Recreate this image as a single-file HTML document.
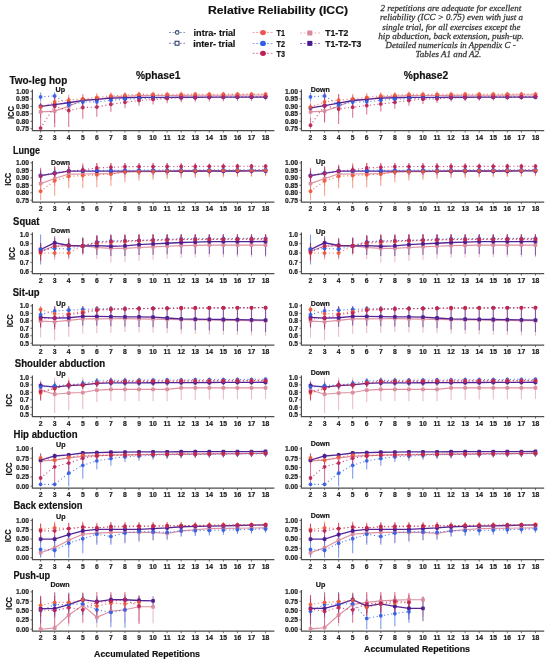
<!DOCTYPE html>
<html><head><meta charset="utf-8"><title>Relative Reliability (ICC)</title>
<style>
html,body{margin:0;padding:0;background:#fff;}
body{width:550px;height:661px;overflow:hidden;font-family:"Liberation Sans", sans-serif;}
svg{display:block;filter:blur(0.3px);}
</style></head>
<body>
<svg width="550" height="661" viewBox="0 0 550 661">
<rect width="550" height="661" fill="#fff"/>
<text x="208" y="14.1" font-size="11.5" font-weight="bold" text-anchor="start" fill="#111" font-family='"Liberation Sans", sans-serif' stroke="#111" stroke-width="0.18" textLength="140" lengthAdjust="spacingAndGlyphs">Relative Reliability (ICC)</text>
<line x1="169" y1="32.4" x2="185" y2="32.4" stroke="#2F4470" stroke-width="0.8" stroke-dasharray="2 1.6" opacity="0.75"/>
<circle cx="177.2" cy="32.4" r="1.8" fill="#fff" stroke="#2F4470" stroke-width="1.1"/>
<line x1="169" y1="43.3" x2="185" y2="43.3" stroke="#2F4470" stroke-width="0.8" stroke-dasharray="2 1.6" opacity="0.75"/>
<rect x="175.1" y="41.3" width="3.9" height="3.9" fill="#fff" stroke="#2F4470" stroke-width="1.1"/>
<text x="193.6" y="35.7" font-size="9.2" font-weight="bold" text-anchor="start" fill="#111" font-family='"Liberation Sans", sans-serif' stroke="#222" stroke-width="0.2" textLength="42" lengthAdjust="spacingAndGlyphs">intra- trial</text>
<text x="193.2" y="46.7" font-size="9.2" font-weight="bold" text-anchor="start" fill="#111" font-family='"Liberation Sans", sans-serif' stroke="#222" stroke-width="0.2" textLength="42.1" lengthAdjust="spacingAndGlyphs">inter- trial</text>
<line x1="252.6" y1="32.6" x2="273" y2="32.6" stroke="#F05838" stroke-width="0.8" stroke-dasharray="2 1.6" opacity="0.75"/>
<ellipse cx="263" cy="32.6" rx="2.9" ry="2.6" fill="#EC5656"/>
<text x="276.5" y="35.9" font-size="8.8" font-weight="bold" text-anchor="start" fill="#111" font-family='"Liberation Sans", sans-serif' stroke="#222" stroke-width="0.2" textLength="8.4" lengthAdjust="spacingAndGlyphs">T1</text>
<line x1="252.6" y1="43.4" x2="273" y2="43.4" stroke="#3260E4" stroke-width="0.8" stroke-dasharray="2 1.6" opacity="0.75"/>
<ellipse cx="263" cy="43.4" rx="2.9" ry="2.6" fill="#3260E4"/>
<text x="276.5" y="46.7" font-size="8.8" font-weight="bold" text-anchor="start" fill="#111" font-family='"Liberation Sans", sans-serif' stroke="#222" stroke-width="0.2" textLength="8.4" lengthAdjust="spacingAndGlyphs">T2</text>
<line x1="252.6" y1="53.3" x2="273" y2="53.3" stroke="#BC2256" stroke-width="0.8" stroke-dasharray="2 1.6" opacity="0.75"/>
<ellipse cx="263" cy="53.3" rx="2.9" ry="2.6" fill="#BC2256"/>
<text x="276.5" y="56.6" font-size="8.8" font-weight="bold" text-anchor="start" fill="#111" font-family='"Liberation Sans", sans-serif' stroke="#222" stroke-width="0.2" textLength="8.4" lengthAdjust="spacingAndGlyphs">T3</text>
<line x1="300" y1="33" x2="320" y2="33" stroke="#D9899B" stroke-width="0.8" stroke-dasharray="2 1.6" opacity="0.75"/>
<rect x="307.3" y="30.5" width="5" height="5" fill="#D9899B"/>
<text x="325.3" y="36.3" font-size="8.8" font-weight="bold" text-anchor="start" fill="#111" font-family='"Liberation Sans", sans-serif' stroke="#222" stroke-width="0.2" textLength="22.9" lengthAdjust="spacingAndGlyphs">T1-T2</text>
<line x1="300" y1="43.4" x2="320" y2="43.4" stroke="#4A188F" stroke-width="0.8" stroke-dasharray="2 1.6" opacity="0.75"/>
<rect x="307.3" y="40.9" width="5" height="5" fill="#4A188F"/>
<text x="325.3" y="46.7" font-size="8.8" font-weight="bold" text-anchor="start" fill="#111" font-family='"Liberation Sans", sans-serif' stroke="#222" stroke-width="0.2" textLength="36" lengthAdjust="spacingAndGlyphs">T1-T2-T3</text>
<text x="380.5" y="11.1" font-size="8.6" font-weight="normal" text-anchor="start" fill="#3c3c3c" font-family='"Liberation Serif", serif' font-style="italic" stroke="#3c3c3c" stroke-width="0.28" textLength="140.7" lengthAdjust="spacingAndGlyphs">2 repetitions are adequate for excellent</text>
<text x="380.1" y="20.4" font-size="8.6" font-weight="normal" text-anchor="start" fill="#3c3c3c" font-family='"Liberation Serif", serif' font-style="italic" stroke="#3c3c3c" stroke-width="0.28" textLength="143" lengthAdjust="spacingAndGlyphs">reliability (ICC &gt; 0.75) even with just a</text>
<text x="382.3" y="29.7" font-size="8.6" font-weight="normal" text-anchor="start" fill="#3c3c3c" font-family='"Liberation Serif", serif' font-style="italic" stroke="#3c3c3c" stroke-width="0.28" textLength="138.1" lengthAdjust="spacingAndGlyphs">single trial, for all exercises except the</text>
<text x="378.3" y="38.9" font-size="8.6" font-weight="normal" text-anchor="start" fill="#3c3c3c" font-family='"Liberation Serif", serif' font-style="italic" stroke="#3c3c3c" stroke-width="0.28" textLength="145.6" lengthAdjust="spacingAndGlyphs">hip abduction, back extension, push-up.</text>
<text x="385.6" y="47.7" font-size="8.6" font-weight="normal" text-anchor="start" fill="#3c3c3c" font-family='"Liberation Serif", serif' font-style="italic" stroke="#3c3c3c" stroke-width="0.28" textLength="130" lengthAdjust="spacingAndGlyphs">Detailed numericals in Appendix C -</text>
<text x="415.6" y="56.6" font-size="8.6" font-weight="normal" text-anchor="start" fill="#3c3c3c" font-family='"Liberation Serif", serif' font-style="italic" stroke="#3c3c3c" stroke-width="0.28" textLength="65.8" lengthAdjust="spacingAndGlyphs">Tables  A1 and A2.</text>
<text x="158.2" y="79.1" font-size="10" font-weight="bold" text-anchor="middle" fill="#111" font-family='"Liberation Sans", sans-serif' stroke="#111" stroke-width="0.18" textLength="44.4" lengthAdjust="spacingAndGlyphs">%phase1</text>
<text x="426" y="78.9" font-size="10" font-weight="bold" text-anchor="middle" fill="#111" font-family='"Liberation Sans", sans-serif' stroke="#111" stroke-width="0.18" textLength="44.4" lengthAdjust="spacingAndGlyphs">%phase2</text>
<text x="9.5" y="83.5" font-size="10.2" font-weight="bold" text-anchor="start" fill="#111" font-family='"Liberation Sans", sans-serif' stroke="#111" stroke-width="0.18" textLength="57.7" lengthAdjust="spacingAndGlyphs">Two-leg hop</text>
<text x="0" y="0" font-size="9" font-weight="bold" font-family='"Liberation Sans", sans-serif' fill="#111" text-anchor="middle" textLength="12.8" lengthAdjust="spacingAndGlyphs" stroke="#111" stroke-width="0.18" transform="translate(14.2 112.6) rotate(-90)">ICC</text>
<path d="M32.4 89.5V130.6H274.4" fill="none" stroke="#4d4d4d" stroke-width="1.2"/>
<text x="29" y="131.05" font-size="6.7" font-weight="bold" text-anchor="end" fill="#222" font-family='"Liberation Sans", sans-serif' stroke="#222" stroke-width="0.2">0.75</text>
<text x="29" y="123.59" font-size="6.7" font-weight="bold" text-anchor="end" fill="#222" font-family='"Liberation Sans", sans-serif' stroke="#222" stroke-width="0.2">0.80</text>
<text x="29" y="116.13" font-size="6.7" font-weight="bold" text-anchor="end" fill="#222" font-family='"Liberation Sans", sans-serif' stroke="#222" stroke-width="0.2">0.85</text>
<text x="29" y="108.67" font-size="6.7" font-weight="bold" text-anchor="end" fill="#222" font-family='"Liberation Sans", sans-serif' stroke="#222" stroke-width="0.2">0.90</text>
<text x="29" y="101.21" font-size="6.7" font-weight="bold" text-anchor="end" fill="#222" font-family='"Liberation Sans", sans-serif' stroke="#222" stroke-width="0.2">0.95</text>
<text x="29" y="93.75" font-size="6.7" font-weight="bold" text-anchor="end" fill="#222" font-family='"Liberation Sans", sans-serif' stroke="#222" stroke-width="0.2">1.00</text>
<text x="40.6" y="139.5" font-size="6.8" font-weight="bold" text-anchor="middle" fill="#222" font-family='"Liberation Sans", sans-serif' stroke="#222" stroke-width="0.2">2</text>
<text x="54.66" y="139.5" font-size="6.8" font-weight="bold" text-anchor="middle" fill="#222" font-family='"Liberation Sans", sans-serif' stroke="#222" stroke-width="0.2">3</text>
<text x="68.72" y="139.5" font-size="6.8" font-weight="bold" text-anchor="middle" fill="#222" font-family='"Liberation Sans", sans-serif' stroke="#222" stroke-width="0.2">4</text>
<text x="82.78" y="139.5" font-size="6.8" font-weight="bold" text-anchor="middle" fill="#222" font-family='"Liberation Sans", sans-serif' stroke="#222" stroke-width="0.2">5</text>
<text x="96.84" y="139.5" font-size="6.8" font-weight="bold" text-anchor="middle" fill="#222" font-family='"Liberation Sans", sans-serif' stroke="#222" stroke-width="0.2">6</text>
<text x="110.9" y="139.5" font-size="6.8" font-weight="bold" text-anchor="middle" fill="#222" font-family='"Liberation Sans", sans-serif' stroke="#222" stroke-width="0.2">7</text>
<text x="124.96" y="139.5" font-size="6.8" font-weight="bold" text-anchor="middle" fill="#222" font-family='"Liberation Sans", sans-serif' stroke="#222" stroke-width="0.2">8</text>
<text x="139.02" y="139.5" font-size="6.8" font-weight="bold" text-anchor="middle" fill="#222" font-family='"Liberation Sans", sans-serif' stroke="#222" stroke-width="0.2">9</text>
<text x="153.08" y="139.5" font-size="6.8" font-weight="bold" text-anchor="middle" fill="#222" font-family='"Liberation Sans", sans-serif' stroke="#222" stroke-width="0.2">10</text>
<text x="167.14" y="139.5" font-size="6.8" font-weight="bold" text-anchor="middle" fill="#222" font-family='"Liberation Sans", sans-serif' stroke="#222" stroke-width="0.2">11</text>
<text x="181.2" y="139.5" font-size="6.8" font-weight="bold" text-anchor="middle" fill="#222" font-family='"Liberation Sans", sans-serif' stroke="#222" stroke-width="0.2">12</text>
<text x="195.26" y="139.5" font-size="6.8" font-weight="bold" text-anchor="middle" fill="#222" font-family='"Liberation Sans", sans-serif' stroke="#222" stroke-width="0.2">13</text>
<text x="209.32" y="139.5" font-size="6.8" font-weight="bold" text-anchor="middle" fill="#222" font-family='"Liberation Sans", sans-serif' stroke="#222" stroke-width="0.2">14</text>
<text x="223.38" y="139.5" font-size="6.8" font-weight="bold" text-anchor="middle" fill="#222" font-family='"Liberation Sans", sans-serif' stroke="#222" stroke-width="0.2">15</text>
<text x="237.44" y="139.5" font-size="6.8" font-weight="bold" text-anchor="middle" fill="#222" font-family='"Liberation Sans", sans-serif' stroke="#222" stroke-width="0.2">16</text>
<text x="251.5" y="139.5" font-size="6.8" font-weight="bold" text-anchor="middle" fill="#222" font-family='"Liberation Sans", sans-serif' stroke="#222" stroke-width="0.2">17</text>
<text x="265.56" y="139.5" font-size="6.8" font-weight="bold" text-anchor="middle" fill="#222" font-family='"Liberation Sans", sans-serif' stroke="#222" stroke-width="0.2">18</text>
<path d="M30.4 128.7H32.4M30.4 121.24H32.4M30.4 113.78H32.4M30.4 106.32H32.4M30.4 98.86H32.4M30.4 91.4H32.4M40.6 130.6V132.6M54.66 130.6V132.6M68.72 130.6V132.6M82.78 130.6V132.6M96.84 130.6V132.6M110.9 130.6V132.6M124.96 130.6V132.6M139.02 130.6V132.6M153.08 130.6V132.6M167.14 130.6V132.6M181.2 130.6V132.6M195.26 130.6V132.6M209.32 130.6V132.6M223.38 130.6V132.6M237.44 130.6V132.6M251.5 130.6V132.6M265.56 130.6V132.6" stroke="#4a4a4a" stroke-width="0.8"/>
<path d="M40.6 105.87V117.81M54.66 99.16V123.03M68.72 98.86V113.78M82.78 94.38V106.32M96.84 94.98V103.93M110.9 93.09V101.05M124.96 92.84V99.8M139.02 92.59V98.56M153.08 92.66V98.36M167.14 92.73V98.16M181.2 92.79V97.96M195.26 92.86V97.77M209.32 92.93V97.57M223.38 92.99V97.37M237.44 93.06V97.17M251.5 93.12V96.97M265.56 93.19V96.77" stroke="#D9899B" stroke-width="1.1" opacity="0.55"/>
<path d="M40.6 102.59V110.05M54.66 101.32V108.04M68.72 99.76V105.72M82.78 97.61V103.1M96.84 96.95V101.96M110.9 95.85V100.38M124.96 95.71V99.77M139.02 95.58V99.16M153.08 95.58V99.09M167.14 95.58V99.03M181.2 95.58V98.96M195.26 95.58V98.89M209.32 95.58V98.83M223.38 95.58V98.76M237.44 95.58V98.69M251.5 95.58V98.63M265.56 95.58V98.56" stroke="#4A188F" stroke-width="1.1" opacity="0.62"/>
<path d="M40.6 92.44V101.4M54.66 92.15V99.61M68.72 99.01V110.95M82.78 96.77V107.22M96.84 97.37V106.32M110.9 96.37V104.33M124.96 95.68V102.64M139.02 95.65V101.62M153.08 95.21V101.02M167.14 95.11V100.75M181.2 95.01V100.48M195.26 94.9V100.21M209.32 94.8V99.94M223.38 94.69V99.67M237.44 94.59V99.4M251.5 94.49V99.13M265.56 94.38V98.86" stroke="#3260E4" stroke-width="1.1" opacity="0.62"/>
<path d="M40.6 102.59V111.54M54.66 96.77V107.22M68.72 94.83V105.28M82.78 94.01V103.71M96.84 92.89V101.84M110.9 92.15V99.61M124.96 92.15V98.11M139.02 91.47V97.29M153.08 91.52V97.19M167.14 91.56V97.08M181.2 91.6V96.97M195.26 91.64V96.86M209.32 91.68V96.75M223.38 91.72V96.65M237.44 91.76V96.54M251.5 91.81V96.43M265.56 91.85V96.32" stroke="#F05838" stroke-width="1.1" opacity="0.55"/>
<path d="M40.6 113.18V128.7M54.66 95.88V127.21M68.72 97.07V126.91M82.78 98.56V118.7M96.84 98.11V116.76M110.9 96.77V111.69M124.96 96.32V108.26M139.02 95.28V105.72M153.08 94.48V104.43M167.14 93.69V103.14M181.2 93.19V102.14M195.26 93.14V101.84M209.32 93.09V101.55M223.38 93.04V101.25M237.44 92.99V100.95M251.5 92.94V100.65M265.56 92.89V100.35" stroke="#BC2256" stroke-width="1.1" opacity="0.6"/>
<polyline points="40.6,111.84 54.66,111.09 68.72,106.32 82.78,100.35 96.84,99.46 110.9,97.07 124.96,96.32 139.02,95.58 153.08,95.51 167.14,95.44 181.2,95.38 195.26,95.31 209.32,95.25 223.38,95.18 237.44,95.11 251.5,95.05 265.56,94.98" fill="none" stroke="#D9899B" stroke-width="1.1" opacity="0.95"/>
<polyline points="40.6,106.32 54.66,104.68 68.72,102.74 82.78,100.35 96.84,99.46 110.9,98.11 124.96,97.74 139.02,97.37 153.08,97.33 167.14,97.3 181.2,97.27 195.26,97.24 209.32,97.2 223.38,97.17 237.44,97.14 251.5,97.1 265.56,97.07" fill="none" stroke="#4A188F" stroke-width="1.3" opacity="0.95"/>
<polyline points="40.6,96.92 54.66,95.88 68.72,104.98 82.78,101.99 96.84,101.84 110.9,100.35 124.96,99.16 139.02,98.64 153.08,98.11 167.14,97.93 181.2,97.74 195.26,97.55 209.32,97.37 223.38,97.18 237.44,97 251.5,96.81 265.56,96.62" fill="none" stroke="#3260E4" stroke-width="1.1" stroke-dasharray="1.1 2.6" opacity="0.8"/>
<polyline points="40.6,107.07 54.66,101.99 68.72,100.05 82.78,98.86 96.84,97.37 110.9,95.88 124.96,95.13 139.02,94.38 153.08,94.35 167.14,94.32 181.2,94.28 195.26,94.25 209.32,94.22 223.38,94.19 237.44,94.15 251.5,94.12 265.56,94.09" fill="none" stroke="#F05838" stroke-width="1.1" stroke-dasharray="1.1 2.6" opacity="0.8"/>
<polyline points="40.6,128.1 54.66,106.32 68.72,110.5 82.78,107.51 96.84,107.07 110.9,104.23 124.96,102.29 139.02,100.5 153.08,99.46 167.14,98.41 181.2,97.67 195.26,97.49 209.32,97.32 223.38,97.14 237.44,96.97 251.5,96.8 265.56,96.62" fill="none" stroke="#BC2256" stroke-width="1.1" stroke-dasharray="1.1 2.6" opacity="0.8"/>
<rect x="38.7" y="109.94" width="3.8" height="3.8" rx="1" fill="#D9899B" opacity="0.9"/>
<rect x="52.76" y="109.19" width="3.8" height="3.8" rx="1" fill="#D9899B" opacity="0.9"/>
<rect x="66.82" y="104.42" width="3.8" height="3.8" rx="1" fill="#D9899B" opacity="0.9"/>
<rect x="80.88" y="98.45" width="3.8" height="3.8" rx="1" fill="#D9899B" opacity="0.9"/>
<rect x="94.94" y="97.56" width="3.8" height="3.8" rx="1" fill="#D9899B" opacity="0.9"/>
<rect x="109" y="95.17" width="3.8" height="3.8" rx="1" fill="#D9899B" opacity="0.9"/>
<rect x="123.06" y="94.42" width="3.8" height="3.8" rx="1" fill="#D9899B" opacity="0.9"/>
<rect x="137.12" y="93.68" width="3.8" height="3.8" rx="1" fill="#D9899B" opacity="0.9"/>
<rect x="151.18" y="93.61" width="3.8" height="3.8" rx="1" fill="#D9899B" opacity="0.9"/>
<rect x="165.24" y="93.54" width="3.8" height="3.8" rx="1" fill="#D9899B" opacity="0.9"/>
<rect x="179.3" y="93.48" width="3.8" height="3.8" rx="1" fill="#D9899B" opacity="0.9"/>
<rect x="193.36" y="93.41" width="3.8" height="3.8" rx="1" fill="#D9899B" opacity="0.9"/>
<rect x="207.42" y="93.35" width="3.8" height="3.8" rx="1" fill="#D9899B" opacity="0.9"/>
<rect x="221.48" y="93.28" width="3.8" height="3.8" rx="1" fill="#D9899B" opacity="0.9"/>
<rect x="235.54" y="93.21" width="3.8" height="3.8" rx="1" fill="#D9899B" opacity="0.9"/>
<rect x="249.6" y="93.15" width="3.8" height="3.8" rx="1" fill="#D9899B" opacity="0.9"/>
<rect x="263.66" y="93.08" width="3.8" height="3.8" rx="1" fill="#D9899B" opacity="0.9"/>
<rect x="38.7" y="104.42" width="3.8" height="3.8" rx="1" fill="#4A188F" opacity="0.9"/>
<rect x="52.76" y="102.78" width="3.8" height="3.8" rx="1" fill="#4A188F" opacity="0.9"/>
<rect x="66.82" y="100.84" width="3.8" height="3.8" rx="1" fill="#4A188F" opacity="0.9"/>
<rect x="80.88" y="98.45" width="3.8" height="3.8" rx="1" fill="#4A188F" opacity="0.9"/>
<rect x="94.94" y="97.56" width="3.8" height="3.8" rx="1" fill="#4A188F" opacity="0.9"/>
<rect x="109" y="96.21" width="3.8" height="3.8" rx="1" fill="#4A188F" opacity="0.9"/>
<rect x="123.06" y="95.84" width="3.8" height="3.8" rx="1" fill="#4A188F" opacity="0.9"/>
<rect x="137.12" y="95.47" width="3.8" height="3.8" rx="1" fill="#4A188F" opacity="0.9"/>
<rect x="151.18" y="95.43" width="3.8" height="3.8" rx="1" fill="#4A188F" opacity="0.9"/>
<rect x="165.24" y="95.4" width="3.8" height="3.8" rx="1" fill="#4A188F" opacity="0.9"/>
<rect x="179.3" y="95.37" width="3.8" height="3.8" rx="1" fill="#4A188F" opacity="0.9"/>
<rect x="193.36" y="95.34" width="3.8" height="3.8" rx="1" fill="#4A188F" opacity="0.9"/>
<rect x="207.42" y="95.3" width="3.8" height="3.8" rx="1" fill="#4A188F" opacity="0.9"/>
<rect x="221.48" y="95.27" width="3.8" height="3.8" rx="1" fill="#4A188F" opacity="0.9"/>
<rect x="235.54" y="95.24" width="3.8" height="3.8" rx="1" fill="#4A188F" opacity="0.9"/>
<rect x="249.6" y="95.2" width="3.8" height="3.8" rx="1" fill="#4A188F" opacity="0.9"/>
<rect x="263.66" y="95.17" width="3.8" height="3.8" rx="1" fill="#4A188F" opacity="0.9"/>
<circle cx="40.6" cy="96.92" r="1.9" fill="#3260E4" opacity="0.92"/>
<circle cx="54.66" cy="95.88" r="1.9" fill="#3260E4" opacity="0.92"/>
<circle cx="68.72" cy="104.98" r="1.9" fill="#3260E4" opacity="0.92"/>
<circle cx="82.78" cy="101.99" r="1.9" fill="#3260E4" opacity="0.92"/>
<circle cx="96.84" cy="101.84" r="1.9" fill="#3260E4" opacity="0.92"/>
<circle cx="110.9" cy="100.35" r="1.9" fill="#3260E4" opacity="0.92"/>
<circle cx="124.96" cy="99.16" r="1.9" fill="#3260E4" opacity="0.92"/>
<circle cx="139.02" cy="98.64" r="1.9" fill="#3260E4" opacity="0.92"/>
<circle cx="153.08" cy="98.11" r="1.9" fill="#3260E4" opacity="0.92"/>
<circle cx="167.14" cy="97.93" r="1.9" fill="#3260E4" opacity="0.92"/>
<circle cx="181.2" cy="97.74" r="1.9" fill="#3260E4" opacity="0.92"/>
<circle cx="195.26" cy="97.55" r="1.9" fill="#3260E4" opacity="0.92"/>
<circle cx="209.32" cy="97.37" r="1.9" fill="#3260E4" opacity="0.92"/>
<circle cx="223.38" cy="97.18" r="1.9" fill="#3260E4" opacity="0.92"/>
<circle cx="237.44" cy="97" r="1.9" fill="#3260E4" opacity="0.92"/>
<circle cx="251.5" cy="96.81" r="1.9" fill="#3260E4" opacity="0.92"/>
<circle cx="265.56" cy="96.62" r="1.9" fill="#3260E4" opacity="0.92"/>
<circle cx="40.6" cy="107.07" r="1.9" fill="#F05838" opacity="0.92"/>
<circle cx="54.66" cy="101.99" r="1.9" fill="#F05838" opacity="0.92"/>
<circle cx="68.72" cy="100.05" r="1.9" fill="#F05838" opacity="0.92"/>
<circle cx="82.78" cy="98.86" r="1.9" fill="#F05838" opacity="0.92"/>
<circle cx="96.84" cy="97.37" r="1.9" fill="#F05838" opacity="0.92"/>
<circle cx="110.9" cy="95.88" r="1.9" fill="#F05838" opacity="0.92"/>
<circle cx="124.96" cy="95.13" r="1.9" fill="#F05838" opacity="0.92"/>
<circle cx="139.02" cy="94.38" r="1.9" fill="#F05838" opacity="0.92"/>
<circle cx="153.08" cy="94.35" r="1.9" fill="#F05838" opacity="0.92"/>
<circle cx="167.14" cy="94.32" r="1.9" fill="#F05838" opacity="0.92"/>
<circle cx="181.2" cy="94.28" r="1.9" fill="#F05838" opacity="0.92"/>
<circle cx="195.26" cy="94.25" r="1.9" fill="#F05838" opacity="0.92"/>
<circle cx="209.32" cy="94.22" r="1.9" fill="#F05838" opacity="0.92"/>
<circle cx="223.38" cy="94.19" r="1.9" fill="#F05838" opacity="0.92"/>
<circle cx="237.44" cy="94.15" r="1.9" fill="#F05838" opacity="0.92"/>
<circle cx="251.5" cy="94.12" r="1.9" fill="#F05838" opacity="0.92"/>
<circle cx="265.56" cy="94.09" r="1.9" fill="#F05838" opacity="0.92"/>
<circle cx="40.6" cy="128.1" r="1.9" fill="#BC2256" opacity="0.92"/>
<circle cx="54.66" cy="106.32" r="1.9" fill="#BC2256" opacity="0.92"/>
<circle cx="68.72" cy="110.5" r="1.9" fill="#BC2256" opacity="0.92"/>
<circle cx="82.78" cy="107.51" r="1.9" fill="#BC2256" opacity="0.92"/>
<circle cx="96.84" cy="107.07" r="1.9" fill="#BC2256" opacity="0.92"/>
<circle cx="110.9" cy="104.23" r="1.9" fill="#BC2256" opacity="0.92"/>
<circle cx="124.96" cy="102.29" r="1.9" fill="#BC2256" opacity="0.92"/>
<circle cx="139.02" cy="100.5" r="1.9" fill="#BC2256" opacity="0.92"/>
<circle cx="153.08" cy="99.46" r="1.9" fill="#BC2256" opacity="0.92"/>
<circle cx="167.14" cy="98.41" r="1.9" fill="#BC2256" opacity="0.92"/>
<circle cx="181.2" cy="97.67" r="1.9" fill="#BC2256" opacity="0.92"/>
<circle cx="195.26" cy="97.49" r="1.9" fill="#BC2256" opacity="0.92"/>
<circle cx="209.32" cy="97.32" r="1.9" fill="#BC2256" opacity="0.92"/>
<circle cx="223.38" cy="97.14" r="1.9" fill="#BC2256" opacity="0.92"/>
<circle cx="237.44" cy="96.97" r="1.9" fill="#BC2256" opacity="0.92"/>
<circle cx="251.5" cy="96.8" r="1.9" fill="#BC2256" opacity="0.92"/>
<circle cx="265.56" cy="96.62" r="1.9" fill="#BC2256" opacity="0.92"/>
<text x="55.5" y="92" font-size="7.2" font-weight="bold" text-anchor="start" fill="#111" font-family='"Liberation Sans", sans-serif' stroke="#222" stroke-width="0.2" textLength="9.6" lengthAdjust="spacingAndGlyphs">Up</text>
<path d="M301.4 89.5V130.6H544.2" fill="none" stroke="#4d4d4d" stroke-width="1.2"/>
<text x="298" y="131.05" font-size="6.7" font-weight="bold" text-anchor="end" fill="#222" font-family='"Liberation Sans", sans-serif' stroke="#222" stroke-width="0.2">0.75</text>
<text x="298" y="123.59" font-size="6.7" font-weight="bold" text-anchor="end" fill="#222" font-family='"Liberation Sans", sans-serif' stroke="#222" stroke-width="0.2">0.80</text>
<text x="298" y="116.13" font-size="6.7" font-weight="bold" text-anchor="end" fill="#222" font-family='"Liberation Sans", sans-serif' stroke="#222" stroke-width="0.2">0.85</text>
<text x="298" y="108.67" font-size="6.7" font-weight="bold" text-anchor="end" fill="#222" font-family='"Liberation Sans", sans-serif' stroke="#222" stroke-width="0.2">0.90</text>
<text x="298" y="101.21" font-size="6.7" font-weight="bold" text-anchor="end" fill="#222" font-family='"Liberation Sans", sans-serif' stroke="#222" stroke-width="0.2">0.95</text>
<text x="298" y="93.75" font-size="6.7" font-weight="bold" text-anchor="end" fill="#222" font-family='"Liberation Sans", sans-serif' stroke="#222" stroke-width="0.2">1.00</text>
<text x="310.5" y="139.5" font-size="6.8" font-weight="bold" text-anchor="middle" fill="#222" font-family='"Liberation Sans", sans-serif' stroke="#222" stroke-width="0.2">2</text>
<text x="324.56" y="139.5" font-size="6.8" font-weight="bold" text-anchor="middle" fill="#222" font-family='"Liberation Sans", sans-serif' stroke="#222" stroke-width="0.2">3</text>
<text x="338.62" y="139.5" font-size="6.8" font-weight="bold" text-anchor="middle" fill="#222" font-family='"Liberation Sans", sans-serif' stroke="#222" stroke-width="0.2">4</text>
<text x="352.68" y="139.5" font-size="6.8" font-weight="bold" text-anchor="middle" fill="#222" font-family='"Liberation Sans", sans-serif' stroke="#222" stroke-width="0.2">5</text>
<text x="366.74" y="139.5" font-size="6.8" font-weight="bold" text-anchor="middle" fill="#222" font-family='"Liberation Sans", sans-serif' stroke="#222" stroke-width="0.2">6</text>
<text x="380.8" y="139.5" font-size="6.8" font-weight="bold" text-anchor="middle" fill="#222" font-family='"Liberation Sans", sans-serif' stroke="#222" stroke-width="0.2">7</text>
<text x="394.86" y="139.5" font-size="6.8" font-weight="bold" text-anchor="middle" fill="#222" font-family='"Liberation Sans", sans-serif' stroke="#222" stroke-width="0.2">8</text>
<text x="408.92" y="139.5" font-size="6.8" font-weight="bold" text-anchor="middle" fill="#222" font-family='"Liberation Sans", sans-serif' stroke="#222" stroke-width="0.2">9</text>
<text x="422.98" y="139.5" font-size="6.8" font-weight="bold" text-anchor="middle" fill="#222" font-family='"Liberation Sans", sans-serif' stroke="#222" stroke-width="0.2">10</text>
<text x="437.04" y="139.5" font-size="6.8" font-weight="bold" text-anchor="middle" fill="#222" font-family='"Liberation Sans", sans-serif' stroke="#222" stroke-width="0.2">11</text>
<text x="451.1" y="139.5" font-size="6.8" font-weight="bold" text-anchor="middle" fill="#222" font-family='"Liberation Sans", sans-serif' stroke="#222" stroke-width="0.2">12</text>
<text x="465.16" y="139.5" font-size="6.8" font-weight="bold" text-anchor="middle" fill="#222" font-family='"Liberation Sans", sans-serif' stroke="#222" stroke-width="0.2">13</text>
<text x="479.22" y="139.5" font-size="6.8" font-weight="bold" text-anchor="middle" fill="#222" font-family='"Liberation Sans", sans-serif' stroke="#222" stroke-width="0.2">14</text>
<text x="493.28" y="139.5" font-size="6.8" font-weight="bold" text-anchor="middle" fill="#222" font-family='"Liberation Sans", sans-serif' stroke="#222" stroke-width="0.2">15</text>
<text x="507.34" y="139.5" font-size="6.8" font-weight="bold" text-anchor="middle" fill="#222" font-family='"Liberation Sans", sans-serif' stroke="#222" stroke-width="0.2">16</text>
<text x="521.4" y="139.5" font-size="6.8" font-weight="bold" text-anchor="middle" fill="#222" font-family='"Liberation Sans", sans-serif' stroke="#222" stroke-width="0.2">17</text>
<text x="535.46" y="139.5" font-size="6.8" font-weight="bold" text-anchor="middle" fill="#222" font-family='"Liberation Sans", sans-serif' stroke="#222" stroke-width="0.2">18</text>
<path d="M299.4 128.7H301.4M299.4 121.24H301.4M299.4 113.78H301.4M299.4 106.32H301.4M299.4 98.86H301.4M299.4 91.4H301.4M310.5 130.6V132.6M324.56 130.6V132.6M338.62 130.6V132.6M352.68 130.6V132.6M366.74 130.6V132.6M380.8 130.6V132.6M394.86 130.6V132.6M408.92 130.6V132.6M422.98 130.6V132.6M437.04 130.6V132.6M451.1 130.6V132.6M465.16 130.6V132.6M479.22 130.6V132.6M493.28 130.6V132.6M507.34 130.6V132.6M521.4 130.6V132.6M535.46 130.6V132.6" stroke="#4a4a4a" stroke-width="0.8"/>
<path d="M310.5 105.87V117.81M324.56 99.16V123.03M338.62 98.86V113.78M352.68 94.38V106.32M366.74 94.98V103.93M380.8 93.09V101.05M394.86 92.84V99.8M408.92 92.59V98.56M422.98 92.66V98.36M437.04 92.73V98.16M451.1 92.79V97.96M465.16 92.86V97.77M479.22 92.93V97.57M493.28 92.99V97.37M507.34 93.06V97.17M521.4 93.12V96.97M535.46 93.19V96.77" stroke="#D9899B" stroke-width="1.1" opacity="0.55"/>
<path d="M310.5 104.08V111.54M324.56 102.22V108.93M338.62 100.2V106.17M352.68 97.76V103.25M366.74 96.95V101.96M380.8 95.85V100.38M394.86 95.71V99.77M408.92 95.58V99.16M422.98 95.58V99.09M437.04 95.58V99.03M451.1 95.58V98.96M465.16 95.58V98.89M479.22 95.58V98.83M493.28 95.58V98.76M507.34 95.58V98.69M521.4 95.58V98.63M535.46 95.58V98.56" stroke="#4A188F" stroke-width="1.1" opacity="0.62"/>
<path d="M310.5 92.44V101.4M324.56 92.15V99.61M338.62 99.01V110.95M352.68 96.77V107.22M366.74 97.37V106.32M380.8 96.37V104.33M394.86 95.68V102.64M408.92 95.65V101.62M422.98 95.21V101.02M437.04 95.11V100.75M451.1 95.01V100.48M465.16 94.9V100.21M479.22 94.8V99.94M493.28 94.69V99.67M507.34 94.59V99.4M521.4 94.49V99.13M535.46 94.38V98.86" stroke="#3260E4" stroke-width="1.1" opacity="0.62"/>
<path d="M310.5 102.59V111.54M324.56 96.77V107.22M338.62 94.83V105.28M352.68 94.01V103.71M366.74 92.89V101.84M380.8 92.15V99.61M394.86 92.15V98.11M408.92 91.47V97.29M422.98 91.52V97.19M437.04 91.56V97.08M451.1 91.6V96.97M465.16 91.64V96.86M479.22 91.68V96.75M493.28 91.72V96.65M507.34 91.76V96.54M521.4 91.81V96.43M535.46 91.85V96.32" stroke="#F05838" stroke-width="1.1" opacity="0.55"/>
<path d="M310.5 117.81V128.7M324.56 91.4V121.99M338.62 94.09V123.93M352.68 96.77V117.66M366.74 96.62V114.53M380.8 96.47V111.39M394.86 95.95V108.63M408.92 95.28V105.72M422.98 94.43V103.88M437.04 94.63V103.09M451.1 93.94V101.4M465.16 93.89V101.1M479.22 93.84V100.8M493.28 93.79V100.5M507.34 93.74V100.2M521.4 93.69V99.9M535.46 93.64V99.61" stroke="#BC2256" stroke-width="1.1" opacity="0.6"/>
<polyline points="310.5,111.84 324.56,111.09 338.62,106.32 352.68,100.35 366.74,99.46 380.8,97.07 394.86,96.32 408.92,95.58 422.98,95.51 437.04,95.44 451.1,95.38 465.16,95.31 479.22,95.25 493.28,95.18 507.34,95.11 521.4,95.05 535.46,94.98" fill="none" stroke="#D9899B" stroke-width="1.1" opacity="0.95"/>
<polyline points="310.5,107.81 324.56,105.57 338.62,103.19 352.68,100.5 366.74,99.46 380.8,98.11 394.86,97.74 408.92,97.37 422.98,97.33 437.04,97.3 451.1,97.27 465.16,97.24 479.22,97.2 493.28,97.17 507.34,97.14 521.4,97.1 535.46,97.07" fill="none" stroke="#4A188F" stroke-width="1.3" opacity="0.95"/>
<polyline points="310.5,96.92 324.56,95.88 338.62,104.98 352.68,101.99 366.74,101.84 380.8,100.35 394.86,99.16 408.92,98.64 422.98,98.11 437.04,97.93 451.1,97.74 465.16,97.55 479.22,97.37 493.28,97.18 507.34,97 521.4,96.81 535.46,96.62" fill="none" stroke="#3260E4" stroke-width="1.1" stroke-dasharray="1.1 2.6" opacity="0.8"/>
<polyline points="310.5,107.07 324.56,101.99 338.62,100.05 352.68,98.86 366.74,97.37 380.8,95.88 394.86,95.13 408.92,94.38 422.98,94.35 437.04,94.32 451.1,94.28 465.16,94.25 479.22,94.22 493.28,94.19 507.34,94.15 521.4,94.12 535.46,94.09" fill="none" stroke="#F05838" stroke-width="1.1" stroke-dasharray="1.1 2.6" opacity="0.8"/>
<polyline points="310.5,125.27 324.56,105.57 338.62,109.01 352.68,107.22 366.74,105.57 380.8,103.93 394.86,102.29 408.92,100.5 422.98,99.16 437.04,98.86 451.1,97.67 465.16,97.49 479.22,97.32 493.28,97.14 507.34,96.97 521.4,96.8 535.46,96.62" fill="none" stroke="#BC2256" stroke-width="1.1" stroke-dasharray="1.1 2.6" opacity="0.8"/>
<rect x="308.6" y="109.94" width="3.8" height="3.8" rx="1" fill="#D9899B" opacity="0.9"/>
<rect x="322.66" y="109.19" width="3.8" height="3.8" rx="1" fill="#D9899B" opacity="0.9"/>
<rect x="336.72" y="104.42" width="3.8" height="3.8" rx="1" fill="#D9899B" opacity="0.9"/>
<rect x="350.78" y="98.45" width="3.8" height="3.8" rx="1" fill="#D9899B" opacity="0.9"/>
<rect x="364.84" y="97.56" width="3.8" height="3.8" rx="1" fill="#D9899B" opacity="0.9"/>
<rect x="378.9" y="95.17" width="3.8" height="3.8" rx="1" fill="#D9899B" opacity="0.9"/>
<rect x="392.96" y="94.42" width="3.8" height="3.8" rx="1" fill="#D9899B" opacity="0.9"/>
<rect x="407.02" y="93.68" width="3.8" height="3.8" rx="1" fill="#D9899B" opacity="0.9"/>
<rect x="421.08" y="93.61" width="3.8" height="3.8" rx="1" fill="#D9899B" opacity="0.9"/>
<rect x="435.14" y="93.54" width="3.8" height="3.8" rx="1" fill="#D9899B" opacity="0.9"/>
<rect x="449.2" y="93.48" width="3.8" height="3.8" rx="1" fill="#D9899B" opacity="0.9"/>
<rect x="463.26" y="93.41" width="3.8" height="3.8" rx="1" fill="#D9899B" opacity="0.9"/>
<rect x="477.32" y="93.35" width="3.8" height="3.8" rx="1" fill="#D9899B" opacity="0.9"/>
<rect x="491.38" y="93.28" width="3.8" height="3.8" rx="1" fill="#D9899B" opacity="0.9"/>
<rect x="505.44" y="93.21" width="3.8" height="3.8" rx="1" fill="#D9899B" opacity="0.9"/>
<rect x="519.5" y="93.15" width="3.8" height="3.8" rx="1" fill="#D9899B" opacity="0.9"/>
<rect x="533.56" y="93.08" width="3.8" height="3.8" rx="1" fill="#D9899B" opacity="0.9"/>
<rect x="308.6" y="105.91" width="3.8" height="3.8" rx="1" fill="#4A188F" opacity="0.9"/>
<rect x="322.66" y="103.67" width="3.8" height="3.8" rx="1" fill="#4A188F" opacity="0.9"/>
<rect x="336.72" y="101.29" width="3.8" height="3.8" rx="1" fill="#4A188F" opacity="0.9"/>
<rect x="350.78" y="98.6" width="3.8" height="3.8" rx="1" fill="#4A188F" opacity="0.9"/>
<rect x="364.84" y="97.56" width="3.8" height="3.8" rx="1" fill="#4A188F" opacity="0.9"/>
<rect x="378.9" y="96.21" width="3.8" height="3.8" rx="1" fill="#4A188F" opacity="0.9"/>
<rect x="392.96" y="95.84" width="3.8" height="3.8" rx="1" fill="#4A188F" opacity="0.9"/>
<rect x="407.02" y="95.47" width="3.8" height="3.8" rx="1" fill="#4A188F" opacity="0.9"/>
<rect x="421.08" y="95.43" width="3.8" height="3.8" rx="1" fill="#4A188F" opacity="0.9"/>
<rect x="435.14" y="95.4" width="3.8" height="3.8" rx="1" fill="#4A188F" opacity="0.9"/>
<rect x="449.2" y="95.37" width="3.8" height="3.8" rx="1" fill="#4A188F" opacity="0.9"/>
<rect x="463.26" y="95.34" width="3.8" height="3.8" rx="1" fill="#4A188F" opacity="0.9"/>
<rect x="477.32" y="95.3" width="3.8" height="3.8" rx="1" fill="#4A188F" opacity="0.9"/>
<rect x="491.38" y="95.27" width="3.8" height="3.8" rx="1" fill="#4A188F" opacity="0.9"/>
<rect x="505.44" y="95.24" width="3.8" height="3.8" rx="1" fill="#4A188F" opacity="0.9"/>
<rect x="519.5" y="95.2" width="3.8" height="3.8" rx="1" fill="#4A188F" opacity="0.9"/>
<rect x="533.56" y="95.17" width="3.8" height="3.8" rx="1" fill="#4A188F" opacity="0.9"/>
<circle cx="310.5" cy="96.92" r="1.9" fill="#3260E4" opacity="0.92"/>
<circle cx="324.56" cy="95.88" r="1.9" fill="#3260E4" opacity="0.92"/>
<circle cx="338.62" cy="104.98" r="1.9" fill="#3260E4" opacity="0.92"/>
<circle cx="352.68" cy="101.99" r="1.9" fill="#3260E4" opacity="0.92"/>
<circle cx="366.74" cy="101.84" r="1.9" fill="#3260E4" opacity="0.92"/>
<circle cx="380.8" cy="100.35" r="1.9" fill="#3260E4" opacity="0.92"/>
<circle cx="394.86" cy="99.16" r="1.9" fill="#3260E4" opacity="0.92"/>
<circle cx="408.92" cy="98.64" r="1.9" fill="#3260E4" opacity="0.92"/>
<circle cx="422.98" cy="98.11" r="1.9" fill="#3260E4" opacity="0.92"/>
<circle cx="437.04" cy="97.93" r="1.9" fill="#3260E4" opacity="0.92"/>
<circle cx="451.1" cy="97.74" r="1.9" fill="#3260E4" opacity="0.92"/>
<circle cx="465.16" cy="97.55" r="1.9" fill="#3260E4" opacity="0.92"/>
<circle cx="479.22" cy="97.37" r="1.9" fill="#3260E4" opacity="0.92"/>
<circle cx="493.28" cy="97.18" r="1.9" fill="#3260E4" opacity="0.92"/>
<circle cx="507.34" cy="97" r="1.9" fill="#3260E4" opacity="0.92"/>
<circle cx="521.4" cy="96.81" r="1.9" fill="#3260E4" opacity="0.92"/>
<circle cx="535.46" cy="96.62" r="1.9" fill="#3260E4" opacity="0.92"/>
<circle cx="310.5" cy="107.07" r="1.9" fill="#F05838" opacity="0.92"/>
<circle cx="324.56" cy="101.99" r="1.9" fill="#F05838" opacity="0.92"/>
<circle cx="338.62" cy="100.05" r="1.9" fill="#F05838" opacity="0.92"/>
<circle cx="352.68" cy="98.86" r="1.9" fill="#F05838" opacity="0.92"/>
<circle cx="366.74" cy="97.37" r="1.9" fill="#F05838" opacity="0.92"/>
<circle cx="380.8" cy="95.88" r="1.9" fill="#F05838" opacity="0.92"/>
<circle cx="394.86" cy="95.13" r="1.9" fill="#F05838" opacity="0.92"/>
<circle cx="408.92" cy="94.38" r="1.9" fill="#F05838" opacity="0.92"/>
<circle cx="422.98" cy="94.35" r="1.9" fill="#F05838" opacity="0.92"/>
<circle cx="437.04" cy="94.32" r="1.9" fill="#F05838" opacity="0.92"/>
<circle cx="451.1" cy="94.28" r="1.9" fill="#F05838" opacity="0.92"/>
<circle cx="465.16" cy="94.25" r="1.9" fill="#F05838" opacity="0.92"/>
<circle cx="479.22" cy="94.22" r="1.9" fill="#F05838" opacity="0.92"/>
<circle cx="493.28" cy="94.19" r="1.9" fill="#F05838" opacity="0.92"/>
<circle cx="507.34" cy="94.15" r="1.9" fill="#F05838" opacity="0.92"/>
<circle cx="521.4" cy="94.12" r="1.9" fill="#F05838" opacity="0.92"/>
<circle cx="535.46" cy="94.09" r="1.9" fill="#F05838" opacity="0.92"/>
<circle cx="310.5" cy="125.27" r="1.9" fill="#BC2256" opacity="0.92"/>
<circle cx="324.56" cy="105.57" r="1.9" fill="#BC2256" opacity="0.92"/>
<circle cx="338.62" cy="109.01" r="1.9" fill="#BC2256" opacity="0.92"/>
<circle cx="352.68" cy="107.22" r="1.9" fill="#BC2256" opacity="0.92"/>
<circle cx="366.74" cy="105.57" r="1.9" fill="#BC2256" opacity="0.92"/>
<circle cx="380.8" cy="103.93" r="1.9" fill="#BC2256" opacity="0.92"/>
<circle cx="394.86" cy="102.29" r="1.9" fill="#BC2256" opacity="0.92"/>
<circle cx="408.92" cy="100.5" r="1.9" fill="#BC2256" opacity="0.92"/>
<circle cx="422.98" cy="99.16" r="1.9" fill="#BC2256" opacity="0.92"/>
<circle cx="437.04" cy="98.86" r="1.9" fill="#BC2256" opacity="0.92"/>
<circle cx="451.1" cy="97.67" r="1.9" fill="#BC2256" opacity="0.92"/>
<circle cx="465.16" cy="97.49" r="1.9" fill="#BC2256" opacity="0.92"/>
<circle cx="479.22" cy="97.32" r="1.9" fill="#BC2256" opacity="0.92"/>
<circle cx="493.28" cy="97.14" r="1.9" fill="#BC2256" opacity="0.92"/>
<circle cx="507.34" cy="96.97" r="1.9" fill="#BC2256" opacity="0.92"/>
<circle cx="521.4" cy="96.8" r="1.9" fill="#BC2256" opacity="0.92"/>
<circle cx="535.46" cy="96.62" r="1.9" fill="#BC2256" opacity="0.92"/>
<text x="310.7" y="92" font-size="7.2" font-weight="bold" text-anchor="start" fill="#111" font-family='"Liberation Sans", sans-serif' stroke="#222" stroke-width="0.2" textLength="19.2" lengthAdjust="spacingAndGlyphs">Down</text>
<text x="13.1" y="154.1" font-size="10" font-weight="bold" text-anchor="start" fill="#111" font-family='"Liberation Sans", sans-serif' stroke="#111" stroke-width="0.18" textLength="26.9" lengthAdjust="spacingAndGlyphs">Lunge</text>
<text x="0" y="0" font-size="9" font-weight="bold" font-family='"Liberation Sans", sans-serif' fill="#111" text-anchor="middle" textLength="12.8" lengthAdjust="spacingAndGlyphs" stroke="#111" stroke-width="0.18" transform="translate(11.2 179.4) rotate(-90)">ICC</text>
<path d="M32.4 161V202.1H274.4" fill="none" stroke="#4d4d4d" stroke-width="1.2"/>
<text x="29" y="202.55" font-size="6.7" font-weight="bold" text-anchor="end" fill="#222" font-family='"Liberation Sans", sans-serif' stroke="#222" stroke-width="0.2">0.75</text>
<text x="29" y="195.09" font-size="6.7" font-weight="bold" text-anchor="end" fill="#222" font-family='"Liberation Sans", sans-serif' stroke="#222" stroke-width="0.2">0.80</text>
<text x="29" y="187.63" font-size="6.7" font-weight="bold" text-anchor="end" fill="#222" font-family='"Liberation Sans", sans-serif' stroke="#222" stroke-width="0.2">0.85</text>
<text x="29" y="180.17" font-size="6.7" font-weight="bold" text-anchor="end" fill="#222" font-family='"Liberation Sans", sans-serif' stroke="#222" stroke-width="0.2">0.90</text>
<text x="29" y="172.71" font-size="6.7" font-weight="bold" text-anchor="end" fill="#222" font-family='"Liberation Sans", sans-serif' stroke="#222" stroke-width="0.2">0.95</text>
<text x="29" y="165.25" font-size="6.7" font-weight="bold" text-anchor="end" fill="#222" font-family='"Liberation Sans", sans-serif' stroke="#222" stroke-width="0.2">1.00</text>
<text x="40.6" y="211" font-size="6.8" font-weight="bold" text-anchor="middle" fill="#222" font-family='"Liberation Sans", sans-serif' stroke="#222" stroke-width="0.2">2</text>
<text x="54.66" y="211" font-size="6.8" font-weight="bold" text-anchor="middle" fill="#222" font-family='"Liberation Sans", sans-serif' stroke="#222" stroke-width="0.2">3</text>
<text x="68.72" y="211" font-size="6.8" font-weight="bold" text-anchor="middle" fill="#222" font-family='"Liberation Sans", sans-serif' stroke="#222" stroke-width="0.2">4</text>
<text x="82.78" y="211" font-size="6.8" font-weight="bold" text-anchor="middle" fill="#222" font-family='"Liberation Sans", sans-serif' stroke="#222" stroke-width="0.2">5</text>
<text x="96.84" y="211" font-size="6.8" font-weight="bold" text-anchor="middle" fill="#222" font-family='"Liberation Sans", sans-serif' stroke="#222" stroke-width="0.2">6</text>
<text x="110.9" y="211" font-size="6.8" font-weight="bold" text-anchor="middle" fill="#222" font-family='"Liberation Sans", sans-serif' stroke="#222" stroke-width="0.2">7</text>
<text x="124.96" y="211" font-size="6.8" font-weight="bold" text-anchor="middle" fill="#222" font-family='"Liberation Sans", sans-serif' stroke="#222" stroke-width="0.2">8</text>
<text x="139.02" y="211" font-size="6.8" font-weight="bold" text-anchor="middle" fill="#222" font-family='"Liberation Sans", sans-serif' stroke="#222" stroke-width="0.2">9</text>
<text x="153.08" y="211" font-size="6.8" font-weight="bold" text-anchor="middle" fill="#222" font-family='"Liberation Sans", sans-serif' stroke="#222" stroke-width="0.2">10</text>
<text x="167.14" y="211" font-size="6.8" font-weight="bold" text-anchor="middle" fill="#222" font-family='"Liberation Sans", sans-serif' stroke="#222" stroke-width="0.2">11</text>
<text x="181.2" y="211" font-size="6.8" font-weight="bold" text-anchor="middle" fill="#222" font-family='"Liberation Sans", sans-serif' stroke="#222" stroke-width="0.2">12</text>
<text x="195.26" y="211" font-size="6.8" font-weight="bold" text-anchor="middle" fill="#222" font-family='"Liberation Sans", sans-serif' stroke="#222" stroke-width="0.2">13</text>
<text x="209.32" y="211" font-size="6.8" font-weight="bold" text-anchor="middle" fill="#222" font-family='"Liberation Sans", sans-serif' stroke="#222" stroke-width="0.2">14</text>
<text x="223.38" y="211" font-size="6.8" font-weight="bold" text-anchor="middle" fill="#222" font-family='"Liberation Sans", sans-serif' stroke="#222" stroke-width="0.2">15</text>
<text x="237.44" y="211" font-size="6.8" font-weight="bold" text-anchor="middle" fill="#222" font-family='"Liberation Sans", sans-serif' stroke="#222" stroke-width="0.2">16</text>
<text x="251.5" y="211" font-size="6.8" font-weight="bold" text-anchor="middle" fill="#222" font-family='"Liberation Sans", sans-serif' stroke="#222" stroke-width="0.2">17</text>
<text x="265.56" y="211" font-size="6.8" font-weight="bold" text-anchor="middle" fill="#222" font-family='"Liberation Sans", sans-serif' stroke="#222" stroke-width="0.2">18</text>
<path d="M30.4 200.2H32.4M30.4 192.74H32.4M30.4 185.28H32.4M30.4 177.82H32.4M30.4 170.36H32.4M30.4 162.9H32.4M40.6 202.1V204.1M54.66 202.1V204.1M68.72 202.1V204.1M82.78 202.1V204.1M96.84 202.1V204.1M110.9 202.1V204.1M124.96 202.1V204.1M139.02 202.1V204.1M153.08 202.1V204.1M167.14 202.1V204.1M181.2 202.1V204.1M195.26 202.1V204.1M209.32 202.1V204.1M223.38 202.1V204.1M237.44 202.1V204.1M251.5 202.1V204.1M265.56 202.1V204.1" stroke="#4a4a4a" stroke-width="0.8"/>
<path d="M40.6 176.18V191.1M54.66 171.11V186.03M68.72 167V181.18M82.78 167.23V180.65M96.84 167.26V180.32M110.9 167.3V179.98M124.96 165.7V178.01M139.02 165.76V177.7M153.08 165.81V177.42M167.14 165.86V177.13M181.2 165.9V176.85M195.26 165.95V176.56M209.32 166V176.27M223.38 166.04V175.99M237.44 166.09V175.7M251.5 166.14V175.42M265.56 166.18V175.13" stroke="#D9899B" stroke-width="1.1" opacity="0.55"/>
<path d="M40.6 171.11V180.06M54.66 168.96V177.73M68.72 166.82V175.4M82.78 166.9V175.29M96.84 166.98V175.19M110.9 167.06V175.08M124.96 167.15V174.98M139.02 167.23V174.88M153.08 167.31V174.77M167.14 167.39V174.67M181.2 167.48V174.56M195.26 167.56V174.46M209.32 167.64V174.36M223.38 167.73V174.25M237.44 167.81V174.15M251.5 167.89V174.04M265.56 167.97V173.94" stroke="#4A188F" stroke-width="1.1" opacity="0.62"/>
<path d="M40.6 169.61V181.55M54.66 167.38V177.82M68.72 166.63V175.58M82.78 166.36V175.1M96.84 166.1V174.62M110.9 166.14V174.45M124.96 166.19V174.29M139.02 166.23V174.12M153.08 166.27V173.95M167.14 166.32V173.78M181.2 166.36V173.61M195.26 166.41V173.44M209.32 166.45V173.27M223.38 166.5V173.1M237.44 166.54V172.94M251.5 166.59V172.77M265.56 166.63V172.6" stroke="#3260E4" stroke-width="1.1" opacity="0.62"/>
<path d="M40.6 179.31V200.2M54.66 165.88V195.72M68.72 164.39V188.26M82.78 162.9V188.26M96.84 162.9V187.14M110.9 162.9V186.03M124.96 162.9V182.3M139.02 162.9V180.54M153.08 162.9V179.78M167.14 163.11V179.03M181.2 163.35V178.27M195.26 163.52V177.94M209.32 163.7V177.62M223.38 163.87V177.3M237.44 164.04V176.97M251.5 164.22V176.65M265.56 164.39V176.33" stroke="#F05838" stroke-width="1.1" opacity="0.55"/>
<path d="M40.6 167.82V184.24M54.66 166.63V180.06M68.72 165.14V177.07M82.78 164.69V175.13M96.84 163.12V172.82M110.9 162.9V171.7M124.96 162.9V170.73M139.02 162.9V170.32M153.08 162.98V170.1M167.14 163.1V169.89M181.2 163.22V169.68M195.26 163.34V169.47M209.32 163.46V169.26M223.38 163.58V169.05M237.44 163.7V168.84M251.5 163.82V168.63M265.56 163.94V168.42" stroke="#BC2256" stroke-width="1.1" opacity="0.6"/>
<polyline points="40.6,183.64 54.66,178.57 68.72,174.09 82.78,173.94 96.84,173.79 110.9,173.64 124.96,171.85 139.02,171.73 153.08,171.61 167.14,171.49 181.2,171.37 195.26,171.26 209.32,171.14 223.38,171.02 237.44,170.9 251.5,170.78 265.56,170.66" fill="none" stroke="#D9899B" stroke-width="1.1" opacity="0.95"/>
<polyline points="40.6,175.58 54.66,173.34 68.72,171.11 82.78,171.1 96.84,171.08 110.9,171.07 124.96,171.06 139.02,171.05 153.08,171.04 167.14,171.03 181.2,171.02 195.26,171.01 209.32,171 223.38,170.99 237.44,170.98 251.5,170.97 265.56,170.96" fill="none" stroke="#4A188F" stroke-width="1.3" opacity="0.95"/>
<polyline points="40.6,175.58 54.66,172.6 68.72,171.11 82.78,170.73 96.84,170.36 110.9,170.3 124.96,170.24 139.02,170.17 153.08,170.11 167.14,170.05 181.2,169.99 195.26,169.92 209.32,169.86 223.38,169.8 237.44,169.74 251.5,169.68 265.56,169.61" fill="none" stroke="#3260E4" stroke-width="1.1" stroke-dasharray="1.1 2.6" opacity="0.8"/>
<polyline points="40.6,191.25 54.66,180.8 68.72,176.33 82.78,175.58 96.84,174.84 110.9,174.09 124.96,171.85 139.02,171.59 153.08,171.33 167.14,171.07 181.2,170.81 195.26,170.73 209.32,170.66 223.38,170.58 237.44,170.51 251.5,170.43 265.56,170.36" fill="none" stroke="#F05838" stroke-width="1.1" stroke-dasharray="1.1 2.6" opacity="0.8"/>
<polyline points="40.6,176.03 54.66,173.34 68.72,171.11 82.78,169.91 96.84,167.97 110.9,167.23 124.96,166.63 139.02,166.59 153.08,166.54 167.14,166.5 181.2,166.45 195.26,166.41 209.32,166.36 223.38,166.32 237.44,166.27 251.5,166.23 265.56,166.18" fill="none" stroke="#BC2256" stroke-width="1.1" stroke-dasharray="1.1 2.6" opacity="0.8"/>
<rect x="38.7" y="181.74" width="3.8" height="3.8" rx="1" fill="#D9899B" opacity="0.9"/>
<rect x="52.76" y="176.67" width="3.8" height="3.8" rx="1" fill="#D9899B" opacity="0.9"/>
<rect x="66.82" y="172.19" width="3.8" height="3.8" rx="1" fill="#D9899B" opacity="0.9"/>
<rect x="80.88" y="172.04" width="3.8" height="3.8" rx="1" fill="#D9899B" opacity="0.9"/>
<rect x="94.94" y="171.89" width="3.8" height="3.8" rx="1" fill="#D9899B" opacity="0.9"/>
<rect x="109" y="171.74" width="3.8" height="3.8" rx="1" fill="#D9899B" opacity="0.9"/>
<rect x="123.06" y="169.95" width="3.8" height="3.8" rx="1" fill="#D9899B" opacity="0.9"/>
<rect x="137.12" y="169.83" width="3.8" height="3.8" rx="1" fill="#D9899B" opacity="0.9"/>
<rect x="151.18" y="169.71" width="3.8" height="3.8" rx="1" fill="#D9899B" opacity="0.9"/>
<rect x="165.24" y="169.59" width="3.8" height="3.8" rx="1" fill="#D9899B" opacity="0.9"/>
<rect x="179.3" y="169.47" width="3.8" height="3.8" rx="1" fill="#D9899B" opacity="0.9"/>
<rect x="193.36" y="169.36" width="3.8" height="3.8" rx="1" fill="#D9899B" opacity="0.9"/>
<rect x="207.42" y="169.24" width="3.8" height="3.8" rx="1" fill="#D9899B" opacity="0.9"/>
<rect x="221.48" y="169.12" width="3.8" height="3.8" rx="1" fill="#D9899B" opacity="0.9"/>
<rect x="235.54" y="169" width="3.8" height="3.8" rx="1" fill="#D9899B" opacity="0.9"/>
<rect x="249.6" y="168.88" width="3.8" height="3.8" rx="1" fill="#D9899B" opacity="0.9"/>
<rect x="263.66" y="168.76" width="3.8" height="3.8" rx="1" fill="#D9899B" opacity="0.9"/>
<rect x="38.7" y="173.68" width="3.8" height="3.8" rx="1" fill="#4A188F" opacity="0.9"/>
<rect x="52.76" y="171.44" width="3.8" height="3.8" rx="1" fill="#4A188F" opacity="0.9"/>
<rect x="66.82" y="169.21" width="3.8" height="3.8" rx="1" fill="#4A188F" opacity="0.9"/>
<rect x="80.88" y="169.2" width="3.8" height="3.8" rx="1" fill="#4A188F" opacity="0.9"/>
<rect x="94.94" y="169.18" width="3.8" height="3.8" rx="1" fill="#4A188F" opacity="0.9"/>
<rect x="109" y="169.17" width="3.8" height="3.8" rx="1" fill="#4A188F" opacity="0.9"/>
<rect x="123.06" y="169.16" width="3.8" height="3.8" rx="1" fill="#4A188F" opacity="0.9"/>
<rect x="137.12" y="169.15" width="3.8" height="3.8" rx="1" fill="#4A188F" opacity="0.9"/>
<rect x="151.18" y="169.14" width="3.8" height="3.8" rx="1" fill="#4A188F" opacity="0.9"/>
<rect x="165.24" y="169.13" width="3.8" height="3.8" rx="1" fill="#4A188F" opacity="0.9"/>
<rect x="179.3" y="169.12" width="3.8" height="3.8" rx="1" fill="#4A188F" opacity="0.9"/>
<rect x="193.36" y="169.11" width="3.8" height="3.8" rx="1" fill="#4A188F" opacity="0.9"/>
<rect x="207.42" y="169.1" width="3.8" height="3.8" rx="1" fill="#4A188F" opacity="0.9"/>
<rect x="221.48" y="169.09" width="3.8" height="3.8" rx="1" fill="#4A188F" opacity="0.9"/>
<rect x="235.54" y="169.08" width="3.8" height="3.8" rx="1" fill="#4A188F" opacity="0.9"/>
<rect x="249.6" y="169.07" width="3.8" height="3.8" rx="1" fill="#4A188F" opacity="0.9"/>
<rect x="263.66" y="169.06" width="3.8" height="3.8" rx="1" fill="#4A188F" opacity="0.9"/>
<circle cx="40.6" cy="175.58" r="1.9" fill="#3260E4" opacity="0.92"/>
<circle cx="54.66" cy="172.6" r="1.9" fill="#3260E4" opacity="0.92"/>
<circle cx="68.72" cy="171.11" r="1.9" fill="#3260E4" opacity="0.92"/>
<circle cx="82.78" cy="170.73" r="1.9" fill="#3260E4" opacity="0.92"/>
<circle cx="96.84" cy="170.36" r="1.9" fill="#3260E4" opacity="0.92"/>
<circle cx="110.9" cy="170.3" r="1.9" fill="#3260E4" opacity="0.92"/>
<circle cx="124.96" cy="170.24" r="1.9" fill="#3260E4" opacity="0.92"/>
<circle cx="139.02" cy="170.17" r="1.9" fill="#3260E4" opacity="0.92"/>
<circle cx="153.08" cy="170.11" r="1.9" fill="#3260E4" opacity="0.92"/>
<circle cx="167.14" cy="170.05" r="1.9" fill="#3260E4" opacity="0.92"/>
<circle cx="181.2" cy="169.99" r="1.9" fill="#3260E4" opacity="0.92"/>
<circle cx="195.26" cy="169.92" r="1.9" fill="#3260E4" opacity="0.92"/>
<circle cx="209.32" cy="169.86" r="1.9" fill="#3260E4" opacity="0.92"/>
<circle cx="223.38" cy="169.8" r="1.9" fill="#3260E4" opacity="0.92"/>
<circle cx="237.44" cy="169.74" r="1.9" fill="#3260E4" opacity="0.92"/>
<circle cx="251.5" cy="169.68" r="1.9" fill="#3260E4" opacity="0.92"/>
<circle cx="265.56" cy="169.61" r="1.9" fill="#3260E4" opacity="0.92"/>
<circle cx="40.6" cy="191.25" r="1.9" fill="#F05838" opacity="0.92"/>
<circle cx="54.66" cy="180.8" r="1.9" fill="#F05838" opacity="0.92"/>
<circle cx="68.72" cy="176.33" r="1.9" fill="#F05838" opacity="0.92"/>
<circle cx="82.78" cy="175.58" r="1.9" fill="#F05838" opacity="0.92"/>
<circle cx="96.84" cy="174.84" r="1.9" fill="#F05838" opacity="0.92"/>
<circle cx="110.9" cy="174.09" r="1.9" fill="#F05838" opacity="0.92"/>
<circle cx="124.96" cy="171.85" r="1.9" fill="#F05838" opacity="0.92"/>
<circle cx="139.02" cy="171.59" r="1.9" fill="#F05838" opacity="0.92"/>
<circle cx="153.08" cy="171.33" r="1.9" fill="#F05838" opacity="0.92"/>
<circle cx="167.14" cy="171.07" r="1.9" fill="#F05838" opacity="0.92"/>
<circle cx="181.2" cy="170.81" r="1.9" fill="#F05838" opacity="0.92"/>
<circle cx="195.26" cy="170.73" r="1.9" fill="#F05838" opacity="0.92"/>
<circle cx="209.32" cy="170.66" r="1.9" fill="#F05838" opacity="0.92"/>
<circle cx="223.38" cy="170.58" r="1.9" fill="#F05838" opacity="0.92"/>
<circle cx="237.44" cy="170.51" r="1.9" fill="#F05838" opacity="0.92"/>
<circle cx="251.5" cy="170.43" r="1.9" fill="#F05838" opacity="0.92"/>
<circle cx="265.56" cy="170.36" r="1.9" fill="#F05838" opacity="0.92"/>
<circle cx="40.6" cy="176.03" r="1.9" fill="#BC2256" opacity="0.92"/>
<circle cx="54.66" cy="173.34" r="1.9" fill="#BC2256" opacity="0.92"/>
<circle cx="68.72" cy="171.11" r="1.9" fill="#BC2256" opacity="0.92"/>
<circle cx="82.78" cy="169.91" r="1.9" fill="#BC2256" opacity="0.92"/>
<circle cx="96.84" cy="167.97" r="1.9" fill="#BC2256" opacity="0.92"/>
<circle cx="110.9" cy="167.23" r="1.9" fill="#BC2256" opacity="0.92"/>
<circle cx="124.96" cy="166.63" r="1.9" fill="#BC2256" opacity="0.92"/>
<circle cx="139.02" cy="166.59" r="1.9" fill="#BC2256" opacity="0.92"/>
<circle cx="153.08" cy="166.54" r="1.9" fill="#BC2256" opacity="0.92"/>
<circle cx="167.14" cy="166.5" r="1.9" fill="#BC2256" opacity="0.92"/>
<circle cx="181.2" cy="166.45" r="1.9" fill="#BC2256" opacity="0.92"/>
<circle cx="195.26" cy="166.41" r="1.9" fill="#BC2256" opacity="0.92"/>
<circle cx="209.32" cy="166.36" r="1.9" fill="#BC2256" opacity="0.92"/>
<circle cx="223.38" cy="166.32" r="1.9" fill="#BC2256" opacity="0.92"/>
<circle cx="237.44" cy="166.27" r="1.9" fill="#BC2256" opacity="0.92"/>
<circle cx="251.5" cy="166.23" r="1.9" fill="#BC2256" opacity="0.92"/>
<circle cx="265.56" cy="166.18" r="1.9" fill="#BC2256" opacity="0.92"/>
<text x="50.9" y="164.5" font-size="7.2" font-weight="bold" text-anchor="start" fill="#111" font-family='"Liberation Sans", sans-serif' stroke="#222" stroke-width="0.2" textLength="19.2" lengthAdjust="spacingAndGlyphs">Down</text>
<path d="M301.4 161V202.1H544.2" fill="none" stroke="#4d4d4d" stroke-width="1.2"/>
<text x="298" y="202.55" font-size="6.7" font-weight="bold" text-anchor="end" fill="#222" font-family='"Liberation Sans", sans-serif' stroke="#222" stroke-width="0.2">0.75</text>
<text x="298" y="195.09" font-size="6.7" font-weight="bold" text-anchor="end" fill="#222" font-family='"Liberation Sans", sans-serif' stroke="#222" stroke-width="0.2">0.80</text>
<text x="298" y="187.63" font-size="6.7" font-weight="bold" text-anchor="end" fill="#222" font-family='"Liberation Sans", sans-serif' stroke="#222" stroke-width="0.2">0.85</text>
<text x="298" y="180.17" font-size="6.7" font-weight="bold" text-anchor="end" fill="#222" font-family='"Liberation Sans", sans-serif' stroke="#222" stroke-width="0.2">0.90</text>
<text x="298" y="172.71" font-size="6.7" font-weight="bold" text-anchor="end" fill="#222" font-family='"Liberation Sans", sans-serif' stroke="#222" stroke-width="0.2">0.95</text>
<text x="298" y="165.25" font-size="6.7" font-weight="bold" text-anchor="end" fill="#222" font-family='"Liberation Sans", sans-serif' stroke="#222" stroke-width="0.2">1.00</text>
<text x="310.5" y="211" font-size="6.8" font-weight="bold" text-anchor="middle" fill="#222" font-family='"Liberation Sans", sans-serif' stroke="#222" stroke-width="0.2">2</text>
<text x="324.56" y="211" font-size="6.8" font-weight="bold" text-anchor="middle" fill="#222" font-family='"Liberation Sans", sans-serif' stroke="#222" stroke-width="0.2">3</text>
<text x="338.62" y="211" font-size="6.8" font-weight="bold" text-anchor="middle" fill="#222" font-family='"Liberation Sans", sans-serif' stroke="#222" stroke-width="0.2">4</text>
<text x="352.68" y="211" font-size="6.8" font-weight="bold" text-anchor="middle" fill="#222" font-family='"Liberation Sans", sans-serif' stroke="#222" stroke-width="0.2">5</text>
<text x="366.74" y="211" font-size="6.8" font-weight="bold" text-anchor="middle" fill="#222" font-family='"Liberation Sans", sans-serif' stroke="#222" stroke-width="0.2">6</text>
<text x="380.8" y="211" font-size="6.8" font-weight="bold" text-anchor="middle" fill="#222" font-family='"Liberation Sans", sans-serif' stroke="#222" stroke-width="0.2">7</text>
<text x="394.86" y="211" font-size="6.8" font-weight="bold" text-anchor="middle" fill="#222" font-family='"Liberation Sans", sans-serif' stroke="#222" stroke-width="0.2">8</text>
<text x="408.92" y="211" font-size="6.8" font-weight="bold" text-anchor="middle" fill="#222" font-family='"Liberation Sans", sans-serif' stroke="#222" stroke-width="0.2">9</text>
<text x="422.98" y="211" font-size="6.8" font-weight="bold" text-anchor="middle" fill="#222" font-family='"Liberation Sans", sans-serif' stroke="#222" stroke-width="0.2">10</text>
<text x="437.04" y="211" font-size="6.8" font-weight="bold" text-anchor="middle" fill="#222" font-family='"Liberation Sans", sans-serif' stroke="#222" stroke-width="0.2">11</text>
<text x="451.1" y="211" font-size="6.8" font-weight="bold" text-anchor="middle" fill="#222" font-family='"Liberation Sans", sans-serif' stroke="#222" stroke-width="0.2">12</text>
<text x="465.16" y="211" font-size="6.8" font-weight="bold" text-anchor="middle" fill="#222" font-family='"Liberation Sans", sans-serif' stroke="#222" stroke-width="0.2">13</text>
<text x="479.22" y="211" font-size="6.8" font-weight="bold" text-anchor="middle" fill="#222" font-family='"Liberation Sans", sans-serif' stroke="#222" stroke-width="0.2">14</text>
<text x="493.28" y="211" font-size="6.8" font-weight="bold" text-anchor="middle" fill="#222" font-family='"Liberation Sans", sans-serif' stroke="#222" stroke-width="0.2">15</text>
<text x="507.34" y="211" font-size="6.8" font-weight="bold" text-anchor="middle" fill="#222" font-family='"Liberation Sans", sans-serif' stroke="#222" stroke-width="0.2">16</text>
<text x="521.4" y="211" font-size="6.8" font-weight="bold" text-anchor="middle" fill="#222" font-family='"Liberation Sans", sans-serif' stroke="#222" stroke-width="0.2">17</text>
<text x="535.46" y="211" font-size="6.8" font-weight="bold" text-anchor="middle" fill="#222" font-family='"Liberation Sans", sans-serif' stroke="#222" stroke-width="0.2">18</text>
<path d="M299.4 200.2H301.4M299.4 192.74H301.4M299.4 185.28H301.4M299.4 177.82H301.4M299.4 170.36H301.4M299.4 162.9H301.4M310.5 202.1V204.1M324.56 202.1V204.1M338.62 202.1V204.1M352.68 202.1V204.1M366.74 202.1V204.1M380.8 202.1V204.1M394.86 202.1V204.1M408.92 202.1V204.1M422.98 202.1V204.1M437.04 202.1V204.1M451.1 202.1V204.1M465.16 202.1V204.1M479.22 202.1V204.1M493.28 202.1V204.1M507.34 202.1V204.1M521.4 202.1V204.1M535.46 202.1V204.1" stroke="#4a4a4a" stroke-width="0.8"/>
<path d="M310.5 176.18V191.1M324.56 171.11V186.03M338.62 167V181.18M352.68 167.23V180.65M366.74 167.26V180.32M380.8 167.3V179.98M394.86 165.7V178.01M408.92 165.76V177.7M422.98 165.81V177.42M437.04 165.86V177.13M451.1 165.9V176.85M465.16 165.95V176.56M479.22 166V176.27M493.28 166.04V175.99M507.34 166.09V175.7M521.4 166.14V175.42M535.46 166.18V175.13" stroke="#D9899B" stroke-width="1.1" opacity="0.55"/>
<path d="M310.5 171.11V180.06M324.56 168.96V177.73M338.62 166.82V175.4M352.68 166.9V175.29M366.74 166.98V175.19M380.8 167.06V175.08M394.86 167.15V174.98M408.92 167.23V174.88M422.98 167.31V174.77M437.04 167.39V174.67M451.1 167.48V174.56M465.16 167.56V174.46M479.22 167.64V174.36M493.28 167.73V174.25M507.34 167.81V174.15M521.4 167.89V174.04M535.46 167.97V173.94" stroke="#4A188F" stroke-width="1.1" opacity="0.62"/>
<path d="M310.5 169.61V181.55M324.56 167.38V177.82M338.62 166.63V175.58M352.68 166.36V175.1M366.74 166.1V174.62M380.8 166.14V174.45M394.86 166.19V174.29M408.92 166.23V174.12M422.98 166.27V173.95M437.04 166.32V173.78M451.1 166.36V173.61M465.16 166.41V173.44M479.22 166.45V173.27M493.28 166.5V173.1M507.34 166.54V172.94M521.4 166.59V172.77M535.46 166.63V172.6" stroke="#3260E4" stroke-width="1.1" opacity="0.62"/>
<path d="M310.5 179.31V200.2M324.56 165.88V195.72M338.62 164.39V188.26M352.68 162.9V188.26M366.74 162.9V187.14M380.8 162.9V186.03M394.86 162.9V182.3M408.92 162.9V180.54M422.98 162.9V179.78M437.04 163.11V179.03M451.1 163.35V178.27M465.16 163.52V177.94M479.22 163.7V177.62M493.28 163.87V177.3M507.34 164.04V176.97M521.4 164.22V176.65M535.46 164.39V176.33" stroke="#F05838" stroke-width="1.1" opacity="0.55"/>
<path d="M310.5 167.82V184.24M324.56 166.63V180.06M338.62 165.14V177.07M352.68 164.69V175.13M366.74 163.12V172.82M380.8 162.9V171.7M394.86 162.9V170.73M408.92 162.9V170.32M422.98 162.98V170.1M437.04 163.1V169.89M451.1 163.22V169.68M465.16 163.34V169.47M479.22 163.46V169.26M493.28 163.58V169.05M507.34 163.7V168.84M521.4 163.82V168.63M535.46 163.94V168.42" stroke="#BC2256" stroke-width="1.1" opacity="0.6"/>
<polyline points="310.5,183.64 324.56,178.57 338.62,174.09 352.68,173.94 366.74,173.79 380.8,173.64 394.86,171.85 408.92,171.73 422.98,171.61 437.04,171.49 451.1,171.37 465.16,171.26 479.22,171.14 493.28,171.02 507.34,170.9 521.4,170.78 535.46,170.66" fill="none" stroke="#D9899B" stroke-width="1.1" opacity="0.95"/>
<polyline points="310.5,175.58 324.56,173.34 338.62,171.11 352.68,171.1 366.74,171.08 380.8,171.07 394.86,171.06 408.92,171.05 422.98,171.04 437.04,171.03 451.1,171.02 465.16,171.01 479.22,171 493.28,170.99 507.34,170.98 521.4,170.97 535.46,170.96" fill="none" stroke="#4A188F" stroke-width="1.3" opacity="0.95"/>
<polyline points="310.5,175.58 324.56,172.6 338.62,171.11 352.68,170.73 366.74,170.36 380.8,170.3 394.86,170.24 408.92,170.17 422.98,170.11 437.04,170.05 451.1,169.99 465.16,169.92 479.22,169.86 493.28,169.8 507.34,169.74 521.4,169.68 535.46,169.61" fill="none" stroke="#3260E4" stroke-width="1.1" stroke-dasharray="1.1 2.6" opacity="0.8"/>
<polyline points="310.5,191.25 324.56,180.8 338.62,176.33 352.68,175.58 366.74,174.84 380.8,174.09 394.86,171.85 408.92,171.59 422.98,171.33 437.04,171.07 451.1,170.81 465.16,170.73 479.22,170.66 493.28,170.58 507.34,170.51 521.4,170.43 535.46,170.36" fill="none" stroke="#F05838" stroke-width="1.1" stroke-dasharray="1.1 2.6" opacity="0.8"/>
<polyline points="310.5,176.03 324.56,173.34 338.62,171.11 352.68,169.91 366.74,167.97 380.8,167.23 394.86,166.63 408.92,166.59 422.98,166.54 437.04,166.5 451.1,166.45 465.16,166.41 479.22,166.36 493.28,166.32 507.34,166.27 521.4,166.23 535.46,166.18" fill="none" stroke="#BC2256" stroke-width="1.1" stroke-dasharray="1.1 2.6" opacity="0.8"/>
<rect x="308.6" y="181.74" width="3.8" height="3.8" rx="1" fill="#D9899B" opacity="0.9"/>
<rect x="322.66" y="176.67" width="3.8" height="3.8" rx="1" fill="#D9899B" opacity="0.9"/>
<rect x="336.72" y="172.19" width="3.8" height="3.8" rx="1" fill="#D9899B" opacity="0.9"/>
<rect x="350.78" y="172.04" width="3.8" height="3.8" rx="1" fill="#D9899B" opacity="0.9"/>
<rect x="364.84" y="171.89" width="3.8" height="3.8" rx="1" fill="#D9899B" opacity="0.9"/>
<rect x="378.9" y="171.74" width="3.8" height="3.8" rx="1" fill="#D9899B" opacity="0.9"/>
<rect x="392.96" y="169.95" width="3.8" height="3.8" rx="1" fill="#D9899B" opacity="0.9"/>
<rect x="407.02" y="169.83" width="3.8" height="3.8" rx="1" fill="#D9899B" opacity="0.9"/>
<rect x="421.08" y="169.71" width="3.8" height="3.8" rx="1" fill="#D9899B" opacity="0.9"/>
<rect x="435.14" y="169.59" width="3.8" height="3.8" rx="1" fill="#D9899B" opacity="0.9"/>
<rect x="449.2" y="169.47" width="3.8" height="3.8" rx="1" fill="#D9899B" opacity="0.9"/>
<rect x="463.26" y="169.36" width="3.8" height="3.8" rx="1" fill="#D9899B" opacity="0.9"/>
<rect x="477.32" y="169.24" width="3.8" height="3.8" rx="1" fill="#D9899B" opacity="0.9"/>
<rect x="491.38" y="169.12" width="3.8" height="3.8" rx="1" fill="#D9899B" opacity="0.9"/>
<rect x="505.44" y="169" width="3.8" height="3.8" rx="1" fill="#D9899B" opacity="0.9"/>
<rect x="519.5" y="168.88" width="3.8" height="3.8" rx="1" fill="#D9899B" opacity="0.9"/>
<rect x="533.56" y="168.76" width="3.8" height="3.8" rx="1" fill="#D9899B" opacity="0.9"/>
<rect x="308.6" y="173.68" width="3.8" height="3.8" rx="1" fill="#4A188F" opacity="0.9"/>
<rect x="322.66" y="171.44" width="3.8" height="3.8" rx="1" fill="#4A188F" opacity="0.9"/>
<rect x="336.72" y="169.21" width="3.8" height="3.8" rx="1" fill="#4A188F" opacity="0.9"/>
<rect x="350.78" y="169.2" width="3.8" height="3.8" rx="1" fill="#4A188F" opacity="0.9"/>
<rect x="364.84" y="169.18" width="3.8" height="3.8" rx="1" fill="#4A188F" opacity="0.9"/>
<rect x="378.9" y="169.17" width="3.8" height="3.8" rx="1" fill="#4A188F" opacity="0.9"/>
<rect x="392.96" y="169.16" width="3.8" height="3.8" rx="1" fill="#4A188F" opacity="0.9"/>
<rect x="407.02" y="169.15" width="3.8" height="3.8" rx="1" fill="#4A188F" opacity="0.9"/>
<rect x="421.08" y="169.14" width="3.8" height="3.8" rx="1" fill="#4A188F" opacity="0.9"/>
<rect x="435.14" y="169.13" width="3.8" height="3.8" rx="1" fill="#4A188F" opacity="0.9"/>
<rect x="449.2" y="169.12" width="3.8" height="3.8" rx="1" fill="#4A188F" opacity="0.9"/>
<rect x="463.26" y="169.11" width="3.8" height="3.8" rx="1" fill="#4A188F" opacity="0.9"/>
<rect x="477.32" y="169.1" width="3.8" height="3.8" rx="1" fill="#4A188F" opacity="0.9"/>
<rect x="491.38" y="169.09" width="3.8" height="3.8" rx="1" fill="#4A188F" opacity="0.9"/>
<rect x="505.44" y="169.08" width="3.8" height="3.8" rx="1" fill="#4A188F" opacity="0.9"/>
<rect x="519.5" y="169.07" width="3.8" height="3.8" rx="1" fill="#4A188F" opacity="0.9"/>
<rect x="533.56" y="169.06" width="3.8" height="3.8" rx="1" fill="#4A188F" opacity="0.9"/>
<circle cx="310.5" cy="175.58" r="1.9" fill="#3260E4" opacity="0.92"/>
<circle cx="324.56" cy="172.6" r="1.9" fill="#3260E4" opacity="0.92"/>
<circle cx="338.62" cy="171.11" r="1.9" fill="#3260E4" opacity="0.92"/>
<circle cx="352.68" cy="170.73" r="1.9" fill="#3260E4" opacity="0.92"/>
<circle cx="366.74" cy="170.36" r="1.9" fill="#3260E4" opacity="0.92"/>
<circle cx="380.8" cy="170.3" r="1.9" fill="#3260E4" opacity="0.92"/>
<circle cx="394.86" cy="170.24" r="1.9" fill="#3260E4" opacity="0.92"/>
<circle cx="408.92" cy="170.17" r="1.9" fill="#3260E4" opacity="0.92"/>
<circle cx="422.98" cy="170.11" r="1.9" fill="#3260E4" opacity="0.92"/>
<circle cx="437.04" cy="170.05" r="1.9" fill="#3260E4" opacity="0.92"/>
<circle cx="451.1" cy="169.99" r="1.9" fill="#3260E4" opacity="0.92"/>
<circle cx="465.16" cy="169.92" r="1.9" fill="#3260E4" opacity="0.92"/>
<circle cx="479.22" cy="169.86" r="1.9" fill="#3260E4" opacity="0.92"/>
<circle cx="493.28" cy="169.8" r="1.9" fill="#3260E4" opacity="0.92"/>
<circle cx="507.34" cy="169.74" r="1.9" fill="#3260E4" opacity="0.92"/>
<circle cx="521.4" cy="169.68" r="1.9" fill="#3260E4" opacity="0.92"/>
<circle cx="535.46" cy="169.61" r="1.9" fill="#3260E4" opacity="0.92"/>
<circle cx="310.5" cy="191.25" r="1.9" fill="#F05838" opacity="0.92"/>
<circle cx="324.56" cy="180.8" r="1.9" fill="#F05838" opacity="0.92"/>
<circle cx="338.62" cy="176.33" r="1.9" fill="#F05838" opacity="0.92"/>
<circle cx="352.68" cy="175.58" r="1.9" fill="#F05838" opacity="0.92"/>
<circle cx="366.74" cy="174.84" r="1.9" fill="#F05838" opacity="0.92"/>
<circle cx="380.8" cy="174.09" r="1.9" fill="#F05838" opacity="0.92"/>
<circle cx="394.86" cy="171.85" r="1.9" fill="#F05838" opacity="0.92"/>
<circle cx="408.92" cy="171.59" r="1.9" fill="#F05838" opacity="0.92"/>
<circle cx="422.98" cy="171.33" r="1.9" fill="#F05838" opacity="0.92"/>
<circle cx="437.04" cy="171.07" r="1.9" fill="#F05838" opacity="0.92"/>
<circle cx="451.1" cy="170.81" r="1.9" fill="#F05838" opacity="0.92"/>
<circle cx="465.16" cy="170.73" r="1.9" fill="#F05838" opacity="0.92"/>
<circle cx="479.22" cy="170.66" r="1.9" fill="#F05838" opacity="0.92"/>
<circle cx="493.28" cy="170.58" r="1.9" fill="#F05838" opacity="0.92"/>
<circle cx="507.34" cy="170.51" r="1.9" fill="#F05838" opacity="0.92"/>
<circle cx="521.4" cy="170.43" r="1.9" fill="#F05838" opacity="0.92"/>
<circle cx="535.46" cy="170.36" r="1.9" fill="#F05838" opacity="0.92"/>
<circle cx="310.5" cy="176.03" r="1.9" fill="#BC2256" opacity="0.92"/>
<circle cx="324.56" cy="173.34" r="1.9" fill="#BC2256" opacity="0.92"/>
<circle cx="338.62" cy="171.11" r="1.9" fill="#BC2256" opacity="0.92"/>
<circle cx="352.68" cy="169.91" r="1.9" fill="#BC2256" opacity="0.92"/>
<circle cx="366.74" cy="167.97" r="1.9" fill="#BC2256" opacity="0.92"/>
<circle cx="380.8" cy="167.23" r="1.9" fill="#BC2256" opacity="0.92"/>
<circle cx="394.86" cy="166.63" r="1.9" fill="#BC2256" opacity="0.92"/>
<circle cx="408.92" cy="166.59" r="1.9" fill="#BC2256" opacity="0.92"/>
<circle cx="422.98" cy="166.54" r="1.9" fill="#BC2256" opacity="0.92"/>
<circle cx="437.04" cy="166.5" r="1.9" fill="#BC2256" opacity="0.92"/>
<circle cx="451.1" cy="166.45" r="1.9" fill="#BC2256" opacity="0.92"/>
<circle cx="465.16" cy="166.41" r="1.9" fill="#BC2256" opacity="0.92"/>
<circle cx="479.22" cy="166.36" r="1.9" fill="#BC2256" opacity="0.92"/>
<circle cx="493.28" cy="166.32" r="1.9" fill="#BC2256" opacity="0.92"/>
<circle cx="507.34" cy="166.27" r="1.9" fill="#BC2256" opacity="0.92"/>
<circle cx="521.4" cy="166.23" r="1.9" fill="#BC2256" opacity="0.92"/>
<circle cx="535.46" cy="166.18" r="1.9" fill="#BC2256" opacity="0.92"/>
<text x="315.8" y="164.3" font-size="7.2" font-weight="bold" text-anchor="start" fill="#111" font-family='"Liberation Sans", sans-serif' stroke="#222" stroke-width="0.2" textLength="9.6" lengthAdjust="spacingAndGlyphs">Up</text>
<text x="13.1" y="224.8" font-size="10" font-weight="bold" text-anchor="start" fill="#111" font-family='"Liberation Sans", sans-serif' stroke="#111" stroke-width="0.18" textLength="26.2" lengthAdjust="spacingAndGlyphs">Squat</text>
<text x="0" y="0" font-size="9" font-weight="bold" font-family='"Liberation Sans", sans-serif' fill="#111" text-anchor="middle" textLength="12.8" lengthAdjust="spacingAndGlyphs" stroke="#111" stroke-width="0.18" transform="translate(14.5 253.6) rotate(-90)">ICC</text>
<path d="M32.4 232.5V273.6H274.4" fill="none" stroke="#4d4d4d" stroke-width="1.2"/>
<text x="29" y="274.05" font-size="6.7" font-weight="bold" text-anchor="end" fill="#222" font-family='"Liberation Sans", sans-serif' stroke="#222" stroke-width="0.2">0.6</text>
<text x="29" y="264.73" font-size="6.7" font-weight="bold" text-anchor="end" fill="#222" font-family='"Liberation Sans", sans-serif' stroke="#222" stroke-width="0.2">0.7</text>
<text x="29" y="255.4" font-size="6.7" font-weight="bold" text-anchor="end" fill="#222" font-family='"Liberation Sans", sans-serif' stroke="#222" stroke-width="0.2">0.8</text>
<text x="29" y="246.07" font-size="6.7" font-weight="bold" text-anchor="end" fill="#222" font-family='"Liberation Sans", sans-serif' stroke="#222" stroke-width="0.2">0.9</text>
<text x="29" y="236.75" font-size="6.7" font-weight="bold" text-anchor="end" fill="#222" font-family='"Liberation Sans", sans-serif' stroke="#222" stroke-width="0.2">1.0</text>
<text x="40.6" y="282.5" font-size="6.8" font-weight="bold" text-anchor="middle" fill="#222" font-family='"Liberation Sans", sans-serif' stroke="#222" stroke-width="0.2">2</text>
<text x="54.66" y="282.5" font-size="6.8" font-weight="bold" text-anchor="middle" fill="#222" font-family='"Liberation Sans", sans-serif' stroke="#222" stroke-width="0.2">3</text>
<text x="68.72" y="282.5" font-size="6.8" font-weight="bold" text-anchor="middle" fill="#222" font-family='"Liberation Sans", sans-serif' stroke="#222" stroke-width="0.2">4</text>
<text x="82.78" y="282.5" font-size="6.8" font-weight="bold" text-anchor="middle" fill="#222" font-family='"Liberation Sans", sans-serif' stroke="#222" stroke-width="0.2">5</text>
<text x="96.84" y="282.5" font-size="6.8" font-weight="bold" text-anchor="middle" fill="#222" font-family='"Liberation Sans", sans-serif' stroke="#222" stroke-width="0.2">6</text>
<text x="110.9" y="282.5" font-size="6.8" font-weight="bold" text-anchor="middle" fill="#222" font-family='"Liberation Sans", sans-serif' stroke="#222" stroke-width="0.2">7</text>
<text x="124.96" y="282.5" font-size="6.8" font-weight="bold" text-anchor="middle" fill="#222" font-family='"Liberation Sans", sans-serif' stroke="#222" stroke-width="0.2">8</text>
<text x="139.02" y="282.5" font-size="6.8" font-weight="bold" text-anchor="middle" fill="#222" font-family='"Liberation Sans", sans-serif' stroke="#222" stroke-width="0.2">9</text>
<text x="153.08" y="282.5" font-size="6.8" font-weight="bold" text-anchor="middle" fill="#222" font-family='"Liberation Sans", sans-serif' stroke="#222" stroke-width="0.2">10</text>
<text x="167.14" y="282.5" font-size="6.8" font-weight="bold" text-anchor="middle" fill="#222" font-family='"Liberation Sans", sans-serif' stroke="#222" stroke-width="0.2">11</text>
<text x="181.2" y="282.5" font-size="6.8" font-weight="bold" text-anchor="middle" fill="#222" font-family='"Liberation Sans", sans-serif' stroke="#222" stroke-width="0.2">12</text>
<text x="195.26" y="282.5" font-size="6.8" font-weight="bold" text-anchor="middle" fill="#222" font-family='"Liberation Sans", sans-serif' stroke="#222" stroke-width="0.2">13</text>
<text x="209.32" y="282.5" font-size="6.8" font-weight="bold" text-anchor="middle" fill="#222" font-family='"Liberation Sans", sans-serif' stroke="#222" stroke-width="0.2">14</text>
<text x="223.38" y="282.5" font-size="6.8" font-weight="bold" text-anchor="middle" fill="#222" font-family='"Liberation Sans", sans-serif' stroke="#222" stroke-width="0.2">15</text>
<text x="237.44" y="282.5" font-size="6.8" font-weight="bold" text-anchor="middle" fill="#222" font-family='"Liberation Sans", sans-serif' stroke="#222" stroke-width="0.2">16</text>
<text x="251.5" y="282.5" font-size="6.8" font-weight="bold" text-anchor="middle" fill="#222" font-family='"Liberation Sans", sans-serif' stroke="#222" stroke-width="0.2">17</text>
<text x="265.56" y="282.5" font-size="6.8" font-weight="bold" text-anchor="middle" fill="#222" font-family='"Liberation Sans", sans-serif' stroke="#222" stroke-width="0.2">18</text>
<path d="M30.4 271.7H32.4M30.4 262.38H32.4M30.4 253.05H32.4M30.4 243.72H32.4M30.4 234.4H32.4M40.6 273.6V275.6M54.66 273.6V275.6M68.72 273.6V275.6M82.78 273.6V275.6M96.84 273.6V275.6M110.9 273.6V275.6M124.96 273.6V275.6M139.02 273.6V275.6M153.08 273.6V275.6M167.14 273.6V275.6M181.2 273.6V275.6M195.26 273.6V275.6M209.32 273.6V275.6M223.38 273.6V275.6M237.44 273.6V275.6M251.5 273.6V275.6M265.56 273.6V275.6" stroke="#4a4a4a" stroke-width="0.8"/>
<path d="M40.6 242.79V259.58M54.66 237.66V254.45M68.72 237.2V254.91M82.78 236.73V255.38M96.84 235.8V259.11M110.9 234.4V262.38M124.96 234.77V262M139.02 234.4V260.7M153.08 234.4V259.7M167.14 234.4V258.71M181.2 234.4V257.71M195.26 234.4V257.48M209.32 234.4V257.25M223.38 234.4V257.25M237.44 234.4V257.25M251.5 234.4V257.25M265.56 234.4V257.25" stroke="#D9899B" stroke-width="1.1" opacity="0.55"/>
<path d="M40.6 242.98V256.03M54.66 236.26V249.32M68.72 238.97V252.02M82.78 237.85V253.7M96.84 236.26V254.91M110.9 236.61V255.88M124.96 236.02V255.91M139.02 234.4V254.91M153.08 234.4V254.63M167.14 234.4V254.35M181.2 234.4V254.01M195.26 234.4V254.01M209.32 234.4V254M223.38 234.4V254.37M237.44 234.4V254.74M251.5 234.4V255.11M265.56 234.4V255.47" stroke="#4A188F" stroke-width="1.1" opacity="0.62"/>
<path d="M40.6 234.59V264.43M54.66 240V256.78M68.72 240.74V257.53M82.78 238.32V253.24M96.84 235.33V248.39M110.9 234.71V247.14M124.96 234.79V246.6M139.02 234.87V246.06M153.08 234.56V245.12M167.14 234.4V244.19M181.2 234.4V243.26M195.26 234.4V243.06M209.32 234.4V242.85M223.38 234.4V242.65M237.44 234.4V242.45M251.5 234.48V242.25M265.56 234.59V242.05" stroke="#3260E4" stroke-width="1.1" opacity="0.62"/>
<path d="M40.6 244.66V261.44M54.66 246.52V259.58M68.72 246.52V259.58M82.78 238.32V253.24M96.84 235.8V250.72M110.9 235.05V249.97M124.96 234.4V249.18M139.02 234.4V247.92M153.08 234.4V246.99M167.14 234.4V246.06M181.2 234.4V245.12M195.26 234.4V244.89M209.32 234.4V244.66M223.38 234.4V244.42M237.44 234.4V244.19M251.5 234.4V243.96M265.56 234.4V243.72" stroke="#F05838" stroke-width="1.1" opacity="0.55"/>
<path d="M40.6 243.63V260.42M54.66 239.62V252.68M68.72 238.5V252.49M82.78 238.32V253.24M96.84 235.29V249.74M110.9 234.4V248.39M124.96 234.4V247.69M139.02 234.4V246.99M153.08 234.4V246.47M167.14 234.4V245.95M181.2 234.4V245.43M195.26 234.4V245.15M209.32 234.4V244.86M223.38 234.4V244.58M237.44 234.4V244.29M251.5 234.4V244.01M265.56 234.4V243.72" stroke="#BC2256" stroke-width="1.1" opacity="0.6"/>
<polyline points="40.6,251.19 54.66,246.06 68.72,246.06 82.78,246.06 96.84,247.45 110.9,248.39 124.96,248.39 139.02,247.45 153.08,246.83 167.14,246.21 181.2,245.59 195.26,245.36 209.32,245.12 223.38,245.12 237.44,245.12 251.5,245.12 265.56,245.12" fill="none" stroke="#D9899B" stroke-width="1.1" opacity="0.95"/>
<polyline points="40.6,249.51 54.66,242.79 68.72,245.5 82.78,245.78 96.84,245.59 110.9,246.24 124.96,245.96 139.02,244.66 153.08,243.96 167.14,243.26 181.2,242.51 195.26,242.09 209.32,241.67 223.38,241.63 237.44,241.58 251.5,241.53 265.56,241.49" fill="none" stroke="#4A188F" stroke-width="1.3" opacity="0.95"/>
<polyline points="40.6,249.51 54.66,248.39 68.72,249.13 82.78,245.78 96.84,241.86 110.9,240.93 124.96,240.69 139.02,240.46 153.08,239.84 167.14,239.22 181.2,238.6 195.26,238.55 209.32,238.5 223.38,238.46 237.44,238.41 251.5,238.36 265.56,238.32" fill="none" stroke="#3260E4" stroke-width="1.1" stroke-dasharray="1.1 2.6" opacity="0.8"/>
<polyline points="40.6,253.05 54.66,253.05 68.72,253.05 82.78,245.78 96.84,243.26 110.9,242.51 124.96,241.72 139.02,240.93 153.08,240.46 167.14,240 181.2,239.53 195.26,239.45 209.32,239.37 223.38,239.3 237.44,239.22 251.5,239.14 265.56,239.06" fill="none" stroke="#F05838" stroke-width="1.1" stroke-dasharray="1.1 2.6" opacity="0.8"/>
<polyline points="40.6,252.02 54.66,246.15 68.72,245.5 82.78,245.78 96.84,242.51 110.9,241.39 124.96,240.93 139.02,240.46 153.08,240.15 167.14,239.84 181.2,239.53 195.26,239.45 209.32,239.37 223.38,239.3 237.44,239.22 251.5,239.14 265.56,239.06" fill="none" stroke="#BC2256" stroke-width="1.1" stroke-dasharray="1.1 2.6" opacity="0.8"/>
<rect x="38.7" y="249.28" width="3.8" height="3.8" rx="1" fill="#D9899B" opacity="0.9"/>
<rect x="52.76" y="244.16" width="3.8" height="3.8" rx="1" fill="#D9899B" opacity="0.9"/>
<rect x="66.82" y="244.16" width="3.8" height="3.8" rx="1" fill="#D9899B" opacity="0.9"/>
<rect x="80.88" y="244.16" width="3.8" height="3.8" rx="1" fill="#D9899B" opacity="0.9"/>
<rect x="94.94" y="245.55" width="3.8" height="3.8" rx="1" fill="#D9899B" opacity="0.9"/>
<rect x="109" y="246.49" width="3.8" height="3.8" rx="1" fill="#D9899B" opacity="0.9"/>
<rect x="123.06" y="246.49" width="3.8" height="3.8" rx="1" fill="#D9899B" opacity="0.9"/>
<rect x="137.12" y="245.55" width="3.8" height="3.8" rx="1" fill="#D9899B" opacity="0.9"/>
<rect x="151.18" y="244.93" width="3.8" height="3.8" rx="1" fill="#D9899B" opacity="0.9"/>
<rect x="165.24" y="244.31" width="3.8" height="3.8" rx="1" fill="#D9899B" opacity="0.9"/>
<rect x="179.3" y="243.69" width="3.8" height="3.8" rx="1" fill="#D9899B" opacity="0.9"/>
<rect x="193.36" y="243.46" width="3.8" height="3.8" rx="1" fill="#D9899B" opacity="0.9"/>
<rect x="207.42" y="243.22" width="3.8" height="3.8" rx="1" fill="#D9899B" opacity="0.9"/>
<rect x="221.48" y="243.22" width="3.8" height="3.8" rx="1" fill="#D9899B" opacity="0.9"/>
<rect x="235.54" y="243.22" width="3.8" height="3.8" rx="1" fill="#D9899B" opacity="0.9"/>
<rect x="249.6" y="243.22" width="3.8" height="3.8" rx="1" fill="#D9899B" opacity="0.9"/>
<rect x="263.66" y="243.22" width="3.8" height="3.8" rx="1" fill="#D9899B" opacity="0.9"/>
<rect x="38.7" y="247.61" width="3.8" height="3.8" rx="1" fill="#4A188F" opacity="0.9"/>
<rect x="52.76" y="240.89" width="3.8" height="3.8" rx="1" fill="#4A188F" opacity="0.9"/>
<rect x="66.82" y="243.6" width="3.8" height="3.8" rx="1" fill="#4A188F" opacity="0.9"/>
<rect x="80.88" y="243.88" width="3.8" height="3.8" rx="1" fill="#4A188F" opacity="0.9"/>
<rect x="94.94" y="243.69" width="3.8" height="3.8" rx="1" fill="#4A188F" opacity="0.9"/>
<rect x="109" y="244.34" width="3.8" height="3.8" rx="1" fill="#4A188F" opacity="0.9"/>
<rect x="123.06" y="244.06" width="3.8" height="3.8" rx="1" fill="#4A188F" opacity="0.9"/>
<rect x="137.12" y="242.76" width="3.8" height="3.8" rx="1" fill="#4A188F" opacity="0.9"/>
<rect x="151.18" y="242.06" width="3.8" height="3.8" rx="1" fill="#4A188F" opacity="0.9"/>
<rect x="165.24" y="241.36" width="3.8" height="3.8" rx="1" fill="#4A188F" opacity="0.9"/>
<rect x="179.3" y="240.61" width="3.8" height="3.8" rx="1" fill="#4A188F" opacity="0.9"/>
<rect x="193.36" y="240.19" width="3.8" height="3.8" rx="1" fill="#4A188F" opacity="0.9"/>
<rect x="207.42" y="239.77" width="3.8" height="3.8" rx="1" fill="#4A188F" opacity="0.9"/>
<rect x="221.48" y="239.73" width="3.8" height="3.8" rx="1" fill="#4A188F" opacity="0.9"/>
<rect x="235.54" y="239.68" width="3.8" height="3.8" rx="1" fill="#4A188F" opacity="0.9"/>
<rect x="249.6" y="239.63" width="3.8" height="3.8" rx="1" fill="#4A188F" opacity="0.9"/>
<rect x="263.66" y="239.59" width="3.8" height="3.8" rx="1" fill="#4A188F" opacity="0.9"/>
<circle cx="40.6" cy="249.51" r="1.9" fill="#3260E4" opacity="0.92"/>
<circle cx="54.66" cy="248.39" r="1.9" fill="#3260E4" opacity="0.92"/>
<circle cx="68.72" cy="249.13" r="1.9" fill="#3260E4" opacity="0.92"/>
<circle cx="82.78" cy="245.78" r="1.9" fill="#3260E4" opacity="0.92"/>
<circle cx="96.84" cy="241.86" r="1.9" fill="#3260E4" opacity="0.92"/>
<circle cx="110.9" cy="240.93" r="1.9" fill="#3260E4" opacity="0.92"/>
<circle cx="124.96" cy="240.69" r="1.9" fill="#3260E4" opacity="0.92"/>
<circle cx="139.02" cy="240.46" r="1.9" fill="#3260E4" opacity="0.92"/>
<circle cx="153.08" cy="239.84" r="1.9" fill="#3260E4" opacity="0.92"/>
<circle cx="167.14" cy="239.22" r="1.9" fill="#3260E4" opacity="0.92"/>
<circle cx="181.2" cy="238.6" r="1.9" fill="#3260E4" opacity="0.92"/>
<circle cx="195.26" cy="238.55" r="1.9" fill="#3260E4" opacity="0.92"/>
<circle cx="209.32" cy="238.5" r="1.9" fill="#3260E4" opacity="0.92"/>
<circle cx="223.38" cy="238.46" r="1.9" fill="#3260E4" opacity="0.92"/>
<circle cx="237.44" cy="238.41" r="1.9" fill="#3260E4" opacity="0.92"/>
<circle cx="251.5" cy="238.36" r="1.9" fill="#3260E4" opacity="0.92"/>
<circle cx="265.56" cy="238.32" r="1.9" fill="#3260E4" opacity="0.92"/>
<circle cx="40.6" cy="253.05" r="1.9" fill="#F05838" opacity="0.92"/>
<circle cx="54.66" cy="253.05" r="1.9" fill="#F05838" opacity="0.92"/>
<circle cx="68.72" cy="253.05" r="1.9" fill="#F05838" opacity="0.92"/>
<circle cx="82.78" cy="245.78" r="1.9" fill="#F05838" opacity="0.92"/>
<circle cx="96.84" cy="243.26" r="1.9" fill="#F05838" opacity="0.92"/>
<circle cx="110.9" cy="242.51" r="1.9" fill="#F05838" opacity="0.92"/>
<circle cx="124.96" cy="241.72" r="1.9" fill="#F05838" opacity="0.92"/>
<circle cx="139.02" cy="240.93" r="1.9" fill="#F05838" opacity="0.92"/>
<circle cx="153.08" cy="240.46" r="1.9" fill="#F05838" opacity="0.92"/>
<circle cx="167.14" cy="240" r="1.9" fill="#F05838" opacity="0.92"/>
<circle cx="181.2" cy="239.53" r="1.9" fill="#F05838" opacity="0.92"/>
<circle cx="195.26" cy="239.45" r="1.9" fill="#F05838" opacity="0.92"/>
<circle cx="209.32" cy="239.37" r="1.9" fill="#F05838" opacity="0.92"/>
<circle cx="223.38" cy="239.3" r="1.9" fill="#F05838" opacity="0.92"/>
<circle cx="237.44" cy="239.22" r="1.9" fill="#F05838" opacity="0.92"/>
<circle cx="251.5" cy="239.14" r="1.9" fill="#F05838" opacity="0.92"/>
<circle cx="265.56" cy="239.06" r="1.9" fill="#F05838" opacity="0.92"/>
<circle cx="40.6" cy="252.02" r="1.9" fill="#BC2256" opacity="0.92"/>
<circle cx="54.66" cy="246.15" r="1.9" fill="#BC2256" opacity="0.92"/>
<circle cx="68.72" cy="245.5" r="1.9" fill="#BC2256" opacity="0.92"/>
<circle cx="82.78" cy="245.78" r="1.9" fill="#BC2256" opacity="0.92"/>
<circle cx="96.84" cy="242.51" r="1.9" fill="#BC2256" opacity="0.92"/>
<circle cx="110.9" cy="241.39" r="1.9" fill="#BC2256" opacity="0.92"/>
<circle cx="124.96" cy="240.93" r="1.9" fill="#BC2256" opacity="0.92"/>
<circle cx="139.02" cy="240.46" r="1.9" fill="#BC2256" opacity="0.92"/>
<circle cx="153.08" cy="240.15" r="1.9" fill="#BC2256" opacity="0.92"/>
<circle cx="167.14" cy="239.84" r="1.9" fill="#BC2256" opacity="0.92"/>
<circle cx="181.2" cy="239.53" r="1.9" fill="#BC2256" opacity="0.92"/>
<circle cx="195.26" cy="239.45" r="1.9" fill="#BC2256" opacity="0.92"/>
<circle cx="209.32" cy="239.37" r="1.9" fill="#BC2256" opacity="0.92"/>
<circle cx="223.38" cy="239.3" r="1.9" fill="#BC2256" opacity="0.92"/>
<circle cx="237.44" cy="239.22" r="1.9" fill="#BC2256" opacity="0.92"/>
<circle cx="251.5" cy="239.14" r="1.9" fill="#BC2256" opacity="0.92"/>
<circle cx="265.56" cy="239.06" r="1.9" fill="#BC2256" opacity="0.92"/>
<text x="50.9" y="233.4" font-size="7.2" font-weight="bold" text-anchor="start" fill="#111" font-family='"Liberation Sans", sans-serif' stroke="#222" stroke-width="0.2" textLength="19.2" lengthAdjust="spacingAndGlyphs">Down</text>
<path d="M301.4 232.5V273.6H544.2" fill="none" stroke="#4d4d4d" stroke-width="1.2"/>
<text x="298" y="274.05" font-size="6.7" font-weight="bold" text-anchor="end" fill="#222" font-family='"Liberation Sans", sans-serif' stroke="#222" stroke-width="0.2">0.6</text>
<text x="298" y="264.73" font-size="6.7" font-weight="bold" text-anchor="end" fill="#222" font-family='"Liberation Sans", sans-serif' stroke="#222" stroke-width="0.2">0.7</text>
<text x="298" y="255.4" font-size="6.7" font-weight="bold" text-anchor="end" fill="#222" font-family='"Liberation Sans", sans-serif' stroke="#222" stroke-width="0.2">0.8</text>
<text x="298" y="246.07" font-size="6.7" font-weight="bold" text-anchor="end" fill="#222" font-family='"Liberation Sans", sans-serif' stroke="#222" stroke-width="0.2">0.9</text>
<text x="298" y="236.75" font-size="6.7" font-weight="bold" text-anchor="end" fill="#222" font-family='"Liberation Sans", sans-serif' stroke="#222" stroke-width="0.2">1.0</text>
<text x="310.5" y="282.5" font-size="6.8" font-weight="bold" text-anchor="middle" fill="#222" font-family='"Liberation Sans", sans-serif' stroke="#222" stroke-width="0.2">2</text>
<text x="324.56" y="282.5" font-size="6.8" font-weight="bold" text-anchor="middle" fill="#222" font-family='"Liberation Sans", sans-serif' stroke="#222" stroke-width="0.2">3</text>
<text x="338.62" y="282.5" font-size="6.8" font-weight="bold" text-anchor="middle" fill="#222" font-family='"Liberation Sans", sans-serif' stroke="#222" stroke-width="0.2">4</text>
<text x="352.68" y="282.5" font-size="6.8" font-weight="bold" text-anchor="middle" fill="#222" font-family='"Liberation Sans", sans-serif' stroke="#222" stroke-width="0.2">5</text>
<text x="366.74" y="282.5" font-size="6.8" font-weight="bold" text-anchor="middle" fill="#222" font-family='"Liberation Sans", sans-serif' stroke="#222" stroke-width="0.2">6</text>
<text x="380.8" y="282.5" font-size="6.8" font-weight="bold" text-anchor="middle" fill="#222" font-family='"Liberation Sans", sans-serif' stroke="#222" stroke-width="0.2">7</text>
<text x="394.86" y="282.5" font-size="6.8" font-weight="bold" text-anchor="middle" fill="#222" font-family='"Liberation Sans", sans-serif' stroke="#222" stroke-width="0.2">8</text>
<text x="408.92" y="282.5" font-size="6.8" font-weight="bold" text-anchor="middle" fill="#222" font-family='"Liberation Sans", sans-serif' stroke="#222" stroke-width="0.2">9</text>
<text x="422.98" y="282.5" font-size="6.8" font-weight="bold" text-anchor="middle" fill="#222" font-family='"Liberation Sans", sans-serif' stroke="#222" stroke-width="0.2">10</text>
<text x="437.04" y="282.5" font-size="6.8" font-weight="bold" text-anchor="middle" fill="#222" font-family='"Liberation Sans", sans-serif' stroke="#222" stroke-width="0.2">11</text>
<text x="451.1" y="282.5" font-size="6.8" font-weight="bold" text-anchor="middle" fill="#222" font-family='"Liberation Sans", sans-serif' stroke="#222" stroke-width="0.2">12</text>
<text x="465.16" y="282.5" font-size="6.8" font-weight="bold" text-anchor="middle" fill="#222" font-family='"Liberation Sans", sans-serif' stroke="#222" stroke-width="0.2">13</text>
<text x="479.22" y="282.5" font-size="6.8" font-weight="bold" text-anchor="middle" fill="#222" font-family='"Liberation Sans", sans-serif' stroke="#222" stroke-width="0.2">14</text>
<text x="493.28" y="282.5" font-size="6.8" font-weight="bold" text-anchor="middle" fill="#222" font-family='"Liberation Sans", sans-serif' stroke="#222" stroke-width="0.2">15</text>
<text x="507.34" y="282.5" font-size="6.8" font-weight="bold" text-anchor="middle" fill="#222" font-family='"Liberation Sans", sans-serif' stroke="#222" stroke-width="0.2">16</text>
<text x="521.4" y="282.5" font-size="6.8" font-weight="bold" text-anchor="middle" fill="#222" font-family='"Liberation Sans", sans-serif' stroke="#222" stroke-width="0.2">17</text>
<text x="535.46" y="282.5" font-size="6.8" font-weight="bold" text-anchor="middle" fill="#222" font-family='"Liberation Sans", sans-serif' stroke="#222" stroke-width="0.2">18</text>
<path d="M299.4 271.7H301.4M299.4 262.38H301.4M299.4 253.05H301.4M299.4 243.72H301.4M299.4 234.4H301.4M310.5 273.6V275.6M324.56 273.6V275.6M338.62 273.6V275.6M352.68 273.6V275.6M366.74 273.6V275.6M380.8 273.6V275.6M394.86 273.6V275.6M408.92 273.6V275.6M422.98 273.6V275.6M437.04 273.6V275.6M451.1 273.6V275.6M465.16 273.6V275.6M479.22 273.6V275.6M493.28 273.6V275.6M507.34 273.6V275.6M521.4 273.6V275.6M535.46 273.6V275.6" stroke="#4a4a4a" stroke-width="0.8"/>
<path d="M310.5 242.79V259.58M324.56 237.66V254.45M338.62 237.2V254.91M352.68 236.73V255.38M366.74 235.8V259.11M380.8 234.4V262.38M394.86 234.77V262M408.92 234.4V260.7M422.98 234.4V259.7M437.04 234.4V258.71M451.1 234.4V257.71M465.16 234.4V257.48M479.22 234.4V257.25M493.28 234.4V257.25M507.34 234.4V257.25M521.4 234.4V257.25M535.46 234.4V257.25" stroke="#D9899B" stroke-width="1.1" opacity="0.55"/>
<path d="M310.5 242.98V256.03M324.56 236.26V249.32M338.62 238.97V252.02M352.68 237.85V253.7M366.74 236.26V254.91M380.8 236.61V255.88M394.86 236.02V255.91M408.92 234.4V254.91M422.98 234.4V254.63M437.04 234.4V254.35M451.1 234.4V254.01M465.16 234.4V254.01M479.22 234.4V254M493.28 234.4V254.37M507.34 234.4V254.74M521.4 234.4V255.11M535.46 234.4V255.47" stroke="#4A188F" stroke-width="1.1" opacity="0.62"/>
<path d="M310.5 234.59V264.43M324.56 240V256.78M338.62 240.74V257.53M352.68 238.32V253.24M366.74 235.33V248.39M380.8 234.71V247.14M394.86 234.79V246.6M408.92 234.87V246.06M422.98 234.56V245.12M437.04 234.4V244.19M451.1 234.4V243.26M465.16 234.4V243.06M479.22 234.4V242.85M493.28 234.4V242.65M507.34 234.4V242.45M521.4 234.48V242.25M535.46 234.59V242.05" stroke="#3260E4" stroke-width="1.1" opacity="0.62"/>
<path d="M310.5 244.66V261.44M324.56 246.52V259.58M338.62 246.52V259.58M352.68 238.32V253.24M366.74 235.8V250.72M380.8 235.05V249.97M394.86 234.4V249.18M408.92 234.4V247.92M422.98 234.4V246.99M437.04 234.4V246.06M451.1 234.4V245.12M465.16 234.4V244.89M479.22 234.4V244.66M493.28 234.4V244.42M507.34 234.4V244.19M521.4 234.4V243.96M535.46 234.4V243.72" stroke="#F05838" stroke-width="1.1" opacity="0.55"/>
<path d="M310.5 243.63V260.42M324.56 239.62V252.68M338.62 238.5V252.49M352.68 238.32V253.24M366.74 235.29V249.74M380.8 234.4V248.39M394.86 234.4V247.69M408.92 234.4V246.99M422.98 234.4V246.47M437.04 234.4V245.95M451.1 234.4V245.43M465.16 234.4V245.15M479.22 234.4V244.86M493.28 234.4V244.58M507.34 234.4V244.29M521.4 234.4V244.01M535.46 234.4V243.72" stroke="#BC2256" stroke-width="1.1" opacity="0.6"/>
<polyline points="310.5,251.19 324.56,246.06 338.62,246.06 352.68,246.06 366.74,247.45 380.8,248.39 394.86,248.39 408.92,247.45 422.98,246.83 437.04,246.21 451.1,245.59 465.16,245.36 479.22,245.12 493.28,245.12 507.34,245.12 521.4,245.12 535.46,245.12" fill="none" stroke="#D9899B" stroke-width="1.1" opacity="0.95"/>
<polyline points="310.5,249.51 324.56,242.79 338.62,245.5 352.68,245.78 366.74,245.59 380.8,246.24 394.86,245.96 408.92,244.66 422.98,243.96 437.04,243.26 451.1,242.51 465.16,242.09 479.22,241.67 493.28,241.63 507.34,241.58 521.4,241.53 535.46,241.49" fill="none" stroke="#4A188F" stroke-width="1.3" opacity="0.95"/>
<polyline points="310.5,249.51 324.56,248.39 338.62,249.13 352.68,245.78 366.74,241.86 380.8,240.93 394.86,240.69 408.92,240.46 422.98,239.84 437.04,239.22 451.1,238.6 465.16,238.55 479.22,238.5 493.28,238.46 507.34,238.41 521.4,238.36 535.46,238.32" fill="none" stroke="#3260E4" stroke-width="1.1" stroke-dasharray="1.1 2.6" opacity="0.8"/>
<polyline points="310.5,253.05 324.56,253.05 338.62,253.05 352.68,245.78 366.74,243.26 380.8,242.51 394.86,241.72 408.92,240.93 422.98,240.46 437.04,240 451.1,239.53 465.16,239.45 479.22,239.37 493.28,239.3 507.34,239.22 521.4,239.14 535.46,239.06" fill="none" stroke="#F05838" stroke-width="1.1" stroke-dasharray="1.1 2.6" opacity="0.8"/>
<polyline points="310.5,252.02 324.56,246.15 338.62,245.5 352.68,245.78 366.74,242.51 380.8,241.39 394.86,240.93 408.92,240.46 422.98,240.15 437.04,239.84 451.1,239.53 465.16,239.45 479.22,239.37 493.28,239.3 507.34,239.22 521.4,239.14 535.46,239.06" fill="none" stroke="#BC2256" stroke-width="1.1" stroke-dasharray="1.1 2.6" opacity="0.8"/>
<rect x="308.6" y="249.28" width="3.8" height="3.8" rx="1" fill="#D9899B" opacity="0.9"/>
<rect x="322.66" y="244.16" width="3.8" height="3.8" rx="1" fill="#D9899B" opacity="0.9"/>
<rect x="336.72" y="244.16" width="3.8" height="3.8" rx="1" fill="#D9899B" opacity="0.9"/>
<rect x="350.78" y="244.16" width="3.8" height="3.8" rx="1" fill="#D9899B" opacity="0.9"/>
<rect x="364.84" y="245.55" width="3.8" height="3.8" rx="1" fill="#D9899B" opacity="0.9"/>
<rect x="378.9" y="246.49" width="3.8" height="3.8" rx="1" fill="#D9899B" opacity="0.9"/>
<rect x="392.96" y="246.49" width="3.8" height="3.8" rx="1" fill="#D9899B" opacity="0.9"/>
<rect x="407.02" y="245.55" width="3.8" height="3.8" rx="1" fill="#D9899B" opacity="0.9"/>
<rect x="421.08" y="244.93" width="3.8" height="3.8" rx="1" fill="#D9899B" opacity="0.9"/>
<rect x="435.14" y="244.31" width="3.8" height="3.8" rx="1" fill="#D9899B" opacity="0.9"/>
<rect x="449.2" y="243.69" width="3.8" height="3.8" rx="1" fill="#D9899B" opacity="0.9"/>
<rect x="463.26" y="243.46" width="3.8" height="3.8" rx="1" fill="#D9899B" opacity="0.9"/>
<rect x="477.32" y="243.22" width="3.8" height="3.8" rx="1" fill="#D9899B" opacity="0.9"/>
<rect x="491.38" y="243.22" width="3.8" height="3.8" rx="1" fill="#D9899B" opacity="0.9"/>
<rect x="505.44" y="243.22" width="3.8" height="3.8" rx="1" fill="#D9899B" opacity="0.9"/>
<rect x="519.5" y="243.22" width="3.8" height="3.8" rx="1" fill="#D9899B" opacity="0.9"/>
<rect x="533.56" y="243.22" width="3.8" height="3.8" rx="1" fill="#D9899B" opacity="0.9"/>
<rect x="308.6" y="247.61" width="3.8" height="3.8" rx="1" fill="#4A188F" opacity="0.9"/>
<rect x="322.66" y="240.89" width="3.8" height="3.8" rx="1" fill="#4A188F" opacity="0.9"/>
<rect x="336.72" y="243.6" width="3.8" height="3.8" rx="1" fill="#4A188F" opacity="0.9"/>
<rect x="350.78" y="243.88" width="3.8" height="3.8" rx="1" fill="#4A188F" opacity="0.9"/>
<rect x="364.84" y="243.69" width="3.8" height="3.8" rx="1" fill="#4A188F" opacity="0.9"/>
<rect x="378.9" y="244.34" width="3.8" height="3.8" rx="1" fill="#4A188F" opacity="0.9"/>
<rect x="392.96" y="244.06" width="3.8" height="3.8" rx="1" fill="#4A188F" opacity="0.9"/>
<rect x="407.02" y="242.76" width="3.8" height="3.8" rx="1" fill="#4A188F" opacity="0.9"/>
<rect x="421.08" y="242.06" width="3.8" height="3.8" rx="1" fill="#4A188F" opacity="0.9"/>
<rect x="435.14" y="241.36" width="3.8" height="3.8" rx="1" fill="#4A188F" opacity="0.9"/>
<rect x="449.2" y="240.61" width="3.8" height="3.8" rx="1" fill="#4A188F" opacity="0.9"/>
<rect x="463.26" y="240.19" width="3.8" height="3.8" rx="1" fill="#4A188F" opacity="0.9"/>
<rect x="477.32" y="239.77" width="3.8" height="3.8" rx="1" fill="#4A188F" opacity="0.9"/>
<rect x="491.38" y="239.73" width="3.8" height="3.8" rx="1" fill="#4A188F" opacity="0.9"/>
<rect x="505.44" y="239.68" width="3.8" height="3.8" rx="1" fill="#4A188F" opacity="0.9"/>
<rect x="519.5" y="239.63" width="3.8" height="3.8" rx="1" fill="#4A188F" opacity="0.9"/>
<rect x="533.56" y="239.59" width="3.8" height="3.8" rx="1" fill="#4A188F" opacity="0.9"/>
<circle cx="310.5" cy="249.51" r="1.9" fill="#3260E4" opacity="0.92"/>
<circle cx="324.56" cy="248.39" r="1.9" fill="#3260E4" opacity="0.92"/>
<circle cx="338.62" cy="249.13" r="1.9" fill="#3260E4" opacity="0.92"/>
<circle cx="352.68" cy="245.78" r="1.9" fill="#3260E4" opacity="0.92"/>
<circle cx="366.74" cy="241.86" r="1.9" fill="#3260E4" opacity="0.92"/>
<circle cx="380.8" cy="240.93" r="1.9" fill="#3260E4" opacity="0.92"/>
<circle cx="394.86" cy="240.69" r="1.9" fill="#3260E4" opacity="0.92"/>
<circle cx="408.92" cy="240.46" r="1.9" fill="#3260E4" opacity="0.92"/>
<circle cx="422.98" cy="239.84" r="1.9" fill="#3260E4" opacity="0.92"/>
<circle cx="437.04" cy="239.22" r="1.9" fill="#3260E4" opacity="0.92"/>
<circle cx="451.1" cy="238.6" r="1.9" fill="#3260E4" opacity="0.92"/>
<circle cx="465.16" cy="238.55" r="1.9" fill="#3260E4" opacity="0.92"/>
<circle cx="479.22" cy="238.5" r="1.9" fill="#3260E4" opacity="0.92"/>
<circle cx="493.28" cy="238.46" r="1.9" fill="#3260E4" opacity="0.92"/>
<circle cx="507.34" cy="238.41" r="1.9" fill="#3260E4" opacity="0.92"/>
<circle cx="521.4" cy="238.36" r="1.9" fill="#3260E4" opacity="0.92"/>
<circle cx="535.46" cy="238.32" r="1.9" fill="#3260E4" opacity="0.92"/>
<circle cx="310.5" cy="253.05" r="1.9" fill="#F05838" opacity="0.92"/>
<circle cx="324.56" cy="253.05" r="1.9" fill="#F05838" opacity="0.92"/>
<circle cx="338.62" cy="253.05" r="1.9" fill="#F05838" opacity="0.92"/>
<circle cx="352.68" cy="245.78" r="1.9" fill="#F05838" opacity="0.92"/>
<circle cx="366.74" cy="243.26" r="1.9" fill="#F05838" opacity="0.92"/>
<circle cx="380.8" cy="242.51" r="1.9" fill="#F05838" opacity="0.92"/>
<circle cx="394.86" cy="241.72" r="1.9" fill="#F05838" opacity="0.92"/>
<circle cx="408.92" cy="240.93" r="1.9" fill="#F05838" opacity="0.92"/>
<circle cx="422.98" cy="240.46" r="1.9" fill="#F05838" opacity="0.92"/>
<circle cx="437.04" cy="240" r="1.9" fill="#F05838" opacity="0.92"/>
<circle cx="451.1" cy="239.53" r="1.9" fill="#F05838" opacity="0.92"/>
<circle cx="465.16" cy="239.45" r="1.9" fill="#F05838" opacity="0.92"/>
<circle cx="479.22" cy="239.37" r="1.9" fill="#F05838" opacity="0.92"/>
<circle cx="493.28" cy="239.3" r="1.9" fill="#F05838" opacity="0.92"/>
<circle cx="507.34" cy="239.22" r="1.9" fill="#F05838" opacity="0.92"/>
<circle cx="521.4" cy="239.14" r="1.9" fill="#F05838" opacity="0.92"/>
<circle cx="535.46" cy="239.06" r="1.9" fill="#F05838" opacity="0.92"/>
<circle cx="310.5" cy="252.02" r="1.9" fill="#BC2256" opacity="0.92"/>
<circle cx="324.56" cy="246.15" r="1.9" fill="#BC2256" opacity="0.92"/>
<circle cx="338.62" cy="245.5" r="1.9" fill="#BC2256" opacity="0.92"/>
<circle cx="352.68" cy="245.78" r="1.9" fill="#BC2256" opacity="0.92"/>
<circle cx="366.74" cy="242.51" r="1.9" fill="#BC2256" opacity="0.92"/>
<circle cx="380.8" cy="241.39" r="1.9" fill="#BC2256" opacity="0.92"/>
<circle cx="394.86" cy="240.93" r="1.9" fill="#BC2256" opacity="0.92"/>
<circle cx="408.92" cy="240.46" r="1.9" fill="#BC2256" opacity="0.92"/>
<circle cx="422.98" cy="240.15" r="1.9" fill="#BC2256" opacity="0.92"/>
<circle cx="437.04" cy="239.84" r="1.9" fill="#BC2256" opacity="0.92"/>
<circle cx="451.1" cy="239.53" r="1.9" fill="#BC2256" opacity="0.92"/>
<circle cx="465.16" cy="239.45" r="1.9" fill="#BC2256" opacity="0.92"/>
<circle cx="479.22" cy="239.37" r="1.9" fill="#BC2256" opacity="0.92"/>
<circle cx="493.28" cy="239.3" r="1.9" fill="#BC2256" opacity="0.92"/>
<circle cx="507.34" cy="239.22" r="1.9" fill="#BC2256" opacity="0.92"/>
<circle cx="521.4" cy="239.14" r="1.9" fill="#BC2256" opacity="0.92"/>
<circle cx="535.46" cy="239.06" r="1.9" fill="#BC2256" opacity="0.92"/>
<text x="315.8" y="233.6" font-size="7.2" font-weight="bold" text-anchor="start" fill="#111" font-family='"Liberation Sans", sans-serif' stroke="#222" stroke-width="0.2" textLength="9.6" lengthAdjust="spacingAndGlyphs">Up</text>
<text x="12.8" y="296.4" font-size="10" font-weight="bold" text-anchor="start" fill="#111" font-family='"Liberation Sans", sans-serif' stroke="#111" stroke-width="0.18" textLength="26.8" lengthAdjust="spacingAndGlyphs">Sit-up</text>
<text x="0" y="0" font-size="9" font-weight="bold" font-family='"Liberation Sans", sans-serif' fill="#111" text-anchor="middle" textLength="12.8" lengthAdjust="spacingAndGlyphs" stroke="#111" stroke-width="0.18" transform="translate(12.8 320.9) rotate(-90)">ICC</text>
<path d="M32.4 304V345.1H274.4" fill="none" stroke="#4d4d4d" stroke-width="1.2"/>
<text x="29" y="345.55" font-size="6.7" font-weight="bold" text-anchor="end" fill="#222" font-family='"Liberation Sans", sans-serif' stroke="#222" stroke-width="0.2">0.5</text>
<text x="29" y="338.09" font-size="6.7" font-weight="bold" text-anchor="end" fill="#222" font-family='"Liberation Sans", sans-serif' stroke="#222" stroke-width="0.2">0.6</text>
<text x="29" y="330.63" font-size="6.7" font-weight="bold" text-anchor="end" fill="#222" font-family='"Liberation Sans", sans-serif' stroke="#222" stroke-width="0.2">0.7</text>
<text x="29" y="323.17" font-size="6.7" font-weight="bold" text-anchor="end" fill="#222" font-family='"Liberation Sans", sans-serif' stroke="#222" stroke-width="0.2">0.8</text>
<text x="29" y="315.71" font-size="6.7" font-weight="bold" text-anchor="end" fill="#222" font-family='"Liberation Sans", sans-serif' stroke="#222" stroke-width="0.2">0.9</text>
<text x="29" y="308.25" font-size="6.7" font-weight="bold" text-anchor="end" fill="#222" font-family='"Liberation Sans", sans-serif' stroke="#222" stroke-width="0.2">1.0</text>
<text x="40.6" y="354" font-size="6.8" font-weight="bold" text-anchor="middle" fill="#222" font-family='"Liberation Sans", sans-serif' stroke="#222" stroke-width="0.2">2</text>
<text x="54.66" y="354" font-size="6.8" font-weight="bold" text-anchor="middle" fill="#222" font-family='"Liberation Sans", sans-serif' stroke="#222" stroke-width="0.2">3</text>
<text x="68.72" y="354" font-size="6.8" font-weight="bold" text-anchor="middle" fill="#222" font-family='"Liberation Sans", sans-serif' stroke="#222" stroke-width="0.2">4</text>
<text x="82.78" y="354" font-size="6.8" font-weight="bold" text-anchor="middle" fill="#222" font-family='"Liberation Sans", sans-serif' stroke="#222" stroke-width="0.2">5</text>
<text x="96.84" y="354" font-size="6.8" font-weight="bold" text-anchor="middle" fill="#222" font-family='"Liberation Sans", sans-serif' stroke="#222" stroke-width="0.2">6</text>
<text x="110.9" y="354" font-size="6.8" font-weight="bold" text-anchor="middle" fill="#222" font-family='"Liberation Sans", sans-serif' stroke="#222" stroke-width="0.2">7</text>
<text x="124.96" y="354" font-size="6.8" font-weight="bold" text-anchor="middle" fill="#222" font-family='"Liberation Sans", sans-serif' stroke="#222" stroke-width="0.2">8</text>
<text x="139.02" y="354" font-size="6.8" font-weight="bold" text-anchor="middle" fill="#222" font-family='"Liberation Sans", sans-serif' stroke="#222" stroke-width="0.2">9</text>
<text x="153.08" y="354" font-size="6.8" font-weight="bold" text-anchor="middle" fill="#222" font-family='"Liberation Sans", sans-serif' stroke="#222" stroke-width="0.2">10</text>
<text x="167.14" y="354" font-size="6.8" font-weight="bold" text-anchor="middle" fill="#222" font-family='"Liberation Sans", sans-serif' stroke="#222" stroke-width="0.2">11</text>
<text x="181.2" y="354" font-size="6.8" font-weight="bold" text-anchor="middle" fill="#222" font-family='"Liberation Sans", sans-serif' stroke="#222" stroke-width="0.2">12</text>
<text x="195.26" y="354" font-size="6.8" font-weight="bold" text-anchor="middle" fill="#222" font-family='"Liberation Sans", sans-serif' stroke="#222" stroke-width="0.2">13</text>
<text x="209.32" y="354" font-size="6.8" font-weight="bold" text-anchor="middle" fill="#222" font-family='"Liberation Sans", sans-serif' stroke="#222" stroke-width="0.2">14</text>
<text x="223.38" y="354" font-size="6.8" font-weight="bold" text-anchor="middle" fill="#222" font-family='"Liberation Sans", sans-serif' stroke="#222" stroke-width="0.2">15</text>
<text x="237.44" y="354" font-size="6.8" font-weight="bold" text-anchor="middle" fill="#222" font-family='"Liberation Sans", sans-serif' stroke="#222" stroke-width="0.2">16</text>
<text x="251.5" y="354" font-size="6.8" font-weight="bold" text-anchor="middle" fill="#222" font-family='"Liberation Sans", sans-serif' stroke="#222" stroke-width="0.2">17</text>
<text x="265.56" y="354" font-size="6.8" font-weight="bold" text-anchor="middle" fill="#222" font-family='"Liberation Sans", sans-serif' stroke="#222" stroke-width="0.2">18</text>
<path d="M30.4 343.2H32.4M30.4 335.74H32.4M30.4 328.28H32.4M30.4 320.82H32.4M30.4 313.36H32.4M30.4 305.9H32.4M40.6 345.1V347.1M54.66 345.1V347.1M68.72 345.1V347.1M82.78 345.1V347.1M96.84 345.1V347.1M110.9 345.1V347.1M124.96 345.1V347.1M139.02 345.1V347.1M153.08 345.1V347.1M167.14 345.1V347.1M181.2 345.1V347.1M195.26 345.1V347.1M209.32 345.1V347.1M223.38 345.1V347.1M237.44 345.1V347.1M251.5 345.1V347.1M265.56 345.1V347.1" stroke="#4a4a4a" stroke-width="0.8"/>
<path d="M40.6 305.9V337.53M54.66 305.9V340.44M68.72 305.9V336.78M82.78 305.9V333.8M96.84 305.9V333.3M110.9 305.9V332.66M124.96 305.9V332.01M139.02 305.9V332.44M153.08 305.9V332.87M167.14 305.9V333.3M181.2 305.9V333.73M195.26 305.9V334.06M209.32 305.9V334.4M223.38 305.9V334.73M237.44 305.9V335.07M251.5 305.9V335.4M265.56 305.9V335.74" stroke="#D9899B" stroke-width="1.1" opacity="0.55"/>
<path d="M40.6 308.51V326.41M54.66 309.26V327.16M68.72 308.81V326.71M82.78 307.28V325.56M96.84 307.09V325.74M110.9 307.21V326.23M124.96 307.14V326.54M139.02 307.04V326.89M153.08 306.94V327.24M167.14 307.62V328.35M181.2 308.29V329.47M195.26 308.29V329.92M209.32 308.29V330.37M223.38 308.25V330.78M237.44 308.21V331.19M251.5 308.18V331.6M265.56 308.14V332.01" stroke="#4A188F" stroke-width="1.1" opacity="0.62"/>
<path d="M40.6 308.59V320.52M54.66 305.9V319.85M68.72 305.9V314.63M82.78 306.12V312.84M96.84 306.5V310.97M110.9 306.48V310.83M124.96 306.46V310.69M139.02 306.44V310.54M153.08 306.42V310.4M167.14 306.4V310.26M181.2 306.38V310.11M195.26 306.37V309.97M209.32 306.35V309.83M223.38 306.33V309.69M237.44 306.31V309.54M251.5 306.29V309.4M265.56 306.27V309.26" stroke="#3260E4" stroke-width="1.1" opacity="0.62"/>
<path d="M40.6 306.5V312.46M54.66 307.84V319.78M68.72 308.59V319.03M82.78 307.17V316.12M96.84 305.9V313.21M110.9 306.2V312.17M124.96 306.65V311.12M139.02 306.61V310.94M153.08 306.57V310.75M167.14 306.53V310.56M181.2 306.5V310.38M195.26 306.46V310.19M209.32 306.42V310M223.38 306.38V309.82M237.44 306.35V309.63M251.5 306.31V309.44M265.56 306.27V309.26" stroke="#F05838" stroke-width="1.1" opacity="0.55"/>
<path d="M40.6 309.93V327.83M54.66 307.02V329.4M68.72 307.09V322.01M82.78 307.47V318.66M96.84 306.42V313.88M110.9 306.16V312.88M124.96 305.9V311.87M139.02 305.99V311.22M153.08 306.09V310.56M167.14 305.9V310.19M181.2 305.9V309.82M195.26 305.9V309.69M209.32 305.9V309.56M223.38 305.9V309.42M237.44 305.94V309.29M251.5 305.99V309.16M265.56 306.05V309.03" stroke="#BC2256" stroke-width="1.1" opacity="0.6"/>
<polyline points="40.6,321.12 54.66,321.79 68.72,320.37 82.78,318.88 96.84,318.88 110.9,318.73 124.96,318.58 139.02,318.86 153.08,319.14 167.14,319.42 181.2,319.7 195.26,319.89 209.32,320.07 223.38,320.26 237.44,320.45 251.5,320.63 265.56,320.82" fill="none" stroke="#D9899B" stroke-width="1.1" opacity="0.95"/>
<polyline points="40.6,317.46 54.66,318.21 68.72,317.76 82.78,316.42 96.84,316.42 110.9,316.72 124.96,316.84 139.02,316.97 153.08,317.09 167.14,317.99 181.2,318.88 195.26,319.1 209.32,319.33 223.38,319.51 237.44,319.7 251.5,319.89 265.56,320.07" fill="none" stroke="#4A188F" stroke-width="1.3" opacity="0.95"/>
<polyline points="40.6,314.55 54.66,310.9 68.72,310.15 82.78,309.48 96.84,308.73 110.9,308.65 124.96,308.57 139.02,308.49 153.08,308.41 167.14,308.33 181.2,308.25 195.26,308.17 209.32,308.09 223.38,308.01 237.44,307.93 251.5,307.85 265.56,307.76" fill="none" stroke="#3260E4" stroke-width="1.1" stroke-dasharray="1.1 2.6" opacity="0.8"/>
<polyline points="40.6,309.48 54.66,313.81 68.72,313.81 82.78,311.64 96.84,309.48 110.9,309.18 124.96,308.88 139.02,308.77 153.08,308.66 167.14,308.55 181.2,308.44 195.26,308.32 209.32,308.21 223.38,308.1 237.44,307.99 251.5,307.88 265.56,307.76" fill="none" stroke="#F05838" stroke-width="1.1" stroke-dasharray="1.1 2.6" opacity="0.8"/>
<polyline points="40.6,318.88 54.66,318.21 68.72,314.55 82.78,313.06 96.84,310.15 110.9,309.52 124.96,308.88 139.02,308.6 153.08,308.32 167.14,308.04 181.2,307.76 195.26,307.73 209.32,307.69 223.38,307.65 237.44,307.62 251.5,307.58 265.56,307.54" fill="none" stroke="#BC2256" stroke-width="1.1" stroke-dasharray="1.1 2.6" opacity="0.8"/>
<rect x="38.7" y="319.22" width="3.8" height="3.8" rx="1" fill="#D9899B" opacity="0.9"/>
<rect x="52.76" y="319.89" width="3.8" height="3.8" rx="1" fill="#D9899B" opacity="0.9"/>
<rect x="66.82" y="318.47" width="3.8" height="3.8" rx="1" fill="#D9899B" opacity="0.9"/>
<rect x="80.88" y="316.98" width="3.8" height="3.8" rx="1" fill="#D9899B" opacity="0.9"/>
<rect x="94.94" y="316.98" width="3.8" height="3.8" rx="1" fill="#D9899B" opacity="0.9"/>
<rect x="109" y="316.83" width="3.8" height="3.8" rx="1" fill="#D9899B" opacity="0.9"/>
<rect x="123.06" y="316.68" width="3.8" height="3.8" rx="1" fill="#D9899B" opacity="0.9"/>
<rect x="137.12" y="316.96" width="3.8" height="3.8" rx="1" fill="#D9899B" opacity="0.9"/>
<rect x="151.18" y="317.24" width="3.8" height="3.8" rx="1" fill="#D9899B" opacity="0.9"/>
<rect x="165.24" y="317.52" width="3.8" height="3.8" rx="1" fill="#D9899B" opacity="0.9"/>
<rect x="179.3" y="317.8" width="3.8" height="3.8" rx="1" fill="#D9899B" opacity="0.9"/>
<rect x="193.36" y="317.99" width="3.8" height="3.8" rx="1" fill="#D9899B" opacity="0.9"/>
<rect x="207.42" y="318.17" width="3.8" height="3.8" rx="1" fill="#D9899B" opacity="0.9"/>
<rect x="221.48" y="318.36" width="3.8" height="3.8" rx="1" fill="#D9899B" opacity="0.9"/>
<rect x="235.54" y="318.55" width="3.8" height="3.8" rx="1" fill="#D9899B" opacity="0.9"/>
<rect x="249.6" y="318.73" width="3.8" height="3.8" rx="1" fill="#D9899B" opacity="0.9"/>
<rect x="263.66" y="318.92" width="3.8" height="3.8" rx="1" fill="#D9899B" opacity="0.9"/>
<rect x="38.7" y="315.56" width="3.8" height="3.8" rx="1" fill="#4A188F" opacity="0.9"/>
<rect x="52.76" y="316.31" width="3.8" height="3.8" rx="1" fill="#4A188F" opacity="0.9"/>
<rect x="66.82" y="315.86" width="3.8" height="3.8" rx="1" fill="#4A188F" opacity="0.9"/>
<rect x="80.88" y="314.52" width="3.8" height="3.8" rx="1" fill="#4A188F" opacity="0.9"/>
<rect x="94.94" y="314.52" width="3.8" height="3.8" rx="1" fill="#4A188F" opacity="0.9"/>
<rect x="109" y="314.82" width="3.8" height="3.8" rx="1" fill="#4A188F" opacity="0.9"/>
<rect x="123.06" y="314.94" width="3.8" height="3.8" rx="1" fill="#4A188F" opacity="0.9"/>
<rect x="137.12" y="315.07" width="3.8" height="3.8" rx="1" fill="#4A188F" opacity="0.9"/>
<rect x="151.18" y="315.19" width="3.8" height="3.8" rx="1" fill="#4A188F" opacity="0.9"/>
<rect x="165.24" y="316.09" width="3.8" height="3.8" rx="1" fill="#4A188F" opacity="0.9"/>
<rect x="179.3" y="316.98" width="3.8" height="3.8" rx="1" fill="#4A188F" opacity="0.9"/>
<rect x="193.36" y="317.2" width="3.8" height="3.8" rx="1" fill="#4A188F" opacity="0.9"/>
<rect x="207.42" y="317.43" width="3.8" height="3.8" rx="1" fill="#4A188F" opacity="0.9"/>
<rect x="221.48" y="317.61" width="3.8" height="3.8" rx="1" fill="#4A188F" opacity="0.9"/>
<rect x="235.54" y="317.8" width="3.8" height="3.8" rx="1" fill="#4A188F" opacity="0.9"/>
<rect x="249.6" y="317.99" width="3.8" height="3.8" rx="1" fill="#4A188F" opacity="0.9"/>
<rect x="263.66" y="318.17" width="3.8" height="3.8" rx="1" fill="#4A188F" opacity="0.9"/>
<circle cx="40.6" cy="314.55" r="1.9" fill="#3260E4" opacity="0.92"/>
<circle cx="54.66" cy="310.9" r="1.9" fill="#3260E4" opacity="0.92"/>
<circle cx="68.72" cy="310.15" r="1.9" fill="#3260E4" opacity="0.92"/>
<circle cx="82.78" cy="309.48" r="1.9" fill="#3260E4" opacity="0.92"/>
<circle cx="96.84" cy="308.73" r="1.9" fill="#3260E4" opacity="0.92"/>
<circle cx="110.9" cy="308.65" r="1.9" fill="#3260E4" opacity="0.92"/>
<circle cx="124.96" cy="308.57" r="1.9" fill="#3260E4" opacity="0.92"/>
<circle cx="139.02" cy="308.49" r="1.9" fill="#3260E4" opacity="0.92"/>
<circle cx="153.08" cy="308.41" r="1.9" fill="#3260E4" opacity="0.92"/>
<circle cx="167.14" cy="308.33" r="1.9" fill="#3260E4" opacity="0.92"/>
<circle cx="181.2" cy="308.25" r="1.9" fill="#3260E4" opacity="0.92"/>
<circle cx="195.26" cy="308.17" r="1.9" fill="#3260E4" opacity="0.92"/>
<circle cx="209.32" cy="308.09" r="1.9" fill="#3260E4" opacity="0.92"/>
<circle cx="223.38" cy="308.01" r="1.9" fill="#3260E4" opacity="0.92"/>
<circle cx="237.44" cy="307.93" r="1.9" fill="#3260E4" opacity="0.92"/>
<circle cx="251.5" cy="307.85" r="1.9" fill="#3260E4" opacity="0.92"/>
<circle cx="265.56" cy="307.76" r="1.9" fill="#3260E4" opacity="0.92"/>
<circle cx="40.6" cy="309.48" r="1.9" fill="#F05838" opacity="0.92"/>
<circle cx="54.66" cy="313.81" r="1.9" fill="#F05838" opacity="0.92"/>
<circle cx="68.72" cy="313.81" r="1.9" fill="#F05838" opacity="0.92"/>
<circle cx="82.78" cy="311.64" r="1.9" fill="#F05838" opacity="0.92"/>
<circle cx="96.84" cy="309.48" r="1.9" fill="#F05838" opacity="0.92"/>
<circle cx="110.9" cy="309.18" r="1.9" fill="#F05838" opacity="0.92"/>
<circle cx="124.96" cy="308.88" r="1.9" fill="#F05838" opacity="0.92"/>
<circle cx="139.02" cy="308.77" r="1.9" fill="#F05838" opacity="0.92"/>
<circle cx="153.08" cy="308.66" r="1.9" fill="#F05838" opacity="0.92"/>
<circle cx="167.14" cy="308.55" r="1.9" fill="#F05838" opacity="0.92"/>
<circle cx="181.2" cy="308.44" r="1.9" fill="#F05838" opacity="0.92"/>
<circle cx="195.26" cy="308.32" r="1.9" fill="#F05838" opacity="0.92"/>
<circle cx="209.32" cy="308.21" r="1.9" fill="#F05838" opacity="0.92"/>
<circle cx="223.38" cy="308.1" r="1.9" fill="#F05838" opacity="0.92"/>
<circle cx="237.44" cy="307.99" r="1.9" fill="#F05838" opacity="0.92"/>
<circle cx="251.5" cy="307.88" r="1.9" fill="#F05838" opacity="0.92"/>
<circle cx="265.56" cy="307.76" r="1.9" fill="#F05838" opacity="0.92"/>
<circle cx="40.6" cy="318.88" r="1.9" fill="#BC2256" opacity="0.92"/>
<circle cx="54.66" cy="318.21" r="1.9" fill="#BC2256" opacity="0.92"/>
<circle cx="68.72" cy="314.55" r="1.9" fill="#BC2256" opacity="0.92"/>
<circle cx="82.78" cy="313.06" r="1.9" fill="#BC2256" opacity="0.92"/>
<circle cx="96.84" cy="310.15" r="1.9" fill="#BC2256" opacity="0.92"/>
<circle cx="110.9" cy="309.52" r="1.9" fill="#BC2256" opacity="0.92"/>
<circle cx="124.96" cy="308.88" r="1.9" fill="#BC2256" opacity="0.92"/>
<circle cx="139.02" cy="308.6" r="1.9" fill="#BC2256" opacity="0.92"/>
<circle cx="153.08" cy="308.32" r="1.9" fill="#BC2256" opacity="0.92"/>
<circle cx="167.14" cy="308.04" r="1.9" fill="#BC2256" opacity="0.92"/>
<circle cx="181.2" cy="307.76" r="1.9" fill="#BC2256" opacity="0.92"/>
<circle cx="195.26" cy="307.73" r="1.9" fill="#BC2256" opacity="0.92"/>
<circle cx="209.32" cy="307.69" r="1.9" fill="#BC2256" opacity="0.92"/>
<circle cx="223.38" cy="307.65" r="1.9" fill="#BC2256" opacity="0.92"/>
<circle cx="237.44" cy="307.62" r="1.9" fill="#BC2256" opacity="0.92"/>
<circle cx="251.5" cy="307.58" r="1.9" fill="#BC2256" opacity="0.92"/>
<circle cx="265.56" cy="307.54" r="1.9" fill="#BC2256" opacity="0.92"/>
<text x="56" y="306" font-size="7.2" font-weight="bold" text-anchor="start" fill="#111" font-family='"Liberation Sans", sans-serif' stroke="#222" stroke-width="0.2" textLength="9.6" lengthAdjust="spacingAndGlyphs">Up</text>
<path d="M301.4 304V345.1H544.2" fill="none" stroke="#4d4d4d" stroke-width="1.2"/>
<text x="298" y="345.55" font-size="6.7" font-weight="bold" text-anchor="end" fill="#222" font-family='"Liberation Sans", sans-serif' stroke="#222" stroke-width="0.2">0.5</text>
<text x="298" y="338.09" font-size="6.7" font-weight="bold" text-anchor="end" fill="#222" font-family='"Liberation Sans", sans-serif' stroke="#222" stroke-width="0.2">0.6</text>
<text x="298" y="330.63" font-size="6.7" font-weight="bold" text-anchor="end" fill="#222" font-family='"Liberation Sans", sans-serif' stroke="#222" stroke-width="0.2">0.7</text>
<text x="298" y="323.17" font-size="6.7" font-weight="bold" text-anchor="end" fill="#222" font-family='"Liberation Sans", sans-serif' stroke="#222" stroke-width="0.2">0.8</text>
<text x="298" y="315.71" font-size="6.7" font-weight="bold" text-anchor="end" fill="#222" font-family='"Liberation Sans", sans-serif' stroke="#222" stroke-width="0.2">0.9</text>
<text x="298" y="308.25" font-size="6.7" font-weight="bold" text-anchor="end" fill="#222" font-family='"Liberation Sans", sans-serif' stroke="#222" stroke-width="0.2">1.0</text>
<text x="310.5" y="354" font-size="6.8" font-weight="bold" text-anchor="middle" fill="#222" font-family='"Liberation Sans", sans-serif' stroke="#222" stroke-width="0.2">2</text>
<text x="324.56" y="354" font-size="6.8" font-weight="bold" text-anchor="middle" fill="#222" font-family='"Liberation Sans", sans-serif' stroke="#222" stroke-width="0.2">3</text>
<text x="338.62" y="354" font-size="6.8" font-weight="bold" text-anchor="middle" fill="#222" font-family='"Liberation Sans", sans-serif' stroke="#222" stroke-width="0.2">4</text>
<text x="352.68" y="354" font-size="6.8" font-weight="bold" text-anchor="middle" fill="#222" font-family='"Liberation Sans", sans-serif' stroke="#222" stroke-width="0.2">5</text>
<text x="366.74" y="354" font-size="6.8" font-weight="bold" text-anchor="middle" fill="#222" font-family='"Liberation Sans", sans-serif' stroke="#222" stroke-width="0.2">6</text>
<text x="380.8" y="354" font-size="6.8" font-weight="bold" text-anchor="middle" fill="#222" font-family='"Liberation Sans", sans-serif' stroke="#222" stroke-width="0.2">7</text>
<text x="394.86" y="354" font-size="6.8" font-weight="bold" text-anchor="middle" fill="#222" font-family='"Liberation Sans", sans-serif' stroke="#222" stroke-width="0.2">8</text>
<text x="408.92" y="354" font-size="6.8" font-weight="bold" text-anchor="middle" fill="#222" font-family='"Liberation Sans", sans-serif' stroke="#222" stroke-width="0.2">9</text>
<text x="422.98" y="354" font-size="6.8" font-weight="bold" text-anchor="middle" fill="#222" font-family='"Liberation Sans", sans-serif' stroke="#222" stroke-width="0.2">10</text>
<text x="437.04" y="354" font-size="6.8" font-weight="bold" text-anchor="middle" fill="#222" font-family='"Liberation Sans", sans-serif' stroke="#222" stroke-width="0.2">11</text>
<text x="451.1" y="354" font-size="6.8" font-weight="bold" text-anchor="middle" fill="#222" font-family='"Liberation Sans", sans-serif' stroke="#222" stroke-width="0.2">12</text>
<text x="465.16" y="354" font-size="6.8" font-weight="bold" text-anchor="middle" fill="#222" font-family='"Liberation Sans", sans-serif' stroke="#222" stroke-width="0.2">13</text>
<text x="479.22" y="354" font-size="6.8" font-weight="bold" text-anchor="middle" fill="#222" font-family='"Liberation Sans", sans-serif' stroke="#222" stroke-width="0.2">14</text>
<text x="493.28" y="354" font-size="6.8" font-weight="bold" text-anchor="middle" fill="#222" font-family='"Liberation Sans", sans-serif' stroke="#222" stroke-width="0.2">15</text>
<text x="507.34" y="354" font-size="6.8" font-weight="bold" text-anchor="middle" fill="#222" font-family='"Liberation Sans", sans-serif' stroke="#222" stroke-width="0.2">16</text>
<text x="521.4" y="354" font-size="6.8" font-weight="bold" text-anchor="middle" fill="#222" font-family='"Liberation Sans", sans-serif' stroke="#222" stroke-width="0.2">17</text>
<text x="535.46" y="354" font-size="6.8" font-weight="bold" text-anchor="middle" fill="#222" font-family='"Liberation Sans", sans-serif' stroke="#222" stroke-width="0.2">18</text>
<path d="M299.4 343.2H301.4M299.4 335.74H301.4M299.4 328.28H301.4M299.4 320.82H301.4M299.4 313.36H301.4M299.4 305.9H301.4M310.5 345.1V347.1M324.56 345.1V347.1M338.62 345.1V347.1M352.68 345.1V347.1M366.74 345.1V347.1M380.8 345.1V347.1M394.86 345.1V347.1M408.92 345.1V347.1M422.98 345.1V347.1M437.04 345.1V347.1M451.1 345.1V347.1M465.16 345.1V347.1M479.22 345.1V347.1M493.28 345.1V347.1M507.34 345.1V347.1M521.4 345.1V347.1M535.46 345.1V347.1" stroke="#4a4a4a" stroke-width="0.8"/>
<path d="M310.5 305.9V337.53M324.56 305.9V340.44M338.62 305.9V336.78M352.68 305.9V333.8M366.74 305.9V333.3M380.8 305.9V332.66M394.86 305.9V332.01M408.92 305.9V332.44M422.98 305.9V332.87M437.04 305.9V333.3M451.1 305.9V333.73M465.16 305.9V334.06M479.22 305.9V334.4M493.28 305.9V334.73M507.34 305.9V335.07M521.4 305.9V335.4M535.46 305.9V335.74" stroke="#D9899B" stroke-width="1.1" opacity="0.55"/>
<path d="M310.5 308.51V326.41M324.56 309.26V327.16M338.62 308.81V326.71M352.68 307.28V325.56M366.74 307.09V325.74M380.8 307.21V326.23M394.86 307.14V326.54M408.92 307.04V326.89M422.98 306.94V327.24M437.04 307.62V328.35M451.1 308.29V329.47M465.16 308.29V329.92M479.22 308.29V330.37M493.28 308.25V330.78M507.34 308.21V331.19M521.4 308.18V331.6M535.46 308.14V332.01" stroke="#4A188F" stroke-width="1.1" opacity="0.62"/>
<path d="M310.5 308.59V320.52M324.56 305.9V319.85M338.62 305.9V314.63M352.68 306.12V312.84M366.74 306.5V310.97M380.8 306.48V310.83M394.86 306.46V310.69M408.92 306.44V310.54M422.98 306.42V310.4M437.04 306.4V310.26M451.1 306.38V310.11M465.16 306.37V309.97M479.22 306.35V309.83M493.28 306.33V309.69M507.34 306.31V309.54M521.4 306.29V309.4M535.46 306.27V309.26" stroke="#3260E4" stroke-width="1.1" opacity="0.62"/>
<path d="M310.5 306.5V312.46M324.56 307.84V319.78M338.62 308.59V319.03M352.68 307.17V316.12M366.74 305.9V313.21M380.8 306.2V312.17M394.86 306.65V311.12M408.92 306.61V310.94M422.98 306.57V310.75M437.04 306.53V310.56M451.1 306.5V310.38M465.16 306.46V310.19M479.22 306.42V310M493.28 306.38V309.82M507.34 306.35V309.63M521.4 306.31V309.44M535.46 306.27V309.26" stroke="#F05838" stroke-width="1.1" opacity="0.55"/>
<path d="M310.5 309.93V327.83M324.56 307.02V329.4M338.62 307.09V322.01M352.68 307.47V318.66M366.74 306.42V313.88M380.8 306.16V312.88M394.86 305.9V311.87M408.92 305.99V311.22M422.98 306.09V310.56M437.04 305.9V310.19M451.1 305.9V309.82M465.16 305.9V309.69M479.22 305.9V309.56M493.28 305.9V309.42M507.34 305.94V309.29M521.4 305.99V309.16M535.46 306.05V309.03" stroke="#BC2256" stroke-width="1.1" opacity="0.6"/>
<polyline points="310.5,321.12 324.56,321.79 338.62,320.37 352.68,318.88 366.74,318.88 380.8,318.73 394.86,318.58 408.92,318.86 422.98,319.14 437.04,319.42 451.1,319.7 465.16,319.89 479.22,320.07 493.28,320.26 507.34,320.45 521.4,320.63 535.46,320.82" fill="none" stroke="#D9899B" stroke-width="1.1" opacity="0.95"/>
<polyline points="310.5,317.46 324.56,318.21 338.62,317.76 352.68,316.42 366.74,316.42 380.8,316.72 394.86,316.84 408.92,316.97 422.98,317.09 437.04,317.99 451.1,318.88 465.16,319.1 479.22,319.33 493.28,319.51 507.34,319.7 521.4,319.89 535.46,320.07" fill="none" stroke="#4A188F" stroke-width="1.3" opacity="0.95"/>
<polyline points="310.5,314.55 324.56,310.9 338.62,310.15 352.68,309.48 366.74,308.73 380.8,308.65 394.86,308.57 408.92,308.49 422.98,308.41 437.04,308.33 451.1,308.25 465.16,308.17 479.22,308.09 493.28,308.01 507.34,307.93 521.4,307.85 535.46,307.76" fill="none" stroke="#3260E4" stroke-width="1.1" stroke-dasharray="1.1 2.6" opacity="0.8"/>
<polyline points="310.5,309.48 324.56,313.81 338.62,313.81 352.68,311.64 366.74,309.48 380.8,309.18 394.86,308.88 408.92,308.77 422.98,308.66 437.04,308.55 451.1,308.44 465.16,308.32 479.22,308.21 493.28,308.1 507.34,307.99 521.4,307.88 535.46,307.76" fill="none" stroke="#F05838" stroke-width="1.1" stroke-dasharray="1.1 2.6" opacity="0.8"/>
<polyline points="310.5,318.88 324.56,318.21 338.62,314.55 352.68,313.06 366.74,310.15 380.8,309.52 394.86,308.88 408.92,308.6 422.98,308.32 437.04,308.04 451.1,307.76 465.16,307.73 479.22,307.69 493.28,307.65 507.34,307.62 521.4,307.58 535.46,307.54" fill="none" stroke="#BC2256" stroke-width="1.1" stroke-dasharray="1.1 2.6" opacity="0.8"/>
<rect x="308.6" y="319.22" width="3.8" height="3.8" rx="1" fill="#D9899B" opacity="0.9"/>
<rect x="322.66" y="319.89" width="3.8" height="3.8" rx="1" fill="#D9899B" opacity="0.9"/>
<rect x="336.72" y="318.47" width="3.8" height="3.8" rx="1" fill="#D9899B" opacity="0.9"/>
<rect x="350.78" y="316.98" width="3.8" height="3.8" rx="1" fill="#D9899B" opacity="0.9"/>
<rect x="364.84" y="316.98" width="3.8" height="3.8" rx="1" fill="#D9899B" opacity="0.9"/>
<rect x="378.9" y="316.83" width="3.8" height="3.8" rx="1" fill="#D9899B" opacity="0.9"/>
<rect x="392.96" y="316.68" width="3.8" height="3.8" rx="1" fill="#D9899B" opacity="0.9"/>
<rect x="407.02" y="316.96" width="3.8" height="3.8" rx="1" fill="#D9899B" opacity="0.9"/>
<rect x="421.08" y="317.24" width="3.8" height="3.8" rx="1" fill="#D9899B" opacity="0.9"/>
<rect x="435.14" y="317.52" width="3.8" height="3.8" rx="1" fill="#D9899B" opacity="0.9"/>
<rect x="449.2" y="317.8" width="3.8" height="3.8" rx="1" fill="#D9899B" opacity="0.9"/>
<rect x="463.26" y="317.99" width="3.8" height="3.8" rx="1" fill="#D9899B" opacity="0.9"/>
<rect x="477.32" y="318.17" width="3.8" height="3.8" rx="1" fill="#D9899B" opacity="0.9"/>
<rect x="491.38" y="318.36" width="3.8" height="3.8" rx="1" fill="#D9899B" opacity="0.9"/>
<rect x="505.44" y="318.55" width="3.8" height="3.8" rx="1" fill="#D9899B" opacity="0.9"/>
<rect x="519.5" y="318.73" width="3.8" height="3.8" rx="1" fill="#D9899B" opacity="0.9"/>
<rect x="533.56" y="318.92" width="3.8" height="3.8" rx="1" fill="#D9899B" opacity="0.9"/>
<rect x="308.6" y="315.56" width="3.8" height="3.8" rx="1" fill="#4A188F" opacity="0.9"/>
<rect x="322.66" y="316.31" width="3.8" height="3.8" rx="1" fill="#4A188F" opacity="0.9"/>
<rect x="336.72" y="315.86" width="3.8" height="3.8" rx="1" fill="#4A188F" opacity="0.9"/>
<rect x="350.78" y="314.52" width="3.8" height="3.8" rx="1" fill="#4A188F" opacity="0.9"/>
<rect x="364.84" y="314.52" width="3.8" height="3.8" rx="1" fill="#4A188F" opacity="0.9"/>
<rect x="378.9" y="314.82" width="3.8" height="3.8" rx="1" fill="#4A188F" opacity="0.9"/>
<rect x="392.96" y="314.94" width="3.8" height="3.8" rx="1" fill="#4A188F" opacity="0.9"/>
<rect x="407.02" y="315.07" width="3.8" height="3.8" rx="1" fill="#4A188F" opacity="0.9"/>
<rect x="421.08" y="315.19" width="3.8" height="3.8" rx="1" fill="#4A188F" opacity="0.9"/>
<rect x="435.14" y="316.09" width="3.8" height="3.8" rx="1" fill="#4A188F" opacity="0.9"/>
<rect x="449.2" y="316.98" width="3.8" height="3.8" rx="1" fill="#4A188F" opacity="0.9"/>
<rect x="463.26" y="317.2" width="3.8" height="3.8" rx="1" fill="#4A188F" opacity="0.9"/>
<rect x="477.32" y="317.43" width="3.8" height="3.8" rx="1" fill="#4A188F" opacity="0.9"/>
<rect x="491.38" y="317.61" width="3.8" height="3.8" rx="1" fill="#4A188F" opacity="0.9"/>
<rect x="505.44" y="317.8" width="3.8" height="3.8" rx="1" fill="#4A188F" opacity="0.9"/>
<rect x="519.5" y="317.99" width="3.8" height="3.8" rx="1" fill="#4A188F" opacity="0.9"/>
<rect x="533.56" y="318.17" width="3.8" height="3.8" rx="1" fill="#4A188F" opacity="0.9"/>
<circle cx="310.5" cy="314.55" r="1.9" fill="#3260E4" opacity="0.92"/>
<circle cx="324.56" cy="310.9" r="1.9" fill="#3260E4" opacity="0.92"/>
<circle cx="338.62" cy="310.15" r="1.9" fill="#3260E4" opacity="0.92"/>
<circle cx="352.68" cy="309.48" r="1.9" fill="#3260E4" opacity="0.92"/>
<circle cx="366.74" cy="308.73" r="1.9" fill="#3260E4" opacity="0.92"/>
<circle cx="380.8" cy="308.65" r="1.9" fill="#3260E4" opacity="0.92"/>
<circle cx="394.86" cy="308.57" r="1.9" fill="#3260E4" opacity="0.92"/>
<circle cx="408.92" cy="308.49" r="1.9" fill="#3260E4" opacity="0.92"/>
<circle cx="422.98" cy="308.41" r="1.9" fill="#3260E4" opacity="0.92"/>
<circle cx="437.04" cy="308.33" r="1.9" fill="#3260E4" opacity="0.92"/>
<circle cx="451.1" cy="308.25" r="1.9" fill="#3260E4" opacity="0.92"/>
<circle cx="465.16" cy="308.17" r="1.9" fill="#3260E4" opacity="0.92"/>
<circle cx="479.22" cy="308.09" r="1.9" fill="#3260E4" opacity="0.92"/>
<circle cx="493.28" cy="308.01" r="1.9" fill="#3260E4" opacity="0.92"/>
<circle cx="507.34" cy="307.93" r="1.9" fill="#3260E4" opacity="0.92"/>
<circle cx="521.4" cy="307.85" r="1.9" fill="#3260E4" opacity="0.92"/>
<circle cx="535.46" cy="307.76" r="1.9" fill="#3260E4" opacity="0.92"/>
<circle cx="310.5" cy="309.48" r="1.9" fill="#F05838" opacity="0.92"/>
<circle cx="324.56" cy="313.81" r="1.9" fill="#F05838" opacity="0.92"/>
<circle cx="338.62" cy="313.81" r="1.9" fill="#F05838" opacity="0.92"/>
<circle cx="352.68" cy="311.64" r="1.9" fill="#F05838" opacity="0.92"/>
<circle cx="366.74" cy="309.48" r="1.9" fill="#F05838" opacity="0.92"/>
<circle cx="380.8" cy="309.18" r="1.9" fill="#F05838" opacity="0.92"/>
<circle cx="394.86" cy="308.88" r="1.9" fill="#F05838" opacity="0.92"/>
<circle cx="408.92" cy="308.77" r="1.9" fill="#F05838" opacity="0.92"/>
<circle cx="422.98" cy="308.66" r="1.9" fill="#F05838" opacity="0.92"/>
<circle cx="437.04" cy="308.55" r="1.9" fill="#F05838" opacity="0.92"/>
<circle cx="451.1" cy="308.44" r="1.9" fill="#F05838" opacity="0.92"/>
<circle cx="465.16" cy="308.32" r="1.9" fill="#F05838" opacity="0.92"/>
<circle cx="479.22" cy="308.21" r="1.9" fill="#F05838" opacity="0.92"/>
<circle cx="493.28" cy="308.1" r="1.9" fill="#F05838" opacity="0.92"/>
<circle cx="507.34" cy="307.99" r="1.9" fill="#F05838" opacity="0.92"/>
<circle cx="521.4" cy="307.88" r="1.9" fill="#F05838" opacity="0.92"/>
<circle cx="535.46" cy="307.76" r="1.9" fill="#F05838" opacity="0.92"/>
<circle cx="310.5" cy="318.88" r="1.9" fill="#BC2256" opacity="0.92"/>
<circle cx="324.56" cy="318.21" r="1.9" fill="#BC2256" opacity="0.92"/>
<circle cx="338.62" cy="314.55" r="1.9" fill="#BC2256" opacity="0.92"/>
<circle cx="352.68" cy="313.06" r="1.9" fill="#BC2256" opacity="0.92"/>
<circle cx="366.74" cy="310.15" r="1.9" fill="#BC2256" opacity="0.92"/>
<circle cx="380.8" cy="309.52" r="1.9" fill="#BC2256" opacity="0.92"/>
<circle cx="394.86" cy="308.88" r="1.9" fill="#BC2256" opacity="0.92"/>
<circle cx="408.92" cy="308.6" r="1.9" fill="#BC2256" opacity="0.92"/>
<circle cx="422.98" cy="308.32" r="1.9" fill="#BC2256" opacity="0.92"/>
<circle cx="437.04" cy="308.04" r="1.9" fill="#BC2256" opacity="0.92"/>
<circle cx="451.1" cy="307.76" r="1.9" fill="#BC2256" opacity="0.92"/>
<circle cx="465.16" cy="307.73" r="1.9" fill="#BC2256" opacity="0.92"/>
<circle cx="479.22" cy="307.69" r="1.9" fill="#BC2256" opacity="0.92"/>
<circle cx="493.28" cy="307.65" r="1.9" fill="#BC2256" opacity="0.92"/>
<circle cx="507.34" cy="307.62" r="1.9" fill="#BC2256" opacity="0.92"/>
<circle cx="521.4" cy="307.58" r="1.9" fill="#BC2256" opacity="0.92"/>
<circle cx="535.46" cy="307.54" r="1.9" fill="#BC2256" opacity="0.92"/>
<text x="310.7" y="306" font-size="7.2" font-weight="bold" text-anchor="start" fill="#111" font-family='"Liberation Sans", sans-serif' stroke="#222" stroke-width="0.2" textLength="19.2" lengthAdjust="spacingAndGlyphs">Down</text>
<text x="14.8" y="367.2" font-size="10" font-weight="bold" text-anchor="start" fill="#111" font-family='"Liberation Sans", sans-serif' stroke="#111" stroke-width="0.18" textLength="90.4" lengthAdjust="spacingAndGlyphs">Shoulder abduction</text>
<text x="0" y="0" font-size="9" font-weight="bold" font-family='"Liberation Sans", sans-serif' fill="#111" text-anchor="middle" textLength="12.8" lengthAdjust="spacingAndGlyphs" stroke="#111" stroke-width="0.18" transform="translate(11.8 400.3) rotate(-90)">ICC</text>
<path d="M32.4 375.5V416.6H274.4" fill="none" stroke="#4d4d4d" stroke-width="1.2"/>
<text x="29" y="417.05" font-size="6.7" font-weight="bold" text-anchor="end" fill="#222" font-family='"Liberation Sans", sans-serif' stroke="#222" stroke-width="0.2">0.5</text>
<text x="29" y="409.59" font-size="6.7" font-weight="bold" text-anchor="end" fill="#222" font-family='"Liberation Sans", sans-serif' stroke="#222" stroke-width="0.2">0.6</text>
<text x="29" y="402.13" font-size="6.7" font-weight="bold" text-anchor="end" fill="#222" font-family='"Liberation Sans", sans-serif' stroke="#222" stroke-width="0.2">0.7</text>
<text x="29" y="394.67" font-size="6.7" font-weight="bold" text-anchor="end" fill="#222" font-family='"Liberation Sans", sans-serif' stroke="#222" stroke-width="0.2">0.8</text>
<text x="29" y="387.21" font-size="6.7" font-weight="bold" text-anchor="end" fill="#222" font-family='"Liberation Sans", sans-serif' stroke="#222" stroke-width="0.2">0.9</text>
<text x="29" y="379.75" font-size="6.7" font-weight="bold" text-anchor="end" fill="#222" font-family='"Liberation Sans", sans-serif' stroke="#222" stroke-width="0.2">1.0</text>
<text x="40.6" y="425.5" font-size="6.8" font-weight="bold" text-anchor="middle" fill="#222" font-family='"Liberation Sans", sans-serif' stroke="#222" stroke-width="0.2">2</text>
<text x="54.66" y="425.5" font-size="6.8" font-weight="bold" text-anchor="middle" fill="#222" font-family='"Liberation Sans", sans-serif' stroke="#222" stroke-width="0.2">3</text>
<text x="68.72" y="425.5" font-size="6.8" font-weight="bold" text-anchor="middle" fill="#222" font-family='"Liberation Sans", sans-serif' stroke="#222" stroke-width="0.2">4</text>
<text x="82.78" y="425.5" font-size="6.8" font-weight="bold" text-anchor="middle" fill="#222" font-family='"Liberation Sans", sans-serif' stroke="#222" stroke-width="0.2">5</text>
<text x="96.84" y="425.5" font-size="6.8" font-weight="bold" text-anchor="middle" fill="#222" font-family='"Liberation Sans", sans-serif' stroke="#222" stroke-width="0.2">6</text>
<text x="110.9" y="425.5" font-size="6.8" font-weight="bold" text-anchor="middle" fill="#222" font-family='"Liberation Sans", sans-serif' stroke="#222" stroke-width="0.2">7</text>
<text x="124.96" y="425.5" font-size="6.8" font-weight="bold" text-anchor="middle" fill="#222" font-family='"Liberation Sans", sans-serif' stroke="#222" stroke-width="0.2">8</text>
<text x="139.02" y="425.5" font-size="6.8" font-weight="bold" text-anchor="middle" fill="#222" font-family='"Liberation Sans", sans-serif' stroke="#222" stroke-width="0.2">9</text>
<text x="153.08" y="425.5" font-size="6.8" font-weight="bold" text-anchor="middle" fill="#222" font-family='"Liberation Sans", sans-serif' stroke="#222" stroke-width="0.2">10</text>
<text x="167.14" y="425.5" font-size="6.8" font-weight="bold" text-anchor="middle" fill="#222" font-family='"Liberation Sans", sans-serif' stroke="#222" stroke-width="0.2">11</text>
<text x="181.2" y="425.5" font-size="6.8" font-weight="bold" text-anchor="middle" fill="#222" font-family='"Liberation Sans", sans-serif' stroke="#222" stroke-width="0.2">12</text>
<text x="195.26" y="425.5" font-size="6.8" font-weight="bold" text-anchor="middle" fill="#222" font-family='"Liberation Sans", sans-serif' stroke="#222" stroke-width="0.2">13</text>
<text x="209.32" y="425.5" font-size="6.8" font-weight="bold" text-anchor="middle" fill="#222" font-family='"Liberation Sans", sans-serif' stroke="#222" stroke-width="0.2">14</text>
<text x="223.38" y="425.5" font-size="6.8" font-weight="bold" text-anchor="middle" fill="#222" font-family='"Liberation Sans", sans-serif' stroke="#222" stroke-width="0.2">15</text>
<text x="237.44" y="425.5" font-size="6.8" font-weight="bold" text-anchor="middle" fill="#222" font-family='"Liberation Sans", sans-serif' stroke="#222" stroke-width="0.2">16</text>
<text x="251.5" y="425.5" font-size="6.8" font-weight="bold" text-anchor="middle" fill="#222" font-family='"Liberation Sans", sans-serif' stroke="#222" stroke-width="0.2">17</text>
<text x="265.56" y="425.5" font-size="6.8" font-weight="bold" text-anchor="middle" fill="#222" font-family='"Liberation Sans", sans-serif' stroke="#222" stroke-width="0.2">18</text>
<path d="M30.4 414.7H32.4M30.4 407.24H32.4M30.4 399.78H32.4M30.4 392.32H32.4M30.4 384.86H32.4M30.4 377.4H32.4M40.6 416.6V418.6M54.66 416.6V418.6M68.72 416.6V418.6M82.78 416.6V418.6M96.84 416.6V418.6M110.9 416.6V418.6M124.96 416.6V418.6M139.02 416.6V418.6M153.08 416.6V418.6M167.14 416.6V418.6M181.2 416.6V418.6M195.26 416.6V418.6M209.32 416.6V418.6M223.38 416.6V418.6M237.44 416.6V418.6M251.5 416.6V418.6M265.56 416.6V418.6" stroke="#4a4a4a" stroke-width="0.8"/>
<path d="M40.6 379.64V400.53M54.66 377.4V412.91M68.72 377.4V410.22M82.78 377.4V408.96M96.84 378.15V402.02M110.9 377.4V401.27M124.96 377.4V401.27M139.02 377.4V401.27M153.08 377.4V401.27M167.14 377.4V401.27M181.2 377.4V399.78M195.26 377.4V399.66M209.32 377.4V399.53M223.38 377.4V399.41M237.44 377.4V399.28M251.5 377.4V399.16M265.56 377.4V399.03" stroke="#D9899B" stroke-width="1.1" opacity="0.55"/>
<path d="M40.6 381.88V389.34M54.66 383.37V390.83M68.72 381.88V389.34M82.78 381.13V388.59M96.84 379.75V386.98M110.9 379.42V386.42M124.96 379.48V386.25M139.02 379.53V386.07M153.08 379.59V385.9M167.14 379.64V385.72M181.2 379.7V385.55M195.26 379.75V385.37M209.32 379.8V385.19M223.38 379.85V385.02M237.44 379.91V384.84M251.5 379.96V384.66M265.56 380.01V384.49" stroke="#4A188F" stroke-width="1.1" opacity="0.62"/>
<path d="M40.6 381.88V392.32M54.66 381.13V390.08M68.72 381.13V388.59M82.78 379.94V386.8M96.84 378V384.26M110.9 377.55V383.22M124.96 377.75V382.82M139.02 377.94V382.42M153.08 377.92V382.23M167.14 377.9V382.05M181.2 377.89V381.86M195.26 377.87V381.68M209.32 377.85V381.5M223.38 377.83V381.31M237.44 377.81V381.13M251.5 377.79V380.94M265.56 377.77V380.76" stroke="#3260E4" stroke-width="1.1" opacity="0.62"/>
<path d="M40.6 387.1V399.03M54.66 383.37V393.81M68.72 380.38V389.34M82.78 381.13V388.59M96.84 379.26V385.98M110.9 378.52V384.49M124.96 378.74V383.96M139.02 378.97V383.44M153.08 378.9V383.21M167.14 378.83V382.98M181.2 378.77V382.75M195.26 378.79V382.6M209.32 378.81V382.46M223.38 378.83V382.31M237.44 378.85V382.17M251.5 378.87V382.02M265.56 378.89V381.88" stroke="#F05838" stroke-width="1.1" opacity="0.55"/>
<path d="M40.6 382.62V400.53M54.66 383.37V393.81M68.72 380.38V389.34M82.78 381.13V388.59M96.84 380.01V386.72M110.9 378.52V384.49M124.96 378.82V384.05M139.02 379.13V383.61M153.08 379.14V383.45M167.14 379.16V383.3M181.2 379.17V383.15M195.26 379.19V383M209.32 379.2V382.85M223.38 379.22V382.7M237.44 379.23V382.55M251.5 379.25V382.4M265.56 379.26V382.25" stroke="#BC2256" stroke-width="1.1" opacity="0.6"/>
<polyline points="40.6,390.08 54.66,394.26 68.72,393.07 82.78,392.54 96.84,390.08 110.9,389.34 124.96,389.34 139.02,389.34 153.08,389.34 167.14,389.34 181.2,387.84 195.26,387.84 209.32,387.84 223.38,387.84 237.44,387.84 251.5,387.84 265.56,387.84" fill="none" stroke="#D9899B" stroke-width="1.1" opacity="0.95"/>
<polyline points="40.6,385.61 54.66,387.1 68.72,385.61 82.78,384.86 96.84,383.37 110.9,382.92 124.96,382.86 139.02,382.8 153.08,382.74 167.14,382.68 181.2,382.62 195.26,382.56 209.32,382.5 223.38,382.44 237.44,382.37 251.5,382.31 265.56,382.25" fill="none" stroke="#4A188F" stroke-width="1.3" opacity="0.95"/>
<polyline points="40.6,387.1 54.66,385.61 68.72,384.86 82.78,383.37 96.84,381.13 110.9,380.38 124.96,380.28 139.02,380.18 153.08,380.08 167.14,379.98 181.2,379.88 195.26,379.77 209.32,379.67 223.38,379.57 237.44,379.47 251.5,379.37 265.56,379.26" fill="none" stroke="#3260E4" stroke-width="1.1" stroke-dasharray="1.1 2.6" opacity="0.8"/>
<polyline points="40.6,393.07 54.66,388.59 68.72,384.86 82.78,384.86 96.84,382.62 110.9,381.5 124.96,381.35 139.02,381.2 153.08,381.06 167.14,380.91 181.2,380.76 195.26,380.69 209.32,380.63 223.38,380.57 237.44,380.51 251.5,380.45 265.56,380.38" fill="none" stroke="#F05838" stroke-width="1.1" stroke-dasharray="1.1 2.6" opacity="0.8"/>
<polyline points="40.6,391.57 54.66,388.59 68.72,384.86 82.78,384.86 96.84,383.37 110.9,381.5 124.96,381.44 139.02,381.37 153.08,381.3 167.14,381.23 181.2,381.16 195.26,381.1 209.32,381.03 223.38,380.96 237.44,380.89 251.5,380.82 265.56,380.76" fill="none" stroke="#BC2256" stroke-width="1.1" stroke-dasharray="1.1 2.6" opacity="0.8"/>
<rect x="38.7" y="388.18" width="3.8" height="3.8" rx="1" fill="#D9899B" opacity="0.9"/>
<rect x="52.76" y="392.36" width="3.8" height="3.8" rx="1" fill="#D9899B" opacity="0.9"/>
<rect x="66.82" y="391.17" width="3.8" height="3.8" rx="1" fill="#D9899B" opacity="0.9"/>
<rect x="80.88" y="390.64" width="3.8" height="3.8" rx="1" fill="#D9899B" opacity="0.9"/>
<rect x="94.94" y="388.18" width="3.8" height="3.8" rx="1" fill="#D9899B" opacity="0.9"/>
<rect x="109" y="387.44" width="3.8" height="3.8" rx="1" fill="#D9899B" opacity="0.9"/>
<rect x="123.06" y="387.44" width="3.8" height="3.8" rx="1" fill="#D9899B" opacity="0.9"/>
<rect x="137.12" y="387.44" width="3.8" height="3.8" rx="1" fill="#D9899B" opacity="0.9"/>
<rect x="151.18" y="387.44" width="3.8" height="3.8" rx="1" fill="#D9899B" opacity="0.9"/>
<rect x="165.24" y="387.44" width="3.8" height="3.8" rx="1" fill="#D9899B" opacity="0.9"/>
<rect x="179.3" y="385.94" width="3.8" height="3.8" rx="1" fill="#D9899B" opacity="0.9"/>
<rect x="193.36" y="385.94" width="3.8" height="3.8" rx="1" fill="#D9899B" opacity="0.9"/>
<rect x="207.42" y="385.94" width="3.8" height="3.8" rx="1" fill="#D9899B" opacity="0.9"/>
<rect x="221.48" y="385.94" width="3.8" height="3.8" rx="1" fill="#D9899B" opacity="0.9"/>
<rect x="235.54" y="385.94" width="3.8" height="3.8" rx="1" fill="#D9899B" opacity="0.9"/>
<rect x="249.6" y="385.94" width="3.8" height="3.8" rx="1" fill="#D9899B" opacity="0.9"/>
<rect x="263.66" y="385.94" width="3.8" height="3.8" rx="1" fill="#D9899B" opacity="0.9"/>
<rect x="38.7" y="383.71" width="3.8" height="3.8" rx="1" fill="#4A188F" opacity="0.9"/>
<rect x="52.76" y="385.2" width="3.8" height="3.8" rx="1" fill="#4A188F" opacity="0.9"/>
<rect x="66.82" y="383.71" width="3.8" height="3.8" rx="1" fill="#4A188F" opacity="0.9"/>
<rect x="80.88" y="382.96" width="3.8" height="3.8" rx="1" fill="#4A188F" opacity="0.9"/>
<rect x="94.94" y="381.47" width="3.8" height="3.8" rx="1" fill="#4A188F" opacity="0.9"/>
<rect x="109" y="381.02" width="3.8" height="3.8" rx="1" fill="#4A188F" opacity="0.9"/>
<rect x="123.06" y="380.96" width="3.8" height="3.8" rx="1" fill="#4A188F" opacity="0.9"/>
<rect x="137.12" y="380.9" width="3.8" height="3.8" rx="1" fill="#4A188F" opacity="0.9"/>
<rect x="151.18" y="380.84" width="3.8" height="3.8" rx="1" fill="#4A188F" opacity="0.9"/>
<rect x="165.24" y="380.78" width="3.8" height="3.8" rx="1" fill="#4A188F" opacity="0.9"/>
<rect x="179.3" y="380.72" width="3.8" height="3.8" rx="1" fill="#4A188F" opacity="0.9"/>
<rect x="193.36" y="380.66" width="3.8" height="3.8" rx="1" fill="#4A188F" opacity="0.9"/>
<rect x="207.42" y="380.6" width="3.8" height="3.8" rx="1" fill="#4A188F" opacity="0.9"/>
<rect x="221.48" y="380.54" width="3.8" height="3.8" rx="1" fill="#4A188F" opacity="0.9"/>
<rect x="235.54" y="380.47" width="3.8" height="3.8" rx="1" fill="#4A188F" opacity="0.9"/>
<rect x="249.6" y="380.41" width="3.8" height="3.8" rx="1" fill="#4A188F" opacity="0.9"/>
<rect x="263.66" y="380.35" width="3.8" height="3.8" rx="1" fill="#4A188F" opacity="0.9"/>
<circle cx="40.6" cy="387.1" r="1.9" fill="#3260E4" opacity="0.92"/>
<circle cx="54.66" cy="385.61" r="1.9" fill="#3260E4" opacity="0.92"/>
<circle cx="68.72" cy="384.86" r="1.9" fill="#3260E4" opacity="0.92"/>
<circle cx="82.78" cy="383.37" r="1.9" fill="#3260E4" opacity="0.92"/>
<circle cx="96.84" cy="381.13" r="1.9" fill="#3260E4" opacity="0.92"/>
<circle cx="110.9" cy="380.38" r="1.9" fill="#3260E4" opacity="0.92"/>
<circle cx="124.96" cy="380.28" r="1.9" fill="#3260E4" opacity="0.92"/>
<circle cx="139.02" cy="380.18" r="1.9" fill="#3260E4" opacity="0.92"/>
<circle cx="153.08" cy="380.08" r="1.9" fill="#3260E4" opacity="0.92"/>
<circle cx="167.14" cy="379.98" r="1.9" fill="#3260E4" opacity="0.92"/>
<circle cx="181.2" cy="379.88" r="1.9" fill="#3260E4" opacity="0.92"/>
<circle cx="195.26" cy="379.77" r="1.9" fill="#3260E4" opacity="0.92"/>
<circle cx="209.32" cy="379.67" r="1.9" fill="#3260E4" opacity="0.92"/>
<circle cx="223.38" cy="379.57" r="1.9" fill="#3260E4" opacity="0.92"/>
<circle cx="237.44" cy="379.47" r="1.9" fill="#3260E4" opacity="0.92"/>
<circle cx="251.5" cy="379.37" r="1.9" fill="#3260E4" opacity="0.92"/>
<circle cx="265.56" cy="379.26" r="1.9" fill="#3260E4" opacity="0.92"/>
<circle cx="40.6" cy="393.07" r="1.9" fill="#F05838" opacity="0.92"/>
<circle cx="54.66" cy="388.59" r="1.9" fill="#F05838" opacity="0.92"/>
<circle cx="68.72" cy="384.86" r="1.9" fill="#F05838" opacity="0.92"/>
<circle cx="82.78" cy="384.86" r="1.9" fill="#F05838" opacity="0.92"/>
<circle cx="96.84" cy="382.62" r="1.9" fill="#F05838" opacity="0.92"/>
<circle cx="110.9" cy="381.5" r="1.9" fill="#F05838" opacity="0.92"/>
<circle cx="124.96" cy="381.35" r="1.9" fill="#F05838" opacity="0.92"/>
<circle cx="139.02" cy="381.2" r="1.9" fill="#F05838" opacity="0.92"/>
<circle cx="153.08" cy="381.06" r="1.9" fill="#F05838" opacity="0.92"/>
<circle cx="167.14" cy="380.91" r="1.9" fill="#F05838" opacity="0.92"/>
<circle cx="181.2" cy="380.76" r="1.9" fill="#F05838" opacity="0.92"/>
<circle cx="195.26" cy="380.69" r="1.9" fill="#F05838" opacity="0.92"/>
<circle cx="209.32" cy="380.63" r="1.9" fill="#F05838" opacity="0.92"/>
<circle cx="223.38" cy="380.57" r="1.9" fill="#F05838" opacity="0.92"/>
<circle cx="237.44" cy="380.51" r="1.9" fill="#F05838" opacity="0.92"/>
<circle cx="251.5" cy="380.45" r="1.9" fill="#F05838" opacity="0.92"/>
<circle cx="265.56" cy="380.38" r="1.9" fill="#F05838" opacity="0.92"/>
<circle cx="40.6" cy="391.57" r="1.9" fill="#BC2256" opacity="0.92"/>
<circle cx="54.66" cy="388.59" r="1.9" fill="#BC2256" opacity="0.92"/>
<circle cx="68.72" cy="384.86" r="1.9" fill="#BC2256" opacity="0.92"/>
<circle cx="82.78" cy="384.86" r="1.9" fill="#BC2256" opacity="0.92"/>
<circle cx="96.84" cy="383.37" r="1.9" fill="#BC2256" opacity="0.92"/>
<circle cx="110.9" cy="381.5" r="1.9" fill="#BC2256" opacity="0.92"/>
<circle cx="124.96" cy="381.44" r="1.9" fill="#BC2256" opacity="0.92"/>
<circle cx="139.02" cy="381.37" r="1.9" fill="#BC2256" opacity="0.92"/>
<circle cx="153.08" cy="381.3" r="1.9" fill="#BC2256" opacity="0.92"/>
<circle cx="167.14" cy="381.23" r="1.9" fill="#BC2256" opacity="0.92"/>
<circle cx="181.2" cy="381.16" r="1.9" fill="#BC2256" opacity="0.92"/>
<circle cx="195.26" cy="381.1" r="1.9" fill="#BC2256" opacity="0.92"/>
<circle cx="209.32" cy="381.03" r="1.9" fill="#BC2256" opacity="0.92"/>
<circle cx="223.38" cy="380.96" r="1.9" fill="#BC2256" opacity="0.92"/>
<circle cx="237.44" cy="380.89" r="1.9" fill="#BC2256" opacity="0.92"/>
<circle cx="251.5" cy="380.82" r="1.9" fill="#BC2256" opacity="0.92"/>
<circle cx="265.56" cy="380.76" r="1.9" fill="#BC2256" opacity="0.92"/>
<text x="56" y="375.6" font-size="7.2" font-weight="bold" text-anchor="start" fill="#111" font-family='"Liberation Sans", sans-serif' stroke="#222" stroke-width="0.2" textLength="9.6" lengthAdjust="spacingAndGlyphs">Up</text>
<path d="M301.4 375.5V416.6H544.2" fill="none" stroke="#4d4d4d" stroke-width="1.2"/>
<text x="298" y="417.05" font-size="6.7" font-weight="bold" text-anchor="end" fill="#222" font-family='"Liberation Sans", sans-serif' stroke="#222" stroke-width="0.2">0.5</text>
<text x="298" y="409.59" font-size="6.7" font-weight="bold" text-anchor="end" fill="#222" font-family='"Liberation Sans", sans-serif' stroke="#222" stroke-width="0.2">0.6</text>
<text x="298" y="402.13" font-size="6.7" font-weight="bold" text-anchor="end" fill="#222" font-family='"Liberation Sans", sans-serif' stroke="#222" stroke-width="0.2">0.7</text>
<text x="298" y="394.67" font-size="6.7" font-weight="bold" text-anchor="end" fill="#222" font-family='"Liberation Sans", sans-serif' stroke="#222" stroke-width="0.2">0.8</text>
<text x="298" y="387.21" font-size="6.7" font-weight="bold" text-anchor="end" fill="#222" font-family='"Liberation Sans", sans-serif' stroke="#222" stroke-width="0.2">0.9</text>
<text x="298" y="379.75" font-size="6.7" font-weight="bold" text-anchor="end" fill="#222" font-family='"Liberation Sans", sans-serif' stroke="#222" stroke-width="0.2">1.0</text>
<text x="310.5" y="425.5" font-size="6.8" font-weight="bold" text-anchor="middle" fill="#222" font-family='"Liberation Sans", sans-serif' stroke="#222" stroke-width="0.2">2</text>
<text x="324.56" y="425.5" font-size="6.8" font-weight="bold" text-anchor="middle" fill="#222" font-family='"Liberation Sans", sans-serif' stroke="#222" stroke-width="0.2">3</text>
<text x="338.62" y="425.5" font-size="6.8" font-weight="bold" text-anchor="middle" fill="#222" font-family='"Liberation Sans", sans-serif' stroke="#222" stroke-width="0.2">4</text>
<text x="352.68" y="425.5" font-size="6.8" font-weight="bold" text-anchor="middle" fill="#222" font-family='"Liberation Sans", sans-serif' stroke="#222" stroke-width="0.2">5</text>
<text x="366.74" y="425.5" font-size="6.8" font-weight="bold" text-anchor="middle" fill="#222" font-family='"Liberation Sans", sans-serif' stroke="#222" stroke-width="0.2">6</text>
<text x="380.8" y="425.5" font-size="6.8" font-weight="bold" text-anchor="middle" fill="#222" font-family='"Liberation Sans", sans-serif' stroke="#222" stroke-width="0.2">7</text>
<text x="394.86" y="425.5" font-size="6.8" font-weight="bold" text-anchor="middle" fill="#222" font-family='"Liberation Sans", sans-serif' stroke="#222" stroke-width="0.2">8</text>
<text x="408.92" y="425.5" font-size="6.8" font-weight="bold" text-anchor="middle" fill="#222" font-family='"Liberation Sans", sans-serif' stroke="#222" stroke-width="0.2">9</text>
<text x="422.98" y="425.5" font-size="6.8" font-weight="bold" text-anchor="middle" fill="#222" font-family='"Liberation Sans", sans-serif' stroke="#222" stroke-width="0.2">10</text>
<text x="437.04" y="425.5" font-size="6.8" font-weight="bold" text-anchor="middle" fill="#222" font-family='"Liberation Sans", sans-serif' stroke="#222" stroke-width="0.2">11</text>
<text x="451.1" y="425.5" font-size="6.8" font-weight="bold" text-anchor="middle" fill="#222" font-family='"Liberation Sans", sans-serif' stroke="#222" stroke-width="0.2">12</text>
<text x="465.16" y="425.5" font-size="6.8" font-weight="bold" text-anchor="middle" fill="#222" font-family='"Liberation Sans", sans-serif' stroke="#222" stroke-width="0.2">13</text>
<text x="479.22" y="425.5" font-size="6.8" font-weight="bold" text-anchor="middle" fill="#222" font-family='"Liberation Sans", sans-serif' stroke="#222" stroke-width="0.2">14</text>
<text x="493.28" y="425.5" font-size="6.8" font-weight="bold" text-anchor="middle" fill="#222" font-family='"Liberation Sans", sans-serif' stroke="#222" stroke-width="0.2">15</text>
<text x="507.34" y="425.5" font-size="6.8" font-weight="bold" text-anchor="middle" fill="#222" font-family='"Liberation Sans", sans-serif' stroke="#222" stroke-width="0.2">16</text>
<text x="521.4" y="425.5" font-size="6.8" font-weight="bold" text-anchor="middle" fill="#222" font-family='"Liberation Sans", sans-serif' stroke="#222" stroke-width="0.2">17</text>
<text x="535.46" y="425.5" font-size="6.8" font-weight="bold" text-anchor="middle" fill="#222" font-family='"Liberation Sans", sans-serif' stroke="#222" stroke-width="0.2">18</text>
<path d="M299.4 414.7H301.4M299.4 407.24H301.4M299.4 399.78H301.4M299.4 392.32H301.4M299.4 384.86H301.4M299.4 377.4H301.4M310.5 416.6V418.6M324.56 416.6V418.6M338.62 416.6V418.6M352.68 416.6V418.6M366.74 416.6V418.6M380.8 416.6V418.6M394.86 416.6V418.6M408.92 416.6V418.6M422.98 416.6V418.6M437.04 416.6V418.6M451.1 416.6V418.6M465.16 416.6V418.6M479.22 416.6V418.6M493.28 416.6V418.6M507.34 416.6V418.6M521.4 416.6V418.6M535.46 416.6V418.6" stroke="#4a4a4a" stroke-width="0.8"/>
<path d="M310.5 379.64V400.53M324.56 377.4V412.91M338.62 377.4V410.22M352.68 377.4V408.96M366.74 378.15V402.02M380.8 377.4V401.27M394.86 377.4V401.27M408.92 377.4V401.27M422.98 377.4V401.27M437.04 377.4V401.27M451.1 377.4V399.78M465.16 377.4V399.66M479.22 377.4V399.53M493.28 377.4V399.41M507.34 377.4V399.28M521.4 377.4V399.16M535.46 377.4V399.03" stroke="#D9899B" stroke-width="1.1" opacity="0.55"/>
<path d="M310.5 381.88V389.34M324.56 383.37V390.83M338.62 381.88V389.34M352.68 381.13V388.59M366.74 379.75V386.98M380.8 379.42V386.42M394.86 379.48V386.25M408.92 379.53V386.07M422.98 379.59V385.9M437.04 379.64V385.72M451.1 379.7V385.55M465.16 379.75V385.37M479.22 379.8V385.19M493.28 379.85V385.02M507.34 379.91V384.84M521.4 379.96V384.66M535.46 380.01V384.49" stroke="#4A188F" stroke-width="1.1" opacity="0.62"/>
<path d="M310.5 381.88V392.32M324.56 381.13V390.08M338.62 381.13V388.59M352.68 379.94V386.8M366.74 378V384.26M380.8 377.55V383.22M394.86 377.75V382.82M408.92 377.94V382.42M422.98 377.92V382.23M437.04 377.9V382.05M451.1 377.89V381.86M465.16 377.87V381.68M479.22 377.85V381.5M493.28 377.83V381.31M507.34 377.81V381.13M521.4 377.79V380.94M535.46 377.77V380.76" stroke="#3260E4" stroke-width="1.1" opacity="0.62"/>
<path d="M310.5 387.1V399.03M324.56 383.37V393.81M338.62 380.38V389.34M352.68 381.13V388.59M366.74 379.26V385.98M380.8 378.52V384.49M394.86 378.74V383.96M408.92 378.97V383.44M422.98 378.9V383.21M437.04 378.83V382.98M451.1 378.77V382.75M465.16 378.79V382.6M479.22 378.81V382.46M493.28 378.83V382.31M507.34 378.85V382.17M521.4 378.87V382.02M535.46 378.89V381.88" stroke="#F05838" stroke-width="1.1" opacity="0.55"/>
<path d="M310.5 382.62V400.53M324.56 383.37V393.81M338.62 380.38V389.34M352.68 381.13V388.59M366.74 380.01V386.72M380.8 378.52V384.49M394.86 378.82V384.05M408.92 379.13V383.61M422.98 379.14V383.45M437.04 379.16V383.3M451.1 379.17V383.15M465.16 379.19V383M479.22 379.2V382.85M493.28 379.22V382.7M507.34 379.23V382.55M521.4 379.25V382.4M535.46 379.26V382.25" stroke="#BC2256" stroke-width="1.1" opacity="0.6"/>
<polyline points="310.5,390.08 324.56,394.26 338.62,393.07 352.68,392.54 366.74,390.08 380.8,389.34 394.86,389.34 408.92,389.34 422.98,389.34 437.04,389.34 451.1,387.84 465.16,387.84 479.22,387.84 493.28,387.84 507.34,387.84 521.4,387.84 535.46,387.84" fill="none" stroke="#D9899B" stroke-width="1.1" opacity="0.95"/>
<polyline points="310.5,385.61 324.56,387.1 338.62,385.61 352.68,384.86 366.74,383.37 380.8,382.92 394.86,382.86 408.92,382.8 422.98,382.74 437.04,382.68 451.1,382.62 465.16,382.56 479.22,382.5 493.28,382.44 507.34,382.37 521.4,382.31 535.46,382.25" fill="none" stroke="#4A188F" stroke-width="1.3" opacity="0.95"/>
<polyline points="310.5,387.1 324.56,385.61 338.62,384.86 352.68,383.37 366.74,381.13 380.8,380.38 394.86,380.28 408.92,380.18 422.98,380.08 437.04,379.98 451.1,379.88 465.16,379.77 479.22,379.67 493.28,379.57 507.34,379.47 521.4,379.37 535.46,379.26" fill="none" stroke="#3260E4" stroke-width="1.1" stroke-dasharray="1.1 2.6" opacity="0.8"/>
<polyline points="310.5,393.07 324.56,388.59 338.62,384.86 352.68,384.86 366.74,382.62 380.8,381.5 394.86,381.35 408.92,381.2 422.98,381.06 437.04,380.91 451.1,380.76 465.16,380.69 479.22,380.63 493.28,380.57 507.34,380.51 521.4,380.45 535.46,380.38" fill="none" stroke="#F05838" stroke-width="1.1" stroke-dasharray="1.1 2.6" opacity="0.8"/>
<polyline points="310.5,391.57 324.56,388.59 338.62,384.86 352.68,384.86 366.74,383.37 380.8,381.5 394.86,381.44 408.92,381.37 422.98,381.3 437.04,381.23 451.1,381.16 465.16,381.1 479.22,381.03 493.28,380.96 507.34,380.89 521.4,380.82 535.46,380.76" fill="none" stroke="#BC2256" stroke-width="1.1" stroke-dasharray="1.1 2.6" opacity="0.8"/>
<rect x="308.6" y="388.18" width="3.8" height="3.8" rx="1" fill="#D9899B" opacity="0.9"/>
<rect x="322.66" y="392.36" width="3.8" height="3.8" rx="1" fill="#D9899B" opacity="0.9"/>
<rect x="336.72" y="391.17" width="3.8" height="3.8" rx="1" fill="#D9899B" opacity="0.9"/>
<rect x="350.78" y="390.64" width="3.8" height="3.8" rx="1" fill="#D9899B" opacity="0.9"/>
<rect x="364.84" y="388.18" width="3.8" height="3.8" rx="1" fill="#D9899B" opacity="0.9"/>
<rect x="378.9" y="387.44" width="3.8" height="3.8" rx="1" fill="#D9899B" opacity="0.9"/>
<rect x="392.96" y="387.44" width="3.8" height="3.8" rx="1" fill="#D9899B" opacity="0.9"/>
<rect x="407.02" y="387.44" width="3.8" height="3.8" rx="1" fill="#D9899B" opacity="0.9"/>
<rect x="421.08" y="387.44" width="3.8" height="3.8" rx="1" fill="#D9899B" opacity="0.9"/>
<rect x="435.14" y="387.44" width="3.8" height="3.8" rx="1" fill="#D9899B" opacity="0.9"/>
<rect x="449.2" y="385.94" width="3.8" height="3.8" rx="1" fill="#D9899B" opacity="0.9"/>
<rect x="463.26" y="385.94" width="3.8" height="3.8" rx="1" fill="#D9899B" opacity="0.9"/>
<rect x="477.32" y="385.94" width="3.8" height="3.8" rx="1" fill="#D9899B" opacity="0.9"/>
<rect x="491.38" y="385.94" width="3.8" height="3.8" rx="1" fill="#D9899B" opacity="0.9"/>
<rect x="505.44" y="385.94" width="3.8" height="3.8" rx="1" fill="#D9899B" opacity="0.9"/>
<rect x="519.5" y="385.94" width="3.8" height="3.8" rx="1" fill="#D9899B" opacity="0.9"/>
<rect x="533.56" y="385.94" width="3.8" height="3.8" rx="1" fill="#D9899B" opacity="0.9"/>
<rect x="308.6" y="383.71" width="3.8" height="3.8" rx="1" fill="#4A188F" opacity="0.9"/>
<rect x="322.66" y="385.2" width="3.8" height="3.8" rx="1" fill="#4A188F" opacity="0.9"/>
<rect x="336.72" y="383.71" width="3.8" height="3.8" rx="1" fill="#4A188F" opacity="0.9"/>
<rect x="350.78" y="382.96" width="3.8" height="3.8" rx="1" fill="#4A188F" opacity="0.9"/>
<rect x="364.84" y="381.47" width="3.8" height="3.8" rx="1" fill="#4A188F" opacity="0.9"/>
<rect x="378.9" y="381.02" width="3.8" height="3.8" rx="1" fill="#4A188F" opacity="0.9"/>
<rect x="392.96" y="380.96" width="3.8" height="3.8" rx="1" fill="#4A188F" opacity="0.9"/>
<rect x="407.02" y="380.9" width="3.8" height="3.8" rx="1" fill="#4A188F" opacity="0.9"/>
<rect x="421.08" y="380.84" width="3.8" height="3.8" rx="1" fill="#4A188F" opacity="0.9"/>
<rect x="435.14" y="380.78" width="3.8" height="3.8" rx="1" fill="#4A188F" opacity="0.9"/>
<rect x="449.2" y="380.72" width="3.8" height="3.8" rx="1" fill="#4A188F" opacity="0.9"/>
<rect x="463.26" y="380.66" width="3.8" height="3.8" rx="1" fill="#4A188F" opacity="0.9"/>
<rect x="477.32" y="380.6" width="3.8" height="3.8" rx="1" fill="#4A188F" opacity="0.9"/>
<rect x="491.38" y="380.54" width="3.8" height="3.8" rx="1" fill="#4A188F" opacity="0.9"/>
<rect x="505.44" y="380.47" width="3.8" height="3.8" rx="1" fill="#4A188F" opacity="0.9"/>
<rect x="519.5" y="380.41" width="3.8" height="3.8" rx="1" fill="#4A188F" opacity="0.9"/>
<rect x="533.56" y="380.35" width="3.8" height="3.8" rx="1" fill="#4A188F" opacity="0.9"/>
<circle cx="310.5" cy="387.1" r="1.9" fill="#3260E4" opacity="0.92"/>
<circle cx="324.56" cy="385.61" r="1.9" fill="#3260E4" opacity="0.92"/>
<circle cx="338.62" cy="384.86" r="1.9" fill="#3260E4" opacity="0.92"/>
<circle cx="352.68" cy="383.37" r="1.9" fill="#3260E4" opacity="0.92"/>
<circle cx="366.74" cy="381.13" r="1.9" fill="#3260E4" opacity="0.92"/>
<circle cx="380.8" cy="380.38" r="1.9" fill="#3260E4" opacity="0.92"/>
<circle cx="394.86" cy="380.28" r="1.9" fill="#3260E4" opacity="0.92"/>
<circle cx="408.92" cy="380.18" r="1.9" fill="#3260E4" opacity="0.92"/>
<circle cx="422.98" cy="380.08" r="1.9" fill="#3260E4" opacity="0.92"/>
<circle cx="437.04" cy="379.98" r="1.9" fill="#3260E4" opacity="0.92"/>
<circle cx="451.1" cy="379.88" r="1.9" fill="#3260E4" opacity="0.92"/>
<circle cx="465.16" cy="379.77" r="1.9" fill="#3260E4" opacity="0.92"/>
<circle cx="479.22" cy="379.67" r="1.9" fill="#3260E4" opacity="0.92"/>
<circle cx="493.28" cy="379.57" r="1.9" fill="#3260E4" opacity="0.92"/>
<circle cx="507.34" cy="379.47" r="1.9" fill="#3260E4" opacity="0.92"/>
<circle cx="521.4" cy="379.37" r="1.9" fill="#3260E4" opacity="0.92"/>
<circle cx="535.46" cy="379.26" r="1.9" fill="#3260E4" opacity="0.92"/>
<circle cx="310.5" cy="393.07" r="1.9" fill="#F05838" opacity="0.92"/>
<circle cx="324.56" cy="388.59" r="1.9" fill="#F05838" opacity="0.92"/>
<circle cx="338.62" cy="384.86" r="1.9" fill="#F05838" opacity="0.92"/>
<circle cx="352.68" cy="384.86" r="1.9" fill="#F05838" opacity="0.92"/>
<circle cx="366.74" cy="382.62" r="1.9" fill="#F05838" opacity="0.92"/>
<circle cx="380.8" cy="381.5" r="1.9" fill="#F05838" opacity="0.92"/>
<circle cx="394.86" cy="381.35" r="1.9" fill="#F05838" opacity="0.92"/>
<circle cx="408.92" cy="381.2" r="1.9" fill="#F05838" opacity="0.92"/>
<circle cx="422.98" cy="381.06" r="1.9" fill="#F05838" opacity="0.92"/>
<circle cx="437.04" cy="380.91" r="1.9" fill="#F05838" opacity="0.92"/>
<circle cx="451.1" cy="380.76" r="1.9" fill="#F05838" opacity="0.92"/>
<circle cx="465.16" cy="380.69" r="1.9" fill="#F05838" opacity="0.92"/>
<circle cx="479.22" cy="380.63" r="1.9" fill="#F05838" opacity="0.92"/>
<circle cx="493.28" cy="380.57" r="1.9" fill="#F05838" opacity="0.92"/>
<circle cx="507.34" cy="380.51" r="1.9" fill="#F05838" opacity="0.92"/>
<circle cx="521.4" cy="380.45" r="1.9" fill="#F05838" opacity="0.92"/>
<circle cx="535.46" cy="380.38" r="1.9" fill="#F05838" opacity="0.92"/>
<circle cx="310.5" cy="391.57" r="1.9" fill="#BC2256" opacity="0.92"/>
<circle cx="324.56" cy="388.59" r="1.9" fill="#BC2256" opacity="0.92"/>
<circle cx="338.62" cy="384.86" r="1.9" fill="#BC2256" opacity="0.92"/>
<circle cx="352.68" cy="384.86" r="1.9" fill="#BC2256" opacity="0.92"/>
<circle cx="366.74" cy="383.37" r="1.9" fill="#BC2256" opacity="0.92"/>
<circle cx="380.8" cy="381.5" r="1.9" fill="#BC2256" opacity="0.92"/>
<circle cx="394.86" cy="381.44" r="1.9" fill="#BC2256" opacity="0.92"/>
<circle cx="408.92" cy="381.37" r="1.9" fill="#BC2256" opacity="0.92"/>
<circle cx="422.98" cy="381.3" r="1.9" fill="#BC2256" opacity="0.92"/>
<circle cx="437.04" cy="381.23" r="1.9" fill="#BC2256" opacity="0.92"/>
<circle cx="451.1" cy="381.16" r="1.9" fill="#BC2256" opacity="0.92"/>
<circle cx="465.16" cy="381.1" r="1.9" fill="#BC2256" opacity="0.92"/>
<circle cx="479.22" cy="381.03" r="1.9" fill="#BC2256" opacity="0.92"/>
<circle cx="493.28" cy="380.96" r="1.9" fill="#BC2256" opacity="0.92"/>
<circle cx="507.34" cy="380.89" r="1.9" fill="#BC2256" opacity="0.92"/>
<circle cx="521.4" cy="380.82" r="1.9" fill="#BC2256" opacity="0.92"/>
<circle cx="535.46" cy="380.76" r="1.9" fill="#BC2256" opacity="0.92"/>
<text x="310.7" y="375.4" font-size="7.2" font-weight="bold" text-anchor="start" fill="#111" font-family='"Liberation Sans", sans-serif' stroke="#222" stroke-width="0.2" textLength="19.2" lengthAdjust="spacingAndGlyphs">Down</text>
<text x="13.5" y="437.5" font-size="10" font-weight="bold" text-anchor="start" fill="#111" font-family='"Liberation Sans", sans-serif' stroke="#111" stroke-width="0.18" textLength="64" lengthAdjust="spacingAndGlyphs">Hip abduction</text>
<text x="0" y="0" font-size="9" font-weight="bold" font-family='"Liberation Sans", sans-serif' fill="#111" text-anchor="middle" textLength="12.8" lengthAdjust="spacingAndGlyphs" stroke="#111" stroke-width="0.18" transform="translate(11.8 469) rotate(-90)">ICC</text>
<path d="M32.4 447V488.1H274.4" fill="none" stroke="#4d4d4d" stroke-width="1.2"/>
<text x="29" y="488.55" font-size="6.7" font-weight="bold" text-anchor="end" fill="#222" font-family='"Liberation Sans", sans-serif' stroke="#222" stroke-width="0.2">0.00</text>
<text x="29" y="479.23" font-size="6.7" font-weight="bold" text-anchor="end" fill="#222" font-family='"Liberation Sans", sans-serif' stroke="#222" stroke-width="0.2">0.25</text>
<text x="29" y="469.9" font-size="6.7" font-weight="bold" text-anchor="end" fill="#222" font-family='"Liberation Sans", sans-serif' stroke="#222" stroke-width="0.2">0.50</text>
<text x="29" y="460.57" font-size="6.7" font-weight="bold" text-anchor="end" fill="#222" font-family='"Liberation Sans", sans-serif' stroke="#222" stroke-width="0.2">0.75</text>
<text x="29" y="451.25" font-size="6.7" font-weight="bold" text-anchor="end" fill="#222" font-family='"Liberation Sans", sans-serif' stroke="#222" stroke-width="0.2">1.00</text>
<text x="40.6" y="497" font-size="6.8" font-weight="bold" text-anchor="middle" fill="#222" font-family='"Liberation Sans", sans-serif' stroke="#222" stroke-width="0.2">2</text>
<text x="54.66" y="497" font-size="6.8" font-weight="bold" text-anchor="middle" fill="#222" font-family='"Liberation Sans", sans-serif' stroke="#222" stroke-width="0.2">3</text>
<text x="68.72" y="497" font-size="6.8" font-weight="bold" text-anchor="middle" fill="#222" font-family='"Liberation Sans", sans-serif' stroke="#222" stroke-width="0.2">4</text>
<text x="82.78" y="497" font-size="6.8" font-weight="bold" text-anchor="middle" fill="#222" font-family='"Liberation Sans", sans-serif' stroke="#222" stroke-width="0.2">5</text>
<text x="96.84" y="497" font-size="6.8" font-weight="bold" text-anchor="middle" fill="#222" font-family='"Liberation Sans", sans-serif' stroke="#222" stroke-width="0.2">6</text>
<text x="110.9" y="497" font-size="6.8" font-weight="bold" text-anchor="middle" fill="#222" font-family='"Liberation Sans", sans-serif' stroke="#222" stroke-width="0.2">7</text>
<text x="124.96" y="497" font-size="6.8" font-weight="bold" text-anchor="middle" fill="#222" font-family='"Liberation Sans", sans-serif' stroke="#222" stroke-width="0.2">8</text>
<text x="139.02" y="497" font-size="6.8" font-weight="bold" text-anchor="middle" fill="#222" font-family='"Liberation Sans", sans-serif' stroke="#222" stroke-width="0.2">9</text>
<text x="153.08" y="497" font-size="6.8" font-weight="bold" text-anchor="middle" fill="#222" font-family='"Liberation Sans", sans-serif' stroke="#222" stroke-width="0.2">10</text>
<text x="167.14" y="497" font-size="6.8" font-weight="bold" text-anchor="middle" fill="#222" font-family='"Liberation Sans", sans-serif' stroke="#222" stroke-width="0.2">11</text>
<text x="181.2" y="497" font-size="6.8" font-weight="bold" text-anchor="middle" fill="#222" font-family='"Liberation Sans", sans-serif' stroke="#222" stroke-width="0.2">12</text>
<text x="195.26" y="497" font-size="6.8" font-weight="bold" text-anchor="middle" fill="#222" font-family='"Liberation Sans", sans-serif' stroke="#222" stroke-width="0.2">13</text>
<text x="209.32" y="497" font-size="6.8" font-weight="bold" text-anchor="middle" fill="#222" font-family='"Liberation Sans", sans-serif' stroke="#222" stroke-width="0.2">14</text>
<text x="223.38" y="497" font-size="6.8" font-weight="bold" text-anchor="middle" fill="#222" font-family='"Liberation Sans", sans-serif' stroke="#222" stroke-width="0.2">15</text>
<text x="237.44" y="497" font-size="6.8" font-weight="bold" text-anchor="middle" fill="#222" font-family='"Liberation Sans", sans-serif' stroke="#222" stroke-width="0.2">16</text>
<text x="251.5" y="497" font-size="6.8" font-weight="bold" text-anchor="middle" fill="#222" font-family='"Liberation Sans", sans-serif' stroke="#222" stroke-width="0.2">17</text>
<text x="265.56" y="497" font-size="6.8" font-weight="bold" text-anchor="middle" fill="#222" font-family='"Liberation Sans", sans-serif' stroke="#222" stroke-width="0.2">18</text>
<path d="M30.4 486.2H32.4M30.4 476.88H32.4M30.4 467.55H32.4M30.4 458.22H32.4M30.4 448.9H32.4M40.6 488.1V490.1M54.66 488.1V490.1M68.72 488.1V490.1M82.78 488.1V490.1M96.84 488.1V490.1M110.9 488.1V490.1M124.96 488.1V490.1M139.02 488.1V490.1M153.08 488.1V490.1M167.14 488.1V490.1M181.2 488.1V490.1M195.26 488.1V490.1M209.32 488.1V490.1M223.38 488.1V490.1M237.44 488.1V490.1M251.5 488.1V490.1M265.56 488.1V490.1" stroke="#4a4a4a" stroke-width="0.8"/>
<path d="M40.6 457.11V464.57M54.66 456.36V463.82M68.72 454.12V461.58M82.78 452.63V460.09M96.84 451.94V459.29M110.9 451.63V458.86M124.96 451.31V458.43M139.02 451.18V458.18M153.08 451.05V457.94M167.14 450.92V457.69M181.2 450.79V457.45M195.26 450.73V457.27M209.32 450.66V457.09M223.38 450.59V456.91M237.44 450.53V456.72M251.5 450.46V456.54M265.56 450.39V456.36" stroke="#D9899B" stroke-width="1.1" opacity="0.55"/>
<path d="M40.6 457.85V462.33M54.66 453.87V458.1M68.72 452.88V456.86M82.78 451.14V454.87M96.84 450.82V454.44M110.9 450.51V454.01M124.96 450.38V453.76M139.02 450.25V453.52M153.08 450.26V453.42M167.14 450.28V453.32M181.2 450.3V453.22M195.26 450.31V453.12M209.32 450.33V453.03M223.38 450.34V452.93M237.44 450.36V452.83M251.5 450.38V452.73M265.56 450.39V452.63" stroke="#4A188F" stroke-width="1.1" opacity="0.62"/>
<path d="M40.6 482.84V486.2M54.66 482.84V486.2M68.72 464.57V486.2M82.78 459.34V478.74M96.84 456.36V469.41M110.9 454.5V465.69M124.96 454.12V461.95M139.02 453.56V460.84M153.08 453V459.72M167.14 452.82V458.97M181.2 452.63V458.22M195.26 452.57V457.98M209.32 452.51V457.73M223.38 452.44V457.48M237.44 452.38V457.23M251.5 452.32V456.98M265.56 452.26V456.73" stroke="#3260E4" stroke-width="1.1" opacity="0.62"/>
<path d="M40.6 453.38V462.33M54.66 455.61V464.57M68.72 453V461.21M82.78 451.51V458.97M96.84 451.6V458.88M110.9 451.32V458.41M124.96 451.23V458.13M139.02 451.14V457.85M153.08 451.06V457.69M167.14 450.97V457.52M181.2 450.89V457.35M195.26 450.81V457.19M209.32 450.72V457.02M223.38 450.64V456.86M237.44 450.56V456.69M251.5 450.47V456.53M265.56 450.39V456.36" stroke="#F05838" stroke-width="1.1" opacity="0.55"/>
<path d="M40.6 453.38V486.2M54.66 453.38V486.2M68.72 452.63V474.26M82.78 453.75V463.82M96.84 453V459.72M110.9 452.63V458.97M124.96 452.78V458.75M139.02 452.59V458.49M153.08 452.41V458.22M167.14 452.22V457.96M181.2 452.03V457.7M195.26 451.95V457.54M209.32 451.86V457.38M223.38 451.77V457.22M237.44 451.69V457.06M251.5 451.6V456.89M265.56 451.51V456.73" stroke="#BC2256" stroke-width="1.1" opacity="0.6"/>
<polyline points="40.6,460.84 54.66,460.09 68.72,457.85 82.78,456.36 96.84,455.61 110.9,455.24 124.96,454.87 139.02,454.68 153.08,454.5 167.14,454.31 181.2,454.12 195.26,454 209.32,453.87 223.38,453.75 237.44,453.62 251.5,453.5 265.56,453.38" fill="none" stroke="#D9899B" stroke-width="1.1" opacity="0.95"/>
<polyline points="40.6,460.09 54.66,455.99 68.72,454.87 82.78,453 96.84,452.63 110.9,452.26 124.96,452.07 139.02,451.88 153.08,451.84 167.14,451.8 181.2,451.76 195.26,451.72 209.32,451.68 223.38,451.64 237.44,451.59 251.5,451.55 265.56,451.51" fill="none" stroke="#4A188F" stroke-width="1.3" opacity="0.95"/>
<polyline points="40.6,484.33 54.66,484.33 68.72,473.14 82.78,465.31 96.84,460.84 110.9,458.6 124.96,456.73 139.02,455.99 153.08,455.24 167.14,454.87 181.2,454.5 195.26,454.37 209.32,454.25 223.38,454.12 237.44,454 251.5,453.87 265.56,453.75" fill="none" stroke="#3260E4" stroke-width="1.1" stroke-dasharray="1.1 2.6" opacity="0.8"/>
<polyline points="40.6,457.85 54.66,460.09 68.72,457.11 82.78,455.24 96.84,455.24 110.9,454.87 124.96,454.68 139.02,454.5 153.08,454.37 167.14,454.25 181.2,454.12 195.26,454 209.32,453.87 223.38,453.75 237.44,453.62 251.5,453.5 265.56,453.38" fill="none" stroke="#F05838" stroke-width="1.1" stroke-dasharray="1.1 2.6" opacity="0.8"/>
<polyline points="40.6,477.99 54.66,466.8 68.72,463.07 82.78,458.22 96.84,455.99 110.9,455.24 124.96,455.02 139.02,454.79 153.08,454.57 167.14,454.35 181.2,454.12 195.26,454 209.32,453.87 223.38,453.75 237.44,453.62 251.5,453.5 265.56,453.38" fill="none" stroke="#BC2256" stroke-width="1.1" stroke-dasharray="1.1 2.6" opacity="0.8"/>
<rect x="38.7" y="458.94" width="3.8" height="3.8" rx="1" fill="#D9899B" opacity="0.9"/>
<rect x="52.76" y="458.19" width="3.8" height="3.8" rx="1" fill="#D9899B" opacity="0.9"/>
<rect x="66.82" y="455.95" width="3.8" height="3.8" rx="1" fill="#D9899B" opacity="0.9"/>
<rect x="80.88" y="454.46" width="3.8" height="3.8" rx="1" fill="#D9899B" opacity="0.9"/>
<rect x="94.94" y="453.71" width="3.8" height="3.8" rx="1" fill="#D9899B" opacity="0.9"/>
<rect x="109" y="453.34" width="3.8" height="3.8" rx="1" fill="#D9899B" opacity="0.9"/>
<rect x="123.06" y="452.97" width="3.8" height="3.8" rx="1" fill="#D9899B" opacity="0.9"/>
<rect x="137.12" y="452.78" width="3.8" height="3.8" rx="1" fill="#D9899B" opacity="0.9"/>
<rect x="151.18" y="452.6" width="3.8" height="3.8" rx="1" fill="#D9899B" opacity="0.9"/>
<rect x="165.24" y="452.41" width="3.8" height="3.8" rx="1" fill="#D9899B" opacity="0.9"/>
<rect x="179.3" y="452.22" width="3.8" height="3.8" rx="1" fill="#D9899B" opacity="0.9"/>
<rect x="193.36" y="452.1" width="3.8" height="3.8" rx="1" fill="#D9899B" opacity="0.9"/>
<rect x="207.42" y="451.97" width="3.8" height="3.8" rx="1" fill="#D9899B" opacity="0.9"/>
<rect x="221.48" y="451.85" width="3.8" height="3.8" rx="1" fill="#D9899B" opacity="0.9"/>
<rect x="235.54" y="451.72" width="3.8" height="3.8" rx="1" fill="#D9899B" opacity="0.9"/>
<rect x="249.6" y="451.6" width="3.8" height="3.8" rx="1" fill="#D9899B" opacity="0.9"/>
<rect x="263.66" y="451.48" width="3.8" height="3.8" rx="1" fill="#D9899B" opacity="0.9"/>
<rect x="38.7" y="458.19" width="3.8" height="3.8" rx="1" fill="#4A188F" opacity="0.9"/>
<rect x="52.76" y="454.09" width="3.8" height="3.8" rx="1" fill="#4A188F" opacity="0.9"/>
<rect x="66.82" y="452.97" width="3.8" height="3.8" rx="1" fill="#4A188F" opacity="0.9"/>
<rect x="80.88" y="451.1" width="3.8" height="3.8" rx="1" fill="#4A188F" opacity="0.9"/>
<rect x="94.94" y="450.73" width="3.8" height="3.8" rx="1" fill="#4A188F" opacity="0.9"/>
<rect x="109" y="450.36" width="3.8" height="3.8" rx="1" fill="#4A188F" opacity="0.9"/>
<rect x="123.06" y="450.17" width="3.8" height="3.8" rx="1" fill="#4A188F" opacity="0.9"/>
<rect x="137.12" y="449.98" width="3.8" height="3.8" rx="1" fill="#4A188F" opacity="0.9"/>
<rect x="151.18" y="449.94" width="3.8" height="3.8" rx="1" fill="#4A188F" opacity="0.9"/>
<rect x="165.24" y="449.9" width="3.8" height="3.8" rx="1" fill="#4A188F" opacity="0.9"/>
<rect x="179.3" y="449.86" width="3.8" height="3.8" rx="1" fill="#4A188F" opacity="0.9"/>
<rect x="193.36" y="449.82" width="3.8" height="3.8" rx="1" fill="#4A188F" opacity="0.9"/>
<rect x="207.42" y="449.78" width="3.8" height="3.8" rx="1" fill="#4A188F" opacity="0.9"/>
<rect x="221.48" y="449.74" width="3.8" height="3.8" rx="1" fill="#4A188F" opacity="0.9"/>
<rect x="235.54" y="449.69" width="3.8" height="3.8" rx="1" fill="#4A188F" opacity="0.9"/>
<rect x="249.6" y="449.65" width="3.8" height="3.8" rx="1" fill="#4A188F" opacity="0.9"/>
<rect x="263.66" y="449.61" width="3.8" height="3.8" rx="1" fill="#4A188F" opacity="0.9"/>
<circle cx="40.6" cy="484.33" r="1.9" fill="#3260E4" opacity="0.92"/>
<circle cx="54.66" cy="484.33" r="1.9" fill="#3260E4" opacity="0.92"/>
<circle cx="68.72" cy="473.14" r="1.9" fill="#3260E4" opacity="0.92"/>
<circle cx="82.78" cy="465.31" r="1.9" fill="#3260E4" opacity="0.92"/>
<circle cx="96.84" cy="460.84" r="1.9" fill="#3260E4" opacity="0.92"/>
<circle cx="110.9" cy="458.6" r="1.9" fill="#3260E4" opacity="0.92"/>
<circle cx="124.96" cy="456.73" r="1.9" fill="#3260E4" opacity="0.92"/>
<circle cx="139.02" cy="455.99" r="1.9" fill="#3260E4" opacity="0.92"/>
<circle cx="153.08" cy="455.24" r="1.9" fill="#3260E4" opacity="0.92"/>
<circle cx="167.14" cy="454.87" r="1.9" fill="#3260E4" opacity="0.92"/>
<circle cx="181.2" cy="454.5" r="1.9" fill="#3260E4" opacity="0.92"/>
<circle cx="195.26" cy="454.37" r="1.9" fill="#3260E4" opacity="0.92"/>
<circle cx="209.32" cy="454.25" r="1.9" fill="#3260E4" opacity="0.92"/>
<circle cx="223.38" cy="454.12" r="1.9" fill="#3260E4" opacity="0.92"/>
<circle cx="237.44" cy="454" r="1.9" fill="#3260E4" opacity="0.92"/>
<circle cx="251.5" cy="453.87" r="1.9" fill="#3260E4" opacity="0.92"/>
<circle cx="265.56" cy="453.75" r="1.9" fill="#3260E4" opacity="0.92"/>
<circle cx="40.6" cy="457.85" r="1.9" fill="#F05838" opacity="0.92"/>
<circle cx="54.66" cy="460.09" r="1.9" fill="#F05838" opacity="0.92"/>
<circle cx="68.72" cy="457.11" r="1.9" fill="#F05838" opacity="0.92"/>
<circle cx="82.78" cy="455.24" r="1.9" fill="#F05838" opacity="0.92"/>
<circle cx="96.84" cy="455.24" r="1.9" fill="#F05838" opacity="0.92"/>
<circle cx="110.9" cy="454.87" r="1.9" fill="#F05838" opacity="0.92"/>
<circle cx="124.96" cy="454.68" r="1.9" fill="#F05838" opacity="0.92"/>
<circle cx="139.02" cy="454.5" r="1.9" fill="#F05838" opacity="0.92"/>
<circle cx="153.08" cy="454.37" r="1.9" fill="#F05838" opacity="0.92"/>
<circle cx="167.14" cy="454.25" r="1.9" fill="#F05838" opacity="0.92"/>
<circle cx="181.2" cy="454.12" r="1.9" fill="#F05838" opacity="0.92"/>
<circle cx="195.26" cy="454" r="1.9" fill="#F05838" opacity="0.92"/>
<circle cx="209.32" cy="453.87" r="1.9" fill="#F05838" opacity="0.92"/>
<circle cx="223.38" cy="453.75" r="1.9" fill="#F05838" opacity="0.92"/>
<circle cx="237.44" cy="453.62" r="1.9" fill="#F05838" opacity="0.92"/>
<circle cx="251.5" cy="453.5" r="1.9" fill="#F05838" opacity="0.92"/>
<circle cx="265.56" cy="453.38" r="1.9" fill="#F05838" opacity="0.92"/>
<circle cx="40.6" cy="477.99" r="1.9" fill="#BC2256" opacity="0.92"/>
<circle cx="54.66" cy="466.8" r="1.9" fill="#BC2256" opacity="0.92"/>
<circle cx="68.72" cy="463.07" r="1.9" fill="#BC2256" opacity="0.92"/>
<circle cx="82.78" cy="458.22" r="1.9" fill="#BC2256" opacity="0.92"/>
<circle cx="96.84" cy="455.99" r="1.9" fill="#BC2256" opacity="0.92"/>
<circle cx="110.9" cy="455.24" r="1.9" fill="#BC2256" opacity="0.92"/>
<circle cx="124.96" cy="455.02" r="1.9" fill="#BC2256" opacity="0.92"/>
<circle cx="139.02" cy="454.79" r="1.9" fill="#BC2256" opacity="0.92"/>
<circle cx="153.08" cy="454.57" r="1.9" fill="#BC2256" opacity="0.92"/>
<circle cx="167.14" cy="454.35" r="1.9" fill="#BC2256" opacity="0.92"/>
<circle cx="181.2" cy="454.12" r="1.9" fill="#BC2256" opacity="0.92"/>
<circle cx="195.26" cy="454" r="1.9" fill="#BC2256" opacity="0.92"/>
<circle cx="209.32" cy="453.87" r="1.9" fill="#BC2256" opacity="0.92"/>
<circle cx="223.38" cy="453.75" r="1.9" fill="#BC2256" opacity="0.92"/>
<circle cx="237.44" cy="453.62" r="1.9" fill="#BC2256" opacity="0.92"/>
<circle cx="251.5" cy="453.5" r="1.9" fill="#BC2256" opacity="0.92"/>
<circle cx="265.56" cy="453.38" r="1.9" fill="#BC2256" opacity="0.92"/>
<text x="56" y="446.6" font-size="7.2" font-weight="bold" text-anchor="start" fill="#111" font-family='"Liberation Sans", sans-serif' stroke="#222" stroke-width="0.2" textLength="9.6" lengthAdjust="spacingAndGlyphs">Up</text>
<path d="M301.4 447V488.1H544.2" fill="none" stroke="#4d4d4d" stroke-width="1.2"/>
<text x="298" y="488.55" font-size="6.7" font-weight="bold" text-anchor="end" fill="#222" font-family='"Liberation Sans", sans-serif' stroke="#222" stroke-width="0.2">0.00</text>
<text x="298" y="479.23" font-size="6.7" font-weight="bold" text-anchor="end" fill="#222" font-family='"Liberation Sans", sans-serif' stroke="#222" stroke-width="0.2">0.25</text>
<text x="298" y="469.9" font-size="6.7" font-weight="bold" text-anchor="end" fill="#222" font-family='"Liberation Sans", sans-serif' stroke="#222" stroke-width="0.2">0.50</text>
<text x="298" y="460.57" font-size="6.7" font-weight="bold" text-anchor="end" fill="#222" font-family='"Liberation Sans", sans-serif' stroke="#222" stroke-width="0.2">0.75</text>
<text x="298" y="451.25" font-size="6.7" font-weight="bold" text-anchor="end" fill="#222" font-family='"Liberation Sans", sans-serif' stroke="#222" stroke-width="0.2">1.00</text>
<text x="310.5" y="497" font-size="6.8" font-weight="bold" text-anchor="middle" fill="#222" font-family='"Liberation Sans", sans-serif' stroke="#222" stroke-width="0.2">2</text>
<text x="324.56" y="497" font-size="6.8" font-weight="bold" text-anchor="middle" fill="#222" font-family='"Liberation Sans", sans-serif' stroke="#222" stroke-width="0.2">3</text>
<text x="338.62" y="497" font-size="6.8" font-weight="bold" text-anchor="middle" fill="#222" font-family='"Liberation Sans", sans-serif' stroke="#222" stroke-width="0.2">4</text>
<text x="352.68" y="497" font-size="6.8" font-weight="bold" text-anchor="middle" fill="#222" font-family='"Liberation Sans", sans-serif' stroke="#222" stroke-width="0.2">5</text>
<text x="366.74" y="497" font-size="6.8" font-weight="bold" text-anchor="middle" fill="#222" font-family='"Liberation Sans", sans-serif' stroke="#222" stroke-width="0.2">6</text>
<text x="380.8" y="497" font-size="6.8" font-weight="bold" text-anchor="middle" fill="#222" font-family='"Liberation Sans", sans-serif' stroke="#222" stroke-width="0.2">7</text>
<text x="394.86" y="497" font-size="6.8" font-weight="bold" text-anchor="middle" fill="#222" font-family='"Liberation Sans", sans-serif' stroke="#222" stroke-width="0.2">8</text>
<text x="408.92" y="497" font-size="6.8" font-weight="bold" text-anchor="middle" fill="#222" font-family='"Liberation Sans", sans-serif' stroke="#222" stroke-width="0.2">9</text>
<text x="422.98" y="497" font-size="6.8" font-weight="bold" text-anchor="middle" fill="#222" font-family='"Liberation Sans", sans-serif' stroke="#222" stroke-width="0.2">10</text>
<text x="437.04" y="497" font-size="6.8" font-weight="bold" text-anchor="middle" fill="#222" font-family='"Liberation Sans", sans-serif' stroke="#222" stroke-width="0.2">11</text>
<text x="451.1" y="497" font-size="6.8" font-weight="bold" text-anchor="middle" fill="#222" font-family='"Liberation Sans", sans-serif' stroke="#222" stroke-width="0.2">12</text>
<text x="465.16" y="497" font-size="6.8" font-weight="bold" text-anchor="middle" fill="#222" font-family='"Liberation Sans", sans-serif' stroke="#222" stroke-width="0.2">13</text>
<text x="479.22" y="497" font-size="6.8" font-weight="bold" text-anchor="middle" fill="#222" font-family='"Liberation Sans", sans-serif' stroke="#222" stroke-width="0.2">14</text>
<text x="493.28" y="497" font-size="6.8" font-weight="bold" text-anchor="middle" fill="#222" font-family='"Liberation Sans", sans-serif' stroke="#222" stroke-width="0.2">15</text>
<text x="507.34" y="497" font-size="6.8" font-weight="bold" text-anchor="middle" fill="#222" font-family='"Liberation Sans", sans-serif' stroke="#222" stroke-width="0.2">16</text>
<text x="521.4" y="497" font-size="6.8" font-weight="bold" text-anchor="middle" fill="#222" font-family='"Liberation Sans", sans-serif' stroke="#222" stroke-width="0.2">17</text>
<text x="535.46" y="497" font-size="6.8" font-weight="bold" text-anchor="middle" fill="#222" font-family='"Liberation Sans", sans-serif' stroke="#222" stroke-width="0.2">18</text>
<path d="M299.4 486.2H301.4M299.4 476.88H301.4M299.4 467.55H301.4M299.4 458.22H301.4M299.4 448.9H301.4M310.5 488.1V490.1M324.56 488.1V490.1M338.62 488.1V490.1M352.68 488.1V490.1M366.74 488.1V490.1M380.8 488.1V490.1M394.86 488.1V490.1M408.92 488.1V490.1M422.98 488.1V490.1M437.04 488.1V490.1M451.1 488.1V490.1M465.16 488.1V490.1M479.22 488.1V490.1M493.28 488.1V490.1M507.34 488.1V490.1M521.4 488.1V490.1M535.46 488.1V490.1" stroke="#4a4a4a" stroke-width="0.8"/>
<path d="M310.5 457.11V464.57M324.56 456.36V463.82M338.62 454.12V461.58M352.68 452.63V460.09M366.74 451.94V459.29M380.8 451.63V458.86M394.86 451.31V458.43M408.92 451.18V458.18M422.98 451.05V457.94M437.04 450.92V457.69M451.1 450.79V457.45M465.16 450.73V457.27M479.22 450.66V457.09M493.28 450.59V456.91M507.34 450.53V456.72M521.4 450.46V456.54M535.46 450.39V456.36" stroke="#D9899B" stroke-width="1.1" opacity="0.55"/>
<path d="M310.5 457.85V462.33M324.56 453.87V458.1M338.62 452.88V456.86M352.68 451.14V454.87M366.74 450.82V454.44M380.8 450.51V454.01M394.86 450.38V453.76M408.92 450.25V453.52M422.98 450.26V453.42M437.04 450.28V453.32M451.1 450.3V453.22M465.16 450.31V453.12M479.22 450.33V453.03M493.28 450.34V452.93M507.34 450.36V452.83M521.4 450.38V452.73M535.46 450.39V452.63" stroke="#4A188F" stroke-width="1.1" opacity="0.62"/>
<path d="M310.5 482.84V486.2M324.56 482.84V486.2M338.62 464.57V486.2M352.68 459.34V478.74M366.74 456.36V469.41M380.8 454.5V465.69M394.86 454.12V461.95M408.92 453.56V460.84M422.98 453V459.72M437.04 452.82V458.97M451.1 452.63V458.22M465.16 452.57V457.98M479.22 452.51V457.73M493.28 452.44V457.48M507.34 452.38V457.23M521.4 452.32V456.98M535.46 452.26V456.73" stroke="#3260E4" stroke-width="1.1" opacity="0.62"/>
<path d="M310.5 453.38V462.33M324.56 455.61V464.57M338.62 453V461.21M352.68 451.51V458.97M366.74 451.6V458.88M380.8 451.32V458.41M394.86 451.23V458.13M408.92 451.14V457.85M422.98 451.06V457.69M437.04 450.97V457.52M451.1 450.89V457.35M465.16 450.81V457.19M479.22 450.72V457.02M493.28 450.64V456.86M507.34 450.56V456.69M521.4 450.47V456.53M535.46 450.39V456.36" stroke="#F05838" stroke-width="1.1" opacity="0.55"/>
<path d="M310.5 453.38V486.2M324.56 453.38V486.2M338.62 452.63V474.26M352.68 453.75V463.82M366.74 453V459.72M380.8 452.63V458.97M394.86 452.78V458.75M408.92 452.59V458.49M422.98 452.41V458.22M437.04 452.22V457.96M451.1 452.03V457.7M465.16 451.95V457.54M479.22 451.86V457.38M493.28 451.77V457.22M507.34 451.69V457.06M521.4 451.6V456.89M535.46 451.51V456.73" stroke="#BC2256" stroke-width="1.1" opacity="0.6"/>
<polyline points="310.5,460.84 324.56,460.09 338.62,457.85 352.68,456.36 366.74,455.61 380.8,455.24 394.86,454.87 408.92,454.68 422.98,454.5 437.04,454.31 451.1,454.12 465.16,454 479.22,453.87 493.28,453.75 507.34,453.62 521.4,453.5 535.46,453.38" fill="none" stroke="#D9899B" stroke-width="1.1" opacity="0.95"/>
<polyline points="310.5,460.09 324.56,455.99 338.62,454.87 352.68,453 366.74,452.63 380.8,452.26 394.86,452.07 408.92,451.88 422.98,451.84 437.04,451.8 451.1,451.76 465.16,451.72 479.22,451.68 493.28,451.64 507.34,451.59 521.4,451.55 535.46,451.51" fill="none" stroke="#4A188F" stroke-width="1.3" opacity="0.95"/>
<polyline points="310.5,484.33 324.56,484.33 338.62,473.14 352.68,465.31 366.74,460.84 380.8,458.6 394.86,456.73 408.92,455.99 422.98,455.24 437.04,454.87 451.1,454.5 465.16,454.37 479.22,454.25 493.28,454.12 507.34,454 521.4,453.87 535.46,453.75" fill="none" stroke="#3260E4" stroke-width="1.1" stroke-dasharray="1.1 2.6" opacity="0.8"/>
<polyline points="310.5,457.85 324.56,460.09 338.62,457.11 352.68,455.24 366.74,455.24 380.8,454.87 394.86,454.68 408.92,454.5 422.98,454.37 437.04,454.25 451.1,454.12 465.16,454 479.22,453.87 493.28,453.75 507.34,453.62 521.4,453.5 535.46,453.38" fill="none" stroke="#F05838" stroke-width="1.1" stroke-dasharray="1.1 2.6" opacity="0.8"/>
<polyline points="310.5,477.99 324.56,466.8 338.62,463.07 352.68,458.22 366.74,455.99 380.8,455.24 394.86,455.02 408.92,454.79 422.98,454.57 437.04,454.35 451.1,454.12 465.16,454 479.22,453.87 493.28,453.75 507.34,453.62 521.4,453.5 535.46,453.38" fill="none" stroke="#BC2256" stroke-width="1.1" stroke-dasharray="1.1 2.6" opacity="0.8"/>
<rect x="308.6" y="458.94" width="3.8" height="3.8" rx="1" fill="#D9899B" opacity="0.9"/>
<rect x="322.66" y="458.19" width="3.8" height="3.8" rx="1" fill="#D9899B" opacity="0.9"/>
<rect x="336.72" y="455.95" width="3.8" height="3.8" rx="1" fill="#D9899B" opacity="0.9"/>
<rect x="350.78" y="454.46" width="3.8" height="3.8" rx="1" fill="#D9899B" opacity="0.9"/>
<rect x="364.84" y="453.71" width="3.8" height="3.8" rx="1" fill="#D9899B" opacity="0.9"/>
<rect x="378.9" y="453.34" width="3.8" height="3.8" rx="1" fill="#D9899B" opacity="0.9"/>
<rect x="392.96" y="452.97" width="3.8" height="3.8" rx="1" fill="#D9899B" opacity="0.9"/>
<rect x="407.02" y="452.78" width="3.8" height="3.8" rx="1" fill="#D9899B" opacity="0.9"/>
<rect x="421.08" y="452.6" width="3.8" height="3.8" rx="1" fill="#D9899B" opacity="0.9"/>
<rect x="435.14" y="452.41" width="3.8" height="3.8" rx="1" fill="#D9899B" opacity="0.9"/>
<rect x="449.2" y="452.22" width="3.8" height="3.8" rx="1" fill="#D9899B" opacity="0.9"/>
<rect x="463.26" y="452.1" width="3.8" height="3.8" rx="1" fill="#D9899B" opacity="0.9"/>
<rect x="477.32" y="451.97" width="3.8" height="3.8" rx="1" fill="#D9899B" opacity="0.9"/>
<rect x="491.38" y="451.85" width="3.8" height="3.8" rx="1" fill="#D9899B" opacity="0.9"/>
<rect x="505.44" y="451.72" width="3.8" height="3.8" rx="1" fill="#D9899B" opacity="0.9"/>
<rect x="519.5" y="451.6" width="3.8" height="3.8" rx="1" fill="#D9899B" opacity="0.9"/>
<rect x="533.56" y="451.48" width="3.8" height="3.8" rx="1" fill="#D9899B" opacity="0.9"/>
<rect x="308.6" y="458.19" width="3.8" height="3.8" rx="1" fill="#4A188F" opacity="0.9"/>
<rect x="322.66" y="454.09" width="3.8" height="3.8" rx="1" fill="#4A188F" opacity="0.9"/>
<rect x="336.72" y="452.97" width="3.8" height="3.8" rx="1" fill="#4A188F" opacity="0.9"/>
<rect x="350.78" y="451.1" width="3.8" height="3.8" rx="1" fill="#4A188F" opacity="0.9"/>
<rect x="364.84" y="450.73" width="3.8" height="3.8" rx="1" fill="#4A188F" opacity="0.9"/>
<rect x="378.9" y="450.36" width="3.8" height="3.8" rx="1" fill="#4A188F" opacity="0.9"/>
<rect x="392.96" y="450.17" width="3.8" height="3.8" rx="1" fill="#4A188F" opacity="0.9"/>
<rect x="407.02" y="449.98" width="3.8" height="3.8" rx="1" fill="#4A188F" opacity="0.9"/>
<rect x="421.08" y="449.94" width="3.8" height="3.8" rx="1" fill="#4A188F" opacity="0.9"/>
<rect x="435.14" y="449.9" width="3.8" height="3.8" rx="1" fill="#4A188F" opacity="0.9"/>
<rect x="449.2" y="449.86" width="3.8" height="3.8" rx="1" fill="#4A188F" opacity="0.9"/>
<rect x="463.26" y="449.82" width="3.8" height="3.8" rx="1" fill="#4A188F" opacity="0.9"/>
<rect x="477.32" y="449.78" width="3.8" height="3.8" rx="1" fill="#4A188F" opacity="0.9"/>
<rect x="491.38" y="449.74" width="3.8" height="3.8" rx="1" fill="#4A188F" opacity="0.9"/>
<rect x="505.44" y="449.69" width="3.8" height="3.8" rx="1" fill="#4A188F" opacity="0.9"/>
<rect x="519.5" y="449.65" width="3.8" height="3.8" rx="1" fill="#4A188F" opacity="0.9"/>
<rect x="533.56" y="449.61" width="3.8" height="3.8" rx="1" fill="#4A188F" opacity="0.9"/>
<circle cx="310.5" cy="484.33" r="1.9" fill="#3260E4" opacity="0.92"/>
<circle cx="324.56" cy="484.33" r="1.9" fill="#3260E4" opacity="0.92"/>
<circle cx="338.62" cy="473.14" r="1.9" fill="#3260E4" opacity="0.92"/>
<circle cx="352.68" cy="465.31" r="1.9" fill="#3260E4" opacity="0.92"/>
<circle cx="366.74" cy="460.84" r="1.9" fill="#3260E4" opacity="0.92"/>
<circle cx="380.8" cy="458.6" r="1.9" fill="#3260E4" opacity="0.92"/>
<circle cx="394.86" cy="456.73" r="1.9" fill="#3260E4" opacity="0.92"/>
<circle cx="408.92" cy="455.99" r="1.9" fill="#3260E4" opacity="0.92"/>
<circle cx="422.98" cy="455.24" r="1.9" fill="#3260E4" opacity="0.92"/>
<circle cx="437.04" cy="454.87" r="1.9" fill="#3260E4" opacity="0.92"/>
<circle cx="451.1" cy="454.5" r="1.9" fill="#3260E4" opacity="0.92"/>
<circle cx="465.16" cy="454.37" r="1.9" fill="#3260E4" opacity="0.92"/>
<circle cx="479.22" cy="454.25" r="1.9" fill="#3260E4" opacity="0.92"/>
<circle cx="493.28" cy="454.12" r="1.9" fill="#3260E4" opacity="0.92"/>
<circle cx="507.34" cy="454" r="1.9" fill="#3260E4" opacity="0.92"/>
<circle cx="521.4" cy="453.87" r="1.9" fill="#3260E4" opacity="0.92"/>
<circle cx="535.46" cy="453.75" r="1.9" fill="#3260E4" opacity="0.92"/>
<circle cx="310.5" cy="457.85" r="1.9" fill="#F05838" opacity="0.92"/>
<circle cx="324.56" cy="460.09" r="1.9" fill="#F05838" opacity="0.92"/>
<circle cx="338.62" cy="457.11" r="1.9" fill="#F05838" opacity="0.92"/>
<circle cx="352.68" cy="455.24" r="1.9" fill="#F05838" opacity="0.92"/>
<circle cx="366.74" cy="455.24" r="1.9" fill="#F05838" opacity="0.92"/>
<circle cx="380.8" cy="454.87" r="1.9" fill="#F05838" opacity="0.92"/>
<circle cx="394.86" cy="454.68" r="1.9" fill="#F05838" opacity="0.92"/>
<circle cx="408.92" cy="454.5" r="1.9" fill="#F05838" opacity="0.92"/>
<circle cx="422.98" cy="454.37" r="1.9" fill="#F05838" opacity="0.92"/>
<circle cx="437.04" cy="454.25" r="1.9" fill="#F05838" opacity="0.92"/>
<circle cx="451.1" cy="454.12" r="1.9" fill="#F05838" opacity="0.92"/>
<circle cx="465.16" cy="454" r="1.9" fill="#F05838" opacity="0.92"/>
<circle cx="479.22" cy="453.87" r="1.9" fill="#F05838" opacity="0.92"/>
<circle cx="493.28" cy="453.75" r="1.9" fill="#F05838" opacity="0.92"/>
<circle cx="507.34" cy="453.62" r="1.9" fill="#F05838" opacity="0.92"/>
<circle cx="521.4" cy="453.5" r="1.9" fill="#F05838" opacity="0.92"/>
<circle cx="535.46" cy="453.38" r="1.9" fill="#F05838" opacity="0.92"/>
<circle cx="310.5" cy="477.99" r="1.9" fill="#BC2256" opacity="0.92"/>
<circle cx="324.56" cy="466.8" r="1.9" fill="#BC2256" opacity="0.92"/>
<circle cx="338.62" cy="463.07" r="1.9" fill="#BC2256" opacity="0.92"/>
<circle cx="352.68" cy="458.22" r="1.9" fill="#BC2256" opacity="0.92"/>
<circle cx="366.74" cy="455.99" r="1.9" fill="#BC2256" opacity="0.92"/>
<circle cx="380.8" cy="455.24" r="1.9" fill="#BC2256" opacity="0.92"/>
<circle cx="394.86" cy="455.02" r="1.9" fill="#BC2256" opacity="0.92"/>
<circle cx="408.92" cy="454.79" r="1.9" fill="#BC2256" opacity="0.92"/>
<circle cx="422.98" cy="454.57" r="1.9" fill="#BC2256" opacity="0.92"/>
<circle cx="437.04" cy="454.35" r="1.9" fill="#BC2256" opacity="0.92"/>
<circle cx="451.1" cy="454.12" r="1.9" fill="#BC2256" opacity="0.92"/>
<circle cx="465.16" cy="454" r="1.9" fill="#BC2256" opacity="0.92"/>
<circle cx="479.22" cy="453.87" r="1.9" fill="#BC2256" opacity="0.92"/>
<circle cx="493.28" cy="453.75" r="1.9" fill="#BC2256" opacity="0.92"/>
<circle cx="507.34" cy="453.62" r="1.9" fill="#BC2256" opacity="0.92"/>
<circle cx="521.4" cy="453.5" r="1.9" fill="#BC2256" opacity="0.92"/>
<circle cx="535.46" cy="453.38" r="1.9" fill="#BC2256" opacity="0.92"/>
<text x="310.7" y="446.4" font-size="7.2" font-weight="bold" text-anchor="start" fill="#111" font-family='"Liberation Sans", sans-serif' stroke="#222" stroke-width="0.2" textLength="19.2" lengthAdjust="spacingAndGlyphs">Down</text>
<text x="13.5" y="508.5" font-size="10" font-weight="bold" text-anchor="start" fill="#111" font-family='"Liberation Sans", sans-serif' stroke="#111" stroke-width="0.18" textLength="69" lengthAdjust="spacingAndGlyphs">Back extension</text>
<text x="0" y="0" font-size="9" font-weight="bold" font-family='"Liberation Sans", sans-serif' fill="#111" text-anchor="middle" textLength="12.8" lengthAdjust="spacingAndGlyphs" stroke="#111" stroke-width="0.18" transform="translate(10.7 535.9) rotate(-90)">ICC</text>
<path d="M32.4 518.5V559.6H274.4" fill="none" stroke="#4d4d4d" stroke-width="1.2"/>
<text x="29" y="560.05" font-size="6.7" font-weight="bold" text-anchor="end" fill="#222" font-family='"Liberation Sans", sans-serif' stroke="#222" stroke-width="0.2">0.00</text>
<text x="29" y="550.72" font-size="6.7" font-weight="bold" text-anchor="end" fill="#222" font-family='"Liberation Sans", sans-serif' stroke="#222" stroke-width="0.2">0.25</text>
<text x="29" y="541.4" font-size="6.7" font-weight="bold" text-anchor="end" fill="#222" font-family='"Liberation Sans", sans-serif' stroke="#222" stroke-width="0.2">0.50</text>
<text x="29" y="532.07" font-size="6.7" font-weight="bold" text-anchor="end" fill="#222" font-family='"Liberation Sans", sans-serif' stroke="#222" stroke-width="0.2">0.75</text>
<text x="29" y="522.75" font-size="6.7" font-weight="bold" text-anchor="end" fill="#222" font-family='"Liberation Sans", sans-serif' stroke="#222" stroke-width="0.2">1.00</text>
<text x="40.6" y="568.5" font-size="6.8" font-weight="bold" text-anchor="middle" fill="#222" font-family='"Liberation Sans", sans-serif' stroke="#222" stroke-width="0.2">2</text>
<text x="54.66" y="568.5" font-size="6.8" font-weight="bold" text-anchor="middle" fill="#222" font-family='"Liberation Sans", sans-serif' stroke="#222" stroke-width="0.2">3</text>
<text x="68.72" y="568.5" font-size="6.8" font-weight="bold" text-anchor="middle" fill="#222" font-family='"Liberation Sans", sans-serif' stroke="#222" stroke-width="0.2">4</text>
<text x="82.78" y="568.5" font-size="6.8" font-weight="bold" text-anchor="middle" fill="#222" font-family='"Liberation Sans", sans-serif' stroke="#222" stroke-width="0.2">5</text>
<text x="96.84" y="568.5" font-size="6.8" font-weight="bold" text-anchor="middle" fill="#222" font-family='"Liberation Sans", sans-serif' stroke="#222" stroke-width="0.2">6</text>
<text x="110.9" y="568.5" font-size="6.8" font-weight="bold" text-anchor="middle" fill="#222" font-family='"Liberation Sans", sans-serif' stroke="#222" stroke-width="0.2">7</text>
<text x="124.96" y="568.5" font-size="6.8" font-weight="bold" text-anchor="middle" fill="#222" font-family='"Liberation Sans", sans-serif' stroke="#222" stroke-width="0.2">8</text>
<text x="139.02" y="568.5" font-size="6.8" font-weight="bold" text-anchor="middle" fill="#222" font-family='"Liberation Sans", sans-serif' stroke="#222" stroke-width="0.2">9</text>
<text x="153.08" y="568.5" font-size="6.8" font-weight="bold" text-anchor="middle" fill="#222" font-family='"Liberation Sans", sans-serif' stroke="#222" stroke-width="0.2">10</text>
<text x="167.14" y="568.5" font-size="6.8" font-weight="bold" text-anchor="middle" fill="#222" font-family='"Liberation Sans", sans-serif' stroke="#222" stroke-width="0.2">11</text>
<text x="181.2" y="568.5" font-size="6.8" font-weight="bold" text-anchor="middle" fill="#222" font-family='"Liberation Sans", sans-serif' stroke="#222" stroke-width="0.2">12</text>
<text x="195.26" y="568.5" font-size="6.8" font-weight="bold" text-anchor="middle" fill="#222" font-family='"Liberation Sans", sans-serif' stroke="#222" stroke-width="0.2">13</text>
<text x="209.32" y="568.5" font-size="6.8" font-weight="bold" text-anchor="middle" fill="#222" font-family='"Liberation Sans", sans-serif' stroke="#222" stroke-width="0.2">14</text>
<text x="223.38" y="568.5" font-size="6.8" font-weight="bold" text-anchor="middle" fill="#222" font-family='"Liberation Sans", sans-serif' stroke="#222" stroke-width="0.2">15</text>
<text x="237.44" y="568.5" font-size="6.8" font-weight="bold" text-anchor="middle" fill="#222" font-family='"Liberation Sans", sans-serif' stroke="#222" stroke-width="0.2">16</text>
<text x="251.5" y="568.5" font-size="6.8" font-weight="bold" text-anchor="middle" fill="#222" font-family='"Liberation Sans", sans-serif' stroke="#222" stroke-width="0.2">17</text>
<text x="265.56" y="568.5" font-size="6.8" font-weight="bold" text-anchor="middle" fill="#222" font-family='"Liberation Sans", sans-serif' stroke="#222" stroke-width="0.2">18</text>
<path d="M30.4 557.7H32.4M30.4 548.37H32.4M30.4 539.05H32.4M30.4 529.72H32.4M30.4 520.4H32.4M40.6 559.6V561.6M54.66 559.6V561.6M68.72 559.6V561.6M82.78 559.6V561.6M96.84 559.6V561.6M110.9 559.6V561.6M124.96 559.6V561.6M139.02 559.6V561.6M153.08 559.6V561.6M167.14 559.6V561.6M181.2 559.6V561.6M195.26 559.6V561.6M209.32 559.6V561.6M223.38 559.6V561.6M237.44 559.6V561.6M251.5 559.6V561.6M265.56 559.6V561.6" stroke="#4a4a4a" stroke-width="0.8"/>
<path d="M40.6 549.12V556.58M54.66 542.03V553.22M68.72 535.13V547.63M82.78 529.72V543.53M96.84 528.61V543.03M110.9 527.86V542.9M124.96 527.86V543.53M139.02 527.58V542.13M153.08 527.3V540.73M167.14 528.14V540.45M181.2 525.25V536.44M195.26 524.44V535.01M209.32 523.63V533.58M223.38 523.76V533.08M237.44 523.88V532.58M251.5 524.01V532.09M265.56 524.13V531.59" stroke="#D9899B" stroke-width="1.1" opacity="0.55"/>
<path d="M40.6 535.32V542.78M54.66 535.32V542.78M68.72 530.84V538.3M82.78 527.11V534.57M96.84 525.77V532.94M110.9 525.91V532.8M124.96 526.05V532.65M139.02 526.2V532.51M153.08 525.59V531.62M167.14 524.99V530.73M181.2 524.02V529.47M195.26 523.85V529.01M209.32 523.68V528.56M223.38 523.51V528.1M237.44 523.35V527.65M251.5 523.18V527.2M265.56 523.01V526.74" stroke="#4A188F" stroke-width="1.1" opacity="0.62"/>
<path d="M40.6 539.05V557.7M54.66 540.17V557.7M68.72 531.96V557.7M82.78 528.61V553.22M96.84 526.74V544.64M110.9 529.72V544.64M124.96 526.37V542.78M139.02 525.99V540.91M153.08 526.74V540.04M167.14 527.49V539.17M181.2 526.37V536.44M195.26 526.43V535.94M209.32 526.49V535.44M223.38 526.37V534.76M237.44 526.24V534.08M251.5 526.12V533.39M265.56 525.99V532.71" stroke="#3260E4" stroke-width="1.1" opacity="0.62"/>
<path d="M40.6 523.76V536.81M54.66 521.52V534.2M68.72 522.64V534.57M82.78 521.52V532.71M96.84 522.54V533.18M110.9 522.08V532.15M124.96 522.06V531.57M139.02 522.04V530.99M153.08 521.99V530.45M167.14 521.94V529.9M181.2 521.89V529.35M195.26 521.95V528.92M209.32 522.02V528.48M223.38 522.08V528.05M237.44 522.14V527.61M251.5 522.2V527.18M265.56 522.26V526.74" stroke="#F05838" stroke-width="1.1" opacity="0.55"/>
<path d="M40.6 523.38V540.17M54.66 523.38V540.17M68.72 523.01V536.07M82.78 522.64V533.83M96.84 523.63V534.2M110.9 522.39V532.34M124.96 522.49V531.81M139.02 522.53V531.01M153.08 522.56V530.21M167.14 522.6V529.41M181.2 522.64V528.61M195.26 522.7V528.3M209.32 522.76V527.98M223.38 522.82V527.67M237.44 522.89V527.36M251.5 522.95V527.05M265.56 523.01V526.74" stroke="#BC2256" stroke-width="1.1" opacity="0.6"/>
<polyline points="40.6,552.85 54.66,547.63 68.72,540.17 82.78,534.2 96.84,533.08 110.9,532.34 124.96,532.34 139.02,532.34 153.08,532.34 167.14,533.45 181.2,530.84 195.26,529.72 209.32,528.61 223.38,528.42 237.44,528.23 251.5,528.05 265.56,527.86" fill="none" stroke="#D9899B" stroke-width="1.1" opacity="0.95"/>
<polyline points="40.6,539.05 54.66,539.05 68.72,534.57 82.78,530.84 96.84,529.35 110.9,529.35 124.96,529.35 139.02,529.35 153.08,528.61 167.14,527.86 181.2,526.74 195.26,526.43 209.32,526.12 223.38,525.81 237.44,525.5 251.5,525.19 265.56,524.88" fill="none" stroke="#4A188F" stroke-width="1.3" opacity="0.95"/>
<polyline points="40.6,549.49 54.66,550.24 68.72,543.15 82.78,538.68 96.84,534.2 110.9,536.44 124.96,533.08 139.02,531.59 153.08,531.96 167.14,532.34 181.2,530.84 195.26,530.66 209.32,530.47 223.38,530.1 237.44,529.72 251.5,529.35 265.56,528.98" fill="none" stroke="#3260E4" stroke-width="1.1" stroke-dasharray="1.1 2.6" opacity="0.8"/>
<polyline points="40.6,529.35 54.66,527.86 68.72,528.61 82.78,527.11 96.84,527.86 110.9,527.11 124.96,526.82 139.02,526.52 153.08,526.22 167.14,525.92 181.2,525.62 195.26,525.44 209.32,525.25 223.38,525.06 237.44,524.88 251.5,524.69 265.56,524.5" fill="none" stroke="#F05838" stroke-width="1.1" stroke-dasharray="1.1 2.6" opacity="0.8"/>
<polyline points="40.6,530.84 54.66,530.84 68.72,528.61 82.78,527.11 96.84,527.86 110.9,526.37 124.96,526.22 139.02,526.07 153.08,525.92 167.14,525.77 181.2,525.62 195.26,525.5 209.32,525.37 223.38,525.25 237.44,525.12 251.5,525 265.56,524.88" fill="none" stroke="#BC2256" stroke-width="1.1" stroke-dasharray="1.1 2.6" opacity="0.8"/>
<rect x="38.7" y="550.95" width="3.8" height="3.8" rx="1" fill="#D9899B" opacity="0.9"/>
<rect x="52.76" y="545.73" width="3.8" height="3.8" rx="1" fill="#D9899B" opacity="0.9"/>
<rect x="66.82" y="538.27" width="3.8" height="3.8" rx="1" fill="#D9899B" opacity="0.9"/>
<rect x="80.88" y="532.3" width="3.8" height="3.8" rx="1" fill="#D9899B" opacity="0.9"/>
<rect x="94.94" y="531.18" width="3.8" height="3.8" rx="1" fill="#D9899B" opacity="0.9"/>
<rect x="109" y="530.44" width="3.8" height="3.8" rx="1" fill="#D9899B" opacity="0.9"/>
<rect x="123.06" y="530.44" width="3.8" height="3.8" rx="1" fill="#D9899B" opacity="0.9"/>
<rect x="137.12" y="530.44" width="3.8" height="3.8" rx="1" fill="#D9899B" opacity="0.9"/>
<rect x="151.18" y="530.44" width="3.8" height="3.8" rx="1" fill="#D9899B" opacity="0.9"/>
<rect x="165.24" y="531.55" width="3.8" height="3.8" rx="1" fill="#D9899B" opacity="0.9"/>
<rect x="179.3" y="528.94" width="3.8" height="3.8" rx="1" fill="#D9899B" opacity="0.9"/>
<rect x="193.36" y="527.82" width="3.8" height="3.8" rx="1" fill="#D9899B" opacity="0.9"/>
<rect x="207.42" y="526.71" width="3.8" height="3.8" rx="1" fill="#D9899B" opacity="0.9"/>
<rect x="221.48" y="526.52" width="3.8" height="3.8" rx="1" fill="#D9899B" opacity="0.9"/>
<rect x="235.54" y="526.33" width="3.8" height="3.8" rx="1" fill="#D9899B" opacity="0.9"/>
<rect x="249.6" y="526.15" width="3.8" height="3.8" rx="1" fill="#D9899B" opacity="0.9"/>
<rect x="263.66" y="525.96" width="3.8" height="3.8" rx="1" fill="#D9899B" opacity="0.9"/>
<rect x="38.7" y="537.15" width="3.8" height="3.8" rx="1" fill="#4A188F" opacity="0.9"/>
<rect x="52.76" y="537.15" width="3.8" height="3.8" rx="1" fill="#4A188F" opacity="0.9"/>
<rect x="66.82" y="532.67" width="3.8" height="3.8" rx="1" fill="#4A188F" opacity="0.9"/>
<rect x="80.88" y="528.94" width="3.8" height="3.8" rx="1" fill="#4A188F" opacity="0.9"/>
<rect x="94.94" y="527.45" width="3.8" height="3.8" rx="1" fill="#4A188F" opacity="0.9"/>
<rect x="109" y="527.45" width="3.8" height="3.8" rx="1" fill="#4A188F" opacity="0.9"/>
<rect x="123.06" y="527.45" width="3.8" height="3.8" rx="1" fill="#4A188F" opacity="0.9"/>
<rect x="137.12" y="527.45" width="3.8" height="3.8" rx="1" fill="#4A188F" opacity="0.9"/>
<rect x="151.18" y="526.71" width="3.8" height="3.8" rx="1" fill="#4A188F" opacity="0.9"/>
<rect x="165.24" y="525.96" width="3.8" height="3.8" rx="1" fill="#4A188F" opacity="0.9"/>
<rect x="179.3" y="524.84" width="3.8" height="3.8" rx="1" fill="#4A188F" opacity="0.9"/>
<rect x="193.36" y="524.53" width="3.8" height="3.8" rx="1" fill="#4A188F" opacity="0.9"/>
<rect x="207.42" y="524.22" width="3.8" height="3.8" rx="1" fill="#4A188F" opacity="0.9"/>
<rect x="221.48" y="523.91" width="3.8" height="3.8" rx="1" fill="#4A188F" opacity="0.9"/>
<rect x="235.54" y="523.6" width="3.8" height="3.8" rx="1" fill="#4A188F" opacity="0.9"/>
<rect x="249.6" y="523.29" width="3.8" height="3.8" rx="1" fill="#4A188F" opacity="0.9"/>
<rect x="263.66" y="522.98" width="3.8" height="3.8" rx="1" fill="#4A188F" opacity="0.9"/>
<circle cx="40.6" cy="549.49" r="1.9" fill="#3260E4" opacity="0.92"/>
<circle cx="54.66" cy="550.24" r="1.9" fill="#3260E4" opacity="0.92"/>
<circle cx="68.72" cy="543.15" r="1.9" fill="#3260E4" opacity="0.92"/>
<circle cx="82.78" cy="538.68" r="1.9" fill="#3260E4" opacity="0.92"/>
<circle cx="96.84" cy="534.2" r="1.9" fill="#3260E4" opacity="0.92"/>
<circle cx="110.9" cy="536.44" r="1.9" fill="#3260E4" opacity="0.92"/>
<circle cx="124.96" cy="533.08" r="1.9" fill="#3260E4" opacity="0.92"/>
<circle cx="139.02" cy="531.59" r="1.9" fill="#3260E4" opacity="0.92"/>
<circle cx="153.08" cy="531.96" r="1.9" fill="#3260E4" opacity="0.92"/>
<circle cx="167.14" cy="532.34" r="1.9" fill="#3260E4" opacity="0.92"/>
<circle cx="181.2" cy="530.84" r="1.9" fill="#3260E4" opacity="0.92"/>
<circle cx="195.26" cy="530.66" r="1.9" fill="#3260E4" opacity="0.92"/>
<circle cx="209.32" cy="530.47" r="1.9" fill="#3260E4" opacity="0.92"/>
<circle cx="223.38" cy="530.1" r="1.9" fill="#3260E4" opacity="0.92"/>
<circle cx="237.44" cy="529.72" r="1.9" fill="#3260E4" opacity="0.92"/>
<circle cx="251.5" cy="529.35" r="1.9" fill="#3260E4" opacity="0.92"/>
<circle cx="265.56" cy="528.98" r="1.9" fill="#3260E4" opacity="0.92"/>
<circle cx="40.6" cy="529.35" r="1.9" fill="#F05838" opacity="0.92"/>
<circle cx="54.66" cy="527.86" r="1.9" fill="#F05838" opacity="0.92"/>
<circle cx="68.72" cy="528.61" r="1.9" fill="#F05838" opacity="0.92"/>
<circle cx="82.78" cy="527.11" r="1.9" fill="#F05838" opacity="0.92"/>
<circle cx="96.84" cy="527.86" r="1.9" fill="#F05838" opacity="0.92"/>
<circle cx="110.9" cy="527.11" r="1.9" fill="#F05838" opacity="0.92"/>
<circle cx="124.96" cy="526.82" r="1.9" fill="#F05838" opacity="0.92"/>
<circle cx="139.02" cy="526.52" r="1.9" fill="#F05838" opacity="0.92"/>
<circle cx="153.08" cy="526.22" r="1.9" fill="#F05838" opacity="0.92"/>
<circle cx="167.14" cy="525.92" r="1.9" fill="#F05838" opacity="0.92"/>
<circle cx="181.2" cy="525.62" r="1.9" fill="#F05838" opacity="0.92"/>
<circle cx="195.26" cy="525.44" r="1.9" fill="#F05838" opacity="0.92"/>
<circle cx="209.32" cy="525.25" r="1.9" fill="#F05838" opacity="0.92"/>
<circle cx="223.38" cy="525.06" r="1.9" fill="#F05838" opacity="0.92"/>
<circle cx="237.44" cy="524.88" r="1.9" fill="#F05838" opacity="0.92"/>
<circle cx="251.5" cy="524.69" r="1.9" fill="#F05838" opacity="0.92"/>
<circle cx="265.56" cy="524.5" r="1.9" fill="#F05838" opacity="0.92"/>
<circle cx="40.6" cy="530.84" r="1.9" fill="#BC2256" opacity="0.92"/>
<circle cx="54.66" cy="530.84" r="1.9" fill="#BC2256" opacity="0.92"/>
<circle cx="68.72" cy="528.61" r="1.9" fill="#BC2256" opacity="0.92"/>
<circle cx="82.78" cy="527.11" r="1.9" fill="#BC2256" opacity="0.92"/>
<circle cx="96.84" cy="527.86" r="1.9" fill="#BC2256" opacity="0.92"/>
<circle cx="110.9" cy="526.37" r="1.9" fill="#BC2256" opacity="0.92"/>
<circle cx="124.96" cy="526.22" r="1.9" fill="#BC2256" opacity="0.92"/>
<circle cx="139.02" cy="526.07" r="1.9" fill="#BC2256" opacity="0.92"/>
<circle cx="153.08" cy="525.92" r="1.9" fill="#BC2256" opacity="0.92"/>
<circle cx="167.14" cy="525.77" r="1.9" fill="#BC2256" opacity="0.92"/>
<circle cx="181.2" cy="525.62" r="1.9" fill="#BC2256" opacity="0.92"/>
<circle cx="195.26" cy="525.5" r="1.9" fill="#BC2256" opacity="0.92"/>
<circle cx="209.32" cy="525.37" r="1.9" fill="#BC2256" opacity="0.92"/>
<circle cx="223.38" cy="525.25" r="1.9" fill="#BC2256" opacity="0.92"/>
<circle cx="237.44" cy="525.12" r="1.9" fill="#BC2256" opacity="0.92"/>
<circle cx="251.5" cy="525" r="1.9" fill="#BC2256" opacity="0.92"/>
<circle cx="265.56" cy="524.88" r="1.9" fill="#BC2256" opacity="0.92"/>
<text x="56" y="518.6" font-size="7.2" font-weight="bold" text-anchor="start" fill="#111" font-family='"Liberation Sans", sans-serif' stroke="#222" stroke-width="0.2" textLength="9.6" lengthAdjust="spacingAndGlyphs">Up</text>
<path d="M301.4 518.5V559.6H544.2" fill="none" stroke="#4d4d4d" stroke-width="1.2"/>
<text x="298" y="560.05" font-size="6.7" font-weight="bold" text-anchor="end" fill="#222" font-family='"Liberation Sans", sans-serif' stroke="#222" stroke-width="0.2">0.00</text>
<text x="298" y="550.72" font-size="6.7" font-weight="bold" text-anchor="end" fill="#222" font-family='"Liberation Sans", sans-serif' stroke="#222" stroke-width="0.2">0.25</text>
<text x="298" y="541.4" font-size="6.7" font-weight="bold" text-anchor="end" fill="#222" font-family='"Liberation Sans", sans-serif' stroke="#222" stroke-width="0.2">0.50</text>
<text x="298" y="532.07" font-size="6.7" font-weight="bold" text-anchor="end" fill="#222" font-family='"Liberation Sans", sans-serif' stroke="#222" stroke-width="0.2">0.75</text>
<text x="298" y="522.75" font-size="6.7" font-weight="bold" text-anchor="end" fill="#222" font-family='"Liberation Sans", sans-serif' stroke="#222" stroke-width="0.2">1.00</text>
<text x="310.5" y="568.5" font-size="6.8" font-weight="bold" text-anchor="middle" fill="#222" font-family='"Liberation Sans", sans-serif' stroke="#222" stroke-width="0.2">2</text>
<text x="324.56" y="568.5" font-size="6.8" font-weight="bold" text-anchor="middle" fill="#222" font-family='"Liberation Sans", sans-serif' stroke="#222" stroke-width="0.2">3</text>
<text x="338.62" y="568.5" font-size="6.8" font-weight="bold" text-anchor="middle" fill="#222" font-family='"Liberation Sans", sans-serif' stroke="#222" stroke-width="0.2">4</text>
<text x="352.68" y="568.5" font-size="6.8" font-weight="bold" text-anchor="middle" fill="#222" font-family='"Liberation Sans", sans-serif' stroke="#222" stroke-width="0.2">5</text>
<text x="366.74" y="568.5" font-size="6.8" font-weight="bold" text-anchor="middle" fill="#222" font-family='"Liberation Sans", sans-serif' stroke="#222" stroke-width="0.2">6</text>
<text x="380.8" y="568.5" font-size="6.8" font-weight="bold" text-anchor="middle" fill="#222" font-family='"Liberation Sans", sans-serif' stroke="#222" stroke-width="0.2">7</text>
<text x="394.86" y="568.5" font-size="6.8" font-weight="bold" text-anchor="middle" fill="#222" font-family='"Liberation Sans", sans-serif' stroke="#222" stroke-width="0.2">8</text>
<text x="408.92" y="568.5" font-size="6.8" font-weight="bold" text-anchor="middle" fill="#222" font-family='"Liberation Sans", sans-serif' stroke="#222" stroke-width="0.2">9</text>
<text x="422.98" y="568.5" font-size="6.8" font-weight="bold" text-anchor="middle" fill="#222" font-family='"Liberation Sans", sans-serif' stroke="#222" stroke-width="0.2">10</text>
<text x="437.04" y="568.5" font-size="6.8" font-weight="bold" text-anchor="middle" fill="#222" font-family='"Liberation Sans", sans-serif' stroke="#222" stroke-width="0.2">11</text>
<text x="451.1" y="568.5" font-size="6.8" font-weight="bold" text-anchor="middle" fill="#222" font-family='"Liberation Sans", sans-serif' stroke="#222" stroke-width="0.2">12</text>
<text x="465.16" y="568.5" font-size="6.8" font-weight="bold" text-anchor="middle" fill="#222" font-family='"Liberation Sans", sans-serif' stroke="#222" stroke-width="0.2">13</text>
<text x="479.22" y="568.5" font-size="6.8" font-weight="bold" text-anchor="middle" fill="#222" font-family='"Liberation Sans", sans-serif' stroke="#222" stroke-width="0.2">14</text>
<text x="493.28" y="568.5" font-size="6.8" font-weight="bold" text-anchor="middle" fill="#222" font-family='"Liberation Sans", sans-serif' stroke="#222" stroke-width="0.2">15</text>
<text x="507.34" y="568.5" font-size="6.8" font-weight="bold" text-anchor="middle" fill="#222" font-family='"Liberation Sans", sans-serif' stroke="#222" stroke-width="0.2">16</text>
<text x="521.4" y="568.5" font-size="6.8" font-weight="bold" text-anchor="middle" fill="#222" font-family='"Liberation Sans", sans-serif' stroke="#222" stroke-width="0.2">17</text>
<text x="535.46" y="568.5" font-size="6.8" font-weight="bold" text-anchor="middle" fill="#222" font-family='"Liberation Sans", sans-serif' stroke="#222" stroke-width="0.2">18</text>
<path d="M299.4 557.7H301.4M299.4 548.37H301.4M299.4 539.05H301.4M299.4 529.72H301.4M299.4 520.4H301.4M310.5 559.6V561.6M324.56 559.6V561.6M338.62 559.6V561.6M352.68 559.6V561.6M366.74 559.6V561.6M380.8 559.6V561.6M394.86 559.6V561.6M408.92 559.6V561.6M422.98 559.6V561.6M437.04 559.6V561.6M451.1 559.6V561.6M465.16 559.6V561.6M479.22 559.6V561.6M493.28 559.6V561.6M507.34 559.6V561.6M521.4 559.6V561.6M535.46 559.6V561.6" stroke="#4a4a4a" stroke-width="0.8"/>
<path d="M310.5 549.12V556.58M324.56 542.03V553.22M338.62 535.13V547.63M352.68 529.72V543.53M366.74 528.61V543.03M380.8 527.86V542.9M394.86 527.86V543.53M408.92 527.58V542.13M422.98 527.3V540.73M437.04 528.14V540.45M451.1 525.25V536.44M465.16 524.44V535.01M479.22 523.63V533.58M493.28 523.76V533.08M507.34 523.88V532.58M521.4 524.01V532.09M535.46 524.13V531.59" stroke="#D9899B" stroke-width="1.1" opacity="0.55"/>
<path d="M310.5 535.32V542.78M324.56 535.32V542.78M338.62 530.84V538.3M352.68 527.11V534.57M366.74 525.77V532.94M380.8 525.91V532.8M394.86 526.05V532.65M408.92 526.2V532.51M422.98 525.59V531.62M437.04 524.99V530.73M451.1 524.02V529.47M465.16 523.85V529.01M479.22 523.68V528.56M493.28 523.51V528.1M507.34 523.35V527.65M521.4 523.18V527.2M535.46 523.01V526.74" stroke="#4A188F" stroke-width="1.1" opacity="0.62"/>
<path d="M310.5 539.05V557.7M324.56 540.17V557.7M338.62 531.96V557.7M352.68 528.61V553.22M366.74 526.74V544.64M380.8 529.72V544.64M394.86 526.37V542.78M408.92 525.99V540.91M422.98 526.74V540.04M437.04 527.49V539.17M451.1 526.37V536.44M465.16 526.43V535.94M479.22 526.49V535.44M493.28 526.37V534.76M507.34 526.24V534.08M521.4 526.12V533.39M535.46 525.99V532.71" stroke="#3260E4" stroke-width="1.1" opacity="0.62"/>
<path d="M310.5 523.76V536.81M324.56 521.52V534.2M338.62 522.64V534.57M352.68 521.52V532.71M366.74 522.54V533.18M380.8 522.08V532.15M394.86 522.06V531.57M408.92 522.04V530.99M422.98 521.99V530.45M437.04 521.94V529.9M451.1 521.89V529.35M465.16 521.95V528.92M479.22 522.02V528.48M493.28 522.08V528.05M507.34 522.14V527.61M521.4 522.2V527.18M535.46 522.26V526.74" stroke="#F05838" stroke-width="1.1" opacity="0.55"/>
<path d="M310.5 523.38V540.17M324.56 523.38V540.17M338.62 523.01V536.07M352.68 522.64V533.83M366.74 523.63V534.2M380.8 522.39V532.34M394.86 522.49V531.81M408.92 522.53V531.01M422.98 522.56V530.21M437.04 522.6V529.41M451.1 522.64V528.61M465.16 522.7V528.3M479.22 522.76V527.98M493.28 522.82V527.67M507.34 522.89V527.36M521.4 522.95V527.05M535.46 523.01V526.74" stroke="#BC2256" stroke-width="1.1" opacity="0.6"/>
<polyline points="310.5,552.85 324.56,547.63 338.62,540.17 352.68,534.2 366.74,533.08 380.8,532.34 394.86,532.34 408.92,532.34 422.98,532.34 437.04,533.45 451.1,530.84 465.16,529.72 479.22,528.61 493.28,528.42 507.34,528.23 521.4,528.05 535.46,527.86" fill="none" stroke="#D9899B" stroke-width="1.1" opacity="0.95"/>
<polyline points="310.5,539.05 324.56,539.05 338.62,534.57 352.68,530.84 366.74,529.35 380.8,529.35 394.86,529.35 408.92,529.35 422.98,528.61 437.04,527.86 451.1,526.74 465.16,526.43 479.22,526.12 493.28,525.81 507.34,525.5 521.4,525.19 535.46,524.88" fill="none" stroke="#4A188F" stroke-width="1.3" opacity="0.95"/>
<polyline points="310.5,549.49 324.56,550.24 338.62,543.15 352.68,538.68 366.74,534.2 380.8,536.44 394.86,533.08 408.92,531.59 422.98,531.96 437.04,532.34 451.1,530.84 465.16,530.66 479.22,530.47 493.28,530.1 507.34,529.72 521.4,529.35 535.46,528.98" fill="none" stroke="#3260E4" stroke-width="1.1" stroke-dasharray="1.1 2.6" opacity="0.8"/>
<polyline points="310.5,529.35 324.56,527.86 338.62,528.61 352.68,527.11 366.74,527.86 380.8,527.11 394.86,526.82 408.92,526.52 422.98,526.22 437.04,525.92 451.1,525.62 465.16,525.44 479.22,525.25 493.28,525.06 507.34,524.88 521.4,524.69 535.46,524.5" fill="none" stroke="#F05838" stroke-width="1.1" stroke-dasharray="1.1 2.6" opacity="0.8"/>
<polyline points="310.5,530.84 324.56,530.84 338.62,528.61 352.68,527.11 366.74,527.86 380.8,526.37 394.86,526.22 408.92,526.07 422.98,525.92 437.04,525.77 451.1,525.62 465.16,525.5 479.22,525.37 493.28,525.25 507.34,525.12 521.4,525 535.46,524.88" fill="none" stroke="#BC2256" stroke-width="1.1" stroke-dasharray="1.1 2.6" opacity="0.8"/>
<rect x="308.6" y="550.95" width="3.8" height="3.8" rx="1" fill="#D9899B" opacity="0.9"/>
<rect x="322.66" y="545.73" width="3.8" height="3.8" rx="1" fill="#D9899B" opacity="0.9"/>
<rect x="336.72" y="538.27" width="3.8" height="3.8" rx="1" fill="#D9899B" opacity="0.9"/>
<rect x="350.78" y="532.3" width="3.8" height="3.8" rx="1" fill="#D9899B" opacity="0.9"/>
<rect x="364.84" y="531.18" width="3.8" height="3.8" rx="1" fill="#D9899B" opacity="0.9"/>
<rect x="378.9" y="530.44" width="3.8" height="3.8" rx="1" fill="#D9899B" opacity="0.9"/>
<rect x="392.96" y="530.44" width="3.8" height="3.8" rx="1" fill="#D9899B" opacity="0.9"/>
<rect x="407.02" y="530.44" width="3.8" height="3.8" rx="1" fill="#D9899B" opacity="0.9"/>
<rect x="421.08" y="530.44" width="3.8" height="3.8" rx="1" fill="#D9899B" opacity="0.9"/>
<rect x="435.14" y="531.55" width="3.8" height="3.8" rx="1" fill="#D9899B" opacity="0.9"/>
<rect x="449.2" y="528.94" width="3.8" height="3.8" rx="1" fill="#D9899B" opacity="0.9"/>
<rect x="463.26" y="527.82" width="3.8" height="3.8" rx="1" fill="#D9899B" opacity="0.9"/>
<rect x="477.32" y="526.71" width="3.8" height="3.8" rx="1" fill="#D9899B" opacity="0.9"/>
<rect x="491.38" y="526.52" width="3.8" height="3.8" rx="1" fill="#D9899B" opacity="0.9"/>
<rect x="505.44" y="526.33" width="3.8" height="3.8" rx="1" fill="#D9899B" opacity="0.9"/>
<rect x="519.5" y="526.15" width="3.8" height="3.8" rx="1" fill="#D9899B" opacity="0.9"/>
<rect x="533.56" y="525.96" width="3.8" height="3.8" rx="1" fill="#D9899B" opacity="0.9"/>
<rect x="308.6" y="537.15" width="3.8" height="3.8" rx="1" fill="#4A188F" opacity="0.9"/>
<rect x="322.66" y="537.15" width="3.8" height="3.8" rx="1" fill="#4A188F" opacity="0.9"/>
<rect x="336.72" y="532.67" width="3.8" height="3.8" rx="1" fill="#4A188F" opacity="0.9"/>
<rect x="350.78" y="528.94" width="3.8" height="3.8" rx="1" fill="#4A188F" opacity="0.9"/>
<rect x="364.84" y="527.45" width="3.8" height="3.8" rx="1" fill="#4A188F" opacity="0.9"/>
<rect x="378.9" y="527.45" width="3.8" height="3.8" rx="1" fill="#4A188F" opacity="0.9"/>
<rect x="392.96" y="527.45" width="3.8" height="3.8" rx="1" fill="#4A188F" opacity="0.9"/>
<rect x="407.02" y="527.45" width="3.8" height="3.8" rx="1" fill="#4A188F" opacity="0.9"/>
<rect x="421.08" y="526.71" width="3.8" height="3.8" rx="1" fill="#4A188F" opacity="0.9"/>
<rect x="435.14" y="525.96" width="3.8" height="3.8" rx="1" fill="#4A188F" opacity="0.9"/>
<rect x="449.2" y="524.84" width="3.8" height="3.8" rx="1" fill="#4A188F" opacity="0.9"/>
<rect x="463.26" y="524.53" width="3.8" height="3.8" rx="1" fill="#4A188F" opacity="0.9"/>
<rect x="477.32" y="524.22" width="3.8" height="3.8" rx="1" fill="#4A188F" opacity="0.9"/>
<rect x="491.38" y="523.91" width="3.8" height="3.8" rx="1" fill="#4A188F" opacity="0.9"/>
<rect x="505.44" y="523.6" width="3.8" height="3.8" rx="1" fill="#4A188F" opacity="0.9"/>
<rect x="519.5" y="523.29" width="3.8" height="3.8" rx="1" fill="#4A188F" opacity="0.9"/>
<rect x="533.56" y="522.98" width="3.8" height="3.8" rx="1" fill="#4A188F" opacity="0.9"/>
<circle cx="310.5" cy="549.49" r="1.9" fill="#3260E4" opacity="0.92"/>
<circle cx="324.56" cy="550.24" r="1.9" fill="#3260E4" opacity="0.92"/>
<circle cx="338.62" cy="543.15" r="1.9" fill="#3260E4" opacity="0.92"/>
<circle cx="352.68" cy="538.68" r="1.9" fill="#3260E4" opacity="0.92"/>
<circle cx="366.74" cy="534.2" r="1.9" fill="#3260E4" opacity="0.92"/>
<circle cx="380.8" cy="536.44" r="1.9" fill="#3260E4" opacity="0.92"/>
<circle cx="394.86" cy="533.08" r="1.9" fill="#3260E4" opacity="0.92"/>
<circle cx="408.92" cy="531.59" r="1.9" fill="#3260E4" opacity="0.92"/>
<circle cx="422.98" cy="531.96" r="1.9" fill="#3260E4" opacity="0.92"/>
<circle cx="437.04" cy="532.34" r="1.9" fill="#3260E4" opacity="0.92"/>
<circle cx="451.1" cy="530.84" r="1.9" fill="#3260E4" opacity="0.92"/>
<circle cx="465.16" cy="530.66" r="1.9" fill="#3260E4" opacity="0.92"/>
<circle cx="479.22" cy="530.47" r="1.9" fill="#3260E4" opacity="0.92"/>
<circle cx="493.28" cy="530.1" r="1.9" fill="#3260E4" opacity="0.92"/>
<circle cx="507.34" cy="529.72" r="1.9" fill="#3260E4" opacity="0.92"/>
<circle cx="521.4" cy="529.35" r="1.9" fill="#3260E4" opacity="0.92"/>
<circle cx="535.46" cy="528.98" r="1.9" fill="#3260E4" opacity="0.92"/>
<circle cx="310.5" cy="529.35" r="1.9" fill="#F05838" opacity="0.92"/>
<circle cx="324.56" cy="527.86" r="1.9" fill="#F05838" opacity="0.92"/>
<circle cx="338.62" cy="528.61" r="1.9" fill="#F05838" opacity="0.92"/>
<circle cx="352.68" cy="527.11" r="1.9" fill="#F05838" opacity="0.92"/>
<circle cx="366.74" cy="527.86" r="1.9" fill="#F05838" opacity="0.92"/>
<circle cx="380.8" cy="527.11" r="1.9" fill="#F05838" opacity="0.92"/>
<circle cx="394.86" cy="526.82" r="1.9" fill="#F05838" opacity="0.92"/>
<circle cx="408.92" cy="526.52" r="1.9" fill="#F05838" opacity="0.92"/>
<circle cx="422.98" cy="526.22" r="1.9" fill="#F05838" opacity="0.92"/>
<circle cx="437.04" cy="525.92" r="1.9" fill="#F05838" opacity="0.92"/>
<circle cx="451.1" cy="525.62" r="1.9" fill="#F05838" opacity="0.92"/>
<circle cx="465.16" cy="525.44" r="1.9" fill="#F05838" opacity="0.92"/>
<circle cx="479.22" cy="525.25" r="1.9" fill="#F05838" opacity="0.92"/>
<circle cx="493.28" cy="525.06" r="1.9" fill="#F05838" opacity="0.92"/>
<circle cx="507.34" cy="524.88" r="1.9" fill="#F05838" opacity="0.92"/>
<circle cx="521.4" cy="524.69" r="1.9" fill="#F05838" opacity="0.92"/>
<circle cx="535.46" cy="524.5" r="1.9" fill="#F05838" opacity="0.92"/>
<circle cx="310.5" cy="530.84" r="1.9" fill="#BC2256" opacity="0.92"/>
<circle cx="324.56" cy="530.84" r="1.9" fill="#BC2256" opacity="0.92"/>
<circle cx="338.62" cy="528.61" r="1.9" fill="#BC2256" opacity="0.92"/>
<circle cx="352.68" cy="527.11" r="1.9" fill="#BC2256" opacity="0.92"/>
<circle cx="366.74" cy="527.86" r="1.9" fill="#BC2256" opacity="0.92"/>
<circle cx="380.8" cy="526.37" r="1.9" fill="#BC2256" opacity="0.92"/>
<circle cx="394.86" cy="526.22" r="1.9" fill="#BC2256" opacity="0.92"/>
<circle cx="408.92" cy="526.07" r="1.9" fill="#BC2256" opacity="0.92"/>
<circle cx="422.98" cy="525.92" r="1.9" fill="#BC2256" opacity="0.92"/>
<circle cx="437.04" cy="525.77" r="1.9" fill="#BC2256" opacity="0.92"/>
<circle cx="451.1" cy="525.62" r="1.9" fill="#BC2256" opacity="0.92"/>
<circle cx="465.16" cy="525.5" r="1.9" fill="#BC2256" opacity="0.92"/>
<circle cx="479.22" cy="525.37" r="1.9" fill="#BC2256" opacity="0.92"/>
<circle cx="493.28" cy="525.25" r="1.9" fill="#BC2256" opacity="0.92"/>
<circle cx="507.34" cy="525.12" r="1.9" fill="#BC2256" opacity="0.92"/>
<circle cx="521.4" cy="525" r="1.9" fill="#BC2256" opacity="0.92"/>
<circle cx="535.46" cy="524.88" r="1.9" fill="#BC2256" opacity="0.92"/>
<text x="310.7" y="518.4" font-size="7.2" font-weight="bold" text-anchor="start" fill="#111" font-family='"Liberation Sans", sans-serif' stroke="#222" stroke-width="0.2" textLength="19.2" lengthAdjust="spacingAndGlyphs">Down</text>
<text x="13.5" y="579.1" font-size="10" font-weight="bold" text-anchor="start" fill="#111" font-family='"Liberation Sans", sans-serif' stroke="#111" stroke-width="0.18" textLength="36.7" lengthAdjust="spacingAndGlyphs">Push-up</text>
<text x="0" y="0" font-size="9" font-weight="bold" font-family='"Liberation Sans", sans-serif' fill="#111" text-anchor="middle" textLength="12.8" lengthAdjust="spacingAndGlyphs" stroke="#111" stroke-width="0.18" transform="translate(11.9 603.5) rotate(-90)">ICC</text>
<path d="M32.4 590V631.1H274.4" fill="none" stroke="#4d4d4d" stroke-width="1.2"/>
<text x="29" y="631.55" font-size="6.7" font-weight="bold" text-anchor="end" fill="#222" font-family='"Liberation Sans", sans-serif' stroke="#222" stroke-width="0.2">0.00</text>
<text x="29" y="622.22" font-size="6.7" font-weight="bold" text-anchor="end" fill="#222" font-family='"Liberation Sans", sans-serif' stroke="#222" stroke-width="0.2">0.25</text>
<text x="29" y="612.9" font-size="6.7" font-weight="bold" text-anchor="end" fill="#222" font-family='"Liberation Sans", sans-serif' stroke="#222" stroke-width="0.2">0.50</text>
<text x="29" y="603.57" font-size="6.7" font-weight="bold" text-anchor="end" fill="#222" font-family='"Liberation Sans", sans-serif' stroke="#222" stroke-width="0.2">0.75</text>
<text x="29" y="594.25" font-size="6.7" font-weight="bold" text-anchor="end" fill="#222" font-family='"Liberation Sans", sans-serif' stroke="#222" stroke-width="0.2">1.00</text>
<text x="40.6" y="640" font-size="6.8" font-weight="bold" text-anchor="middle" fill="#222" font-family='"Liberation Sans", sans-serif' stroke="#222" stroke-width="0.2">2</text>
<text x="54.66" y="640" font-size="6.8" font-weight="bold" text-anchor="middle" fill="#222" font-family='"Liberation Sans", sans-serif' stroke="#222" stroke-width="0.2">3</text>
<text x="68.72" y="640" font-size="6.8" font-weight="bold" text-anchor="middle" fill="#222" font-family='"Liberation Sans", sans-serif' stroke="#222" stroke-width="0.2">4</text>
<text x="82.78" y="640" font-size="6.8" font-weight="bold" text-anchor="middle" fill="#222" font-family='"Liberation Sans", sans-serif' stroke="#222" stroke-width="0.2">5</text>
<text x="96.84" y="640" font-size="6.8" font-weight="bold" text-anchor="middle" fill="#222" font-family='"Liberation Sans", sans-serif' stroke="#222" stroke-width="0.2">6</text>
<text x="110.9" y="640" font-size="6.8" font-weight="bold" text-anchor="middle" fill="#222" font-family='"Liberation Sans", sans-serif' stroke="#222" stroke-width="0.2">7</text>
<text x="124.96" y="640" font-size="6.8" font-weight="bold" text-anchor="middle" fill="#222" font-family='"Liberation Sans", sans-serif' stroke="#222" stroke-width="0.2">8</text>
<text x="139.02" y="640" font-size="6.8" font-weight="bold" text-anchor="middle" fill="#222" font-family='"Liberation Sans", sans-serif' stroke="#222" stroke-width="0.2">9</text>
<text x="153.08" y="640" font-size="6.8" font-weight="bold" text-anchor="middle" fill="#222" font-family='"Liberation Sans", sans-serif' stroke="#222" stroke-width="0.2">10</text>
<text x="167.14" y="640" font-size="6.8" font-weight="bold" text-anchor="middle" fill="#222" font-family='"Liberation Sans", sans-serif' stroke="#222" stroke-width="0.2">11</text>
<text x="181.2" y="640" font-size="6.8" font-weight="bold" text-anchor="middle" fill="#222" font-family='"Liberation Sans", sans-serif' stroke="#222" stroke-width="0.2">12</text>
<text x="195.26" y="640" font-size="6.8" font-weight="bold" text-anchor="middle" fill="#222" font-family='"Liberation Sans", sans-serif' stroke="#222" stroke-width="0.2">13</text>
<text x="209.32" y="640" font-size="6.8" font-weight="bold" text-anchor="middle" fill="#222" font-family='"Liberation Sans", sans-serif' stroke="#222" stroke-width="0.2">14</text>
<text x="223.38" y="640" font-size="6.8" font-weight="bold" text-anchor="middle" fill="#222" font-family='"Liberation Sans", sans-serif' stroke="#222" stroke-width="0.2">15</text>
<text x="237.44" y="640" font-size="6.8" font-weight="bold" text-anchor="middle" fill="#222" font-family='"Liberation Sans", sans-serif' stroke="#222" stroke-width="0.2">16</text>
<text x="251.5" y="640" font-size="6.8" font-weight="bold" text-anchor="middle" fill="#222" font-family='"Liberation Sans", sans-serif' stroke="#222" stroke-width="0.2">17</text>
<text x="265.56" y="640" font-size="6.8" font-weight="bold" text-anchor="middle" fill="#222" font-family='"Liberation Sans", sans-serif' stroke="#222" stroke-width="0.2">18</text>
<path d="M30.4 629.2H32.4M30.4 619.87H32.4M30.4 610.55H32.4M30.4 601.22H32.4M30.4 591.9H32.4M40.6 631.1V633.1M54.66 631.1V633.1M68.72 631.1V633.1M82.78 631.1V633.1M96.84 631.1V633.1M110.9 631.1V633.1M124.96 631.1V633.1M139.02 631.1V633.1M153.08 631.1V633.1M167.14 631.1V633.1M181.2 631.1V633.1M195.26 631.1V633.1M209.32 631.1V633.1M223.38 631.1V633.1M237.44 631.1V633.1M251.5 631.1V633.1M265.56 631.1V633.1" stroke="#4a4a4a" stroke-width="0.8"/>
<path d="M40.6 627.33V629.2M54.66 625.1V629.2M68.72 603.84V626.22M82.78 596V614.65M96.84 607.01V627.52M110.9 600.11V622.49M124.96 599.86V622.86M139.02 598.12V621.74M153.08 599.36V623.6" stroke="#D9899B" stroke-width="1.1" opacity="0.55"/>
<path d="M40.6 601.22V616.14M54.66 601.85V615.52M68.72 598.37V610.8M82.78 594.14V605.33M96.84 596.23V606.97M110.9 594.59V604.88M124.96 594.81V604.66M139.02 595.78V605.18M153.08 596.38V605.33" stroke="#4A188F" stroke-width="1.1" opacity="0.62"/>
<path d="M40.6 597.49V623.6M54.66 591.9V617.64M68.72 592.46V616.7M82.78 592.65V615.03M96.84 598.61V622.86M110.9 601.22V627.33M124.96 598.61V627.71" stroke="#3260E4" stroke-width="1.1" opacity="0.62"/>
<path d="M40.6 596V614.65M54.66 593.02V611.67M68.72 593.95V610.74M82.78 592.27V607.19M96.84 598.61V613.53M110.9 595.63V610.55M124.96 596.38V611.3M139.02 594.88V609.8" stroke="#F05838" stroke-width="1.1" opacity="0.55"/>
<path d="M40.6 595.63V629.2M54.66 595.63V629.2M68.72 593.58V623.42M82.78 596.75V622.86M96.84 591.9V614.78M110.9 591.9V613.04M124.96 591.9V610.92M139.02 596.75V623.98" stroke="#BC2256" stroke-width="1.1" opacity="0.6"/>
<polyline points="40.6,629.2 54.66,628.08 68.72,615.03 82.78,605.33 96.84,617.26 110.9,611.3 124.96,609.8 139.02,606.82 153.08,606.82" fill="none" stroke="#D9899B" stroke-width="1.1" opacity="0.95"/>
<polyline points="40.6,608.68 54.66,608.68 68.72,604.58 82.78,599.73 96.84,601.6 110.9,599.73 124.96,599.73 139.02,600.48 153.08,600.85" fill="none" stroke="#4A188F" stroke-width="1.3" opacity="0.95"/>
<polyline points="40.6,610.55 54.66,604.58 68.72,604.58 82.78,603.84 96.84,609.8 110.9,612.41 124.96,609.8" fill="none" stroke="#3260E4" stroke-width="1.1" stroke-dasharray="1.1 2.6" opacity="0.8"/>
<polyline points="40.6,605.33 54.66,602.34 68.72,602.34 82.78,599.73 96.84,606.07 110.9,603.09 124.96,603.84 139.02,602.34" fill="none" stroke="#F05838" stroke-width="1.1" stroke-dasharray="1.1 2.6" opacity="0.8"/>
<polyline points="40.6,609.8 54.66,610.55 68.72,607.57 82.78,609.8 96.84,602.34 110.9,601.22 124.96,599.73 139.02,606.07" fill="none" stroke="#BC2256" stroke-width="1.1" stroke-dasharray="1.1 2.6" opacity="0.8"/>
<rect x="38.7" y="627.3" width="3.8" height="3.8" rx="1" fill="#D9899B" opacity="0.9"/>
<rect x="52.76" y="626.18" width="3.8" height="3.8" rx="1" fill="#D9899B" opacity="0.9"/>
<rect x="66.82" y="613.13" width="3.8" height="3.8" rx="1" fill="#D9899B" opacity="0.9"/>
<rect x="80.88" y="603.43" width="3.8" height="3.8" rx="1" fill="#D9899B" opacity="0.9"/>
<rect x="94.94" y="615.36" width="3.8" height="3.8" rx="1" fill="#D9899B" opacity="0.9"/>
<rect x="109" y="609.4" width="3.8" height="3.8" rx="1" fill="#D9899B" opacity="0.9"/>
<rect x="123.06" y="607.9" width="3.8" height="3.8" rx="1" fill="#D9899B" opacity="0.9"/>
<rect x="137.12" y="604.92" width="3.8" height="3.8" rx="1" fill="#D9899B" opacity="0.9"/>
<rect x="151.18" y="604.92" width="3.8" height="3.8" rx="1" fill="#D9899B" opacity="0.9"/>
<rect x="38.7" y="606.78" width="3.8" height="3.8" rx="1" fill="#4A188F" opacity="0.9"/>
<rect x="52.76" y="606.78" width="3.8" height="3.8" rx="1" fill="#4A188F" opacity="0.9"/>
<rect x="66.82" y="602.68" width="3.8" height="3.8" rx="1" fill="#4A188F" opacity="0.9"/>
<rect x="80.88" y="597.83" width="3.8" height="3.8" rx="1" fill="#4A188F" opacity="0.9"/>
<rect x="94.94" y="599.7" width="3.8" height="3.8" rx="1" fill="#4A188F" opacity="0.9"/>
<rect x="109" y="597.83" width="3.8" height="3.8" rx="1" fill="#4A188F" opacity="0.9"/>
<rect x="123.06" y="597.83" width="3.8" height="3.8" rx="1" fill="#4A188F" opacity="0.9"/>
<rect x="137.12" y="598.58" width="3.8" height="3.8" rx="1" fill="#4A188F" opacity="0.9"/>
<rect x="151.18" y="598.95" width="3.8" height="3.8" rx="1" fill="#4A188F" opacity="0.9"/>
<circle cx="40.6" cy="610.55" r="1.9" fill="#3260E4" opacity="0.92"/>
<circle cx="54.66" cy="604.58" r="1.9" fill="#3260E4" opacity="0.92"/>
<circle cx="68.72" cy="604.58" r="1.9" fill="#3260E4" opacity="0.92"/>
<circle cx="82.78" cy="603.84" r="1.9" fill="#3260E4" opacity="0.92"/>
<circle cx="96.84" cy="609.8" r="1.9" fill="#3260E4" opacity="0.92"/>
<circle cx="110.9" cy="612.41" r="1.9" fill="#3260E4" opacity="0.92"/>
<circle cx="124.96" cy="609.8" r="1.9" fill="#3260E4" opacity="0.92"/>
<circle cx="40.6" cy="605.33" r="1.9" fill="#F05838" opacity="0.92"/>
<circle cx="54.66" cy="602.34" r="1.9" fill="#F05838" opacity="0.92"/>
<circle cx="68.72" cy="602.34" r="1.9" fill="#F05838" opacity="0.92"/>
<circle cx="82.78" cy="599.73" r="1.9" fill="#F05838" opacity="0.92"/>
<circle cx="96.84" cy="606.07" r="1.9" fill="#F05838" opacity="0.92"/>
<circle cx="110.9" cy="603.09" r="1.9" fill="#F05838" opacity="0.92"/>
<circle cx="124.96" cy="603.84" r="1.9" fill="#F05838" opacity="0.92"/>
<circle cx="139.02" cy="602.34" r="1.9" fill="#F05838" opacity="0.92"/>
<circle cx="40.6" cy="609.8" r="1.9" fill="#BC2256" opacity="0.92"/>
<circle cx="54.66" cy="610.55" r="1.9" fill="#BC2256" opacity="0.92"/>
<circle cx="68.72" cy="607.57" r="1.9" fill="#BC2256" opacity="0.92"/>
<circle cx="82.78" cy="609.8" r="1.9" fill="#BC2256" opacity="0.92"/>
<circle cx="96.84" cy="602.34" r="1.9" fill="#BC2256" opacity="0.92"/>
<circle cx="110.9" cy="601.22" r="1.9" fill="#BC2256" opacity="0.92"/>
<circle cx="124.96" cy="599.73" r="1.9" fill="#BC2256" opacity="0.92"/>
<circle cx="139.02" cy="606.07" r="1.9" fill="#BC2256" opacity="0.92"/>
<text x="50.4" y="587.4" font-size="7.2" font-weight="bold" text-anchor="start" fill="#111" font-family='"Liberation Sans", sans-serif' stroke="#222" stroke-width="0.2" textLength="19.2" lengthAdjust="spacingAndGlyphs">Down</text>
<path d="M301.4 590V631.1H544.2" fill="none" stroke="#4d4d4d" stroke-width="1.2"/>
<text x="298" y="631.55" font-size="6.7" font-weight="bold" text-anchor="end" fill="#222" font-family='"Liberation Sans", sans-serif' stroke="#222" stroke-width="0.2">0.00</text>
<text x="298" y="622.22" font-size="6.7" font-weight="bold" text-anchor="end" fill="#222" font-family='"Liberation Sans", sans-serif' stroke="#222" stroke-width="0.2">0.25</text>
<text x="298" y="612.9" font-size="6.7" font-weight="bold" text-anchor="end" fill="#222" font-family='"Liberation Sans", sans-serif' stroke="#222" stroke-width="0.2">0.50</text>
<text x="298" y="603.57" font-size="6.7" font-weight="bold" text-anchor="end" fill="#222" font-family='"Liberation Sans", sans-serif' stroke="#222" stroke-width="0.2">0.75</text>
<text x="298" y="594.25" font-size="6.7" font-weight="bold" text-anchor="end" fill="#222" font-family='"Liberation Sans", sans-serif' stroke="#222" stroke-width="0.2">1.00</text>
<text x="310.5" y="640" font-size="6.8" font-weight="bold" text-anchor="middle" fill="#222" font-family='"Liberation Sans", sans-serif' stroke="#222" stroke-width="0.2">2</text>
<text x="324.56" y="640" font-size="6.8" font-weight="bold" text-anchor="middle" fill="#222" font-family='"Liberation Sans", sans-serif' stroke="#222" stroke-width="0.2">3</text>
<text x="338.62" y="640" font-size="6.8" font-weight="bold" text-anchor="middle" fill="#222" font-family='"Liberation Sans", sans-serif' stroke="#222" stroke-width="0.2">4</text>
<text x="352.68" y="640" font-size="6.8" font-weight="bold" text-anchor="middle" fill="#222" font-family='"Liberation Sans", sans-serif' stroke="#222" stroke-width="0.2">5</text>
<text x="366.74" y="640" font-size="6.8" font-weight="bold" text-anchor="middle" fill="#222" font-family='"Liberation Sans", sans-serif' stroke="#222" stroke-width="0.2">6</text>
<text x="380.8" y="640" font-size="6.8" font-weight="bold" text-anchor="middle" fill="#222" font-family='"Liberation Sans", sans-serif' stroke="#222" stroke-width="0.2">7</text>
<text x="394.86" y="640" font-size="6.8" font-weight="bold" text-anchor="middle" fill="#222" font-family='"Liberation Sans", sans-serif' stroke="#222" stroke-width="0.2">8</text>
<text x="408.92" y="640" font-size="6.8" font-weight="bold" text-anchor="middle" fill="#222" font-family='"Liberation Sans", sans-serif' stroke="#222" stroke-width="0.2">9</text>
<text x="422.98" y="640" font-size="6.8" font-weight="bold" text-anchor="middle" fill="#222" font-family='"Liberation Sans", sans-serif' stroke="#222" stroke-width="0.2">10</text>
<text x="437.04" y="640" font-size="6.8" font-weight="bold" text-anchor="middle" fill="#222" font-family='"Liberation Sans", sans-serif' stroke="#222" stroke-width="0.2">11</text>
<text x="451.1" y="640" font-size="6.8" font-weight="bold" text-anchor="middle" fill="#222" font-family='"Liberation Sans", sans-serif' stroke="#222" stroke-width="0.2">12</text>
<text x="465.16" y="640" font-size="6.8" font-weight="bold" text-anchor="middle" fill="#222" font-family='"Liberation Sans", sans-serif' stroke="#222" stroke-width="0.2">13</text>
<text x="479.22" y="640" font-size="6.8" font-weight="bold" text-anchor="middle" fill="#222" font-family='"Liberation Sans", sans-serif' stroke="#222" stroke-width="0.2">14</text>
<text x="493.28" y="640" font-size="6.8" font-weight="bold" text-anchor="middle" fill="#222" font-family='"Liberation Sans", sans-serif' stroke="#222" stroke-width="0.2">15</text>
<text x="507.34" y="640" font-size="6.8" font-weight="bold" text-anchor="middle" fill="#222" font-family='"Liberation Sans", sans-serif' stroke="#222" stroke-width="0.2">16</text>
<text x="521.4" y="640" font-size="6.8" font-weight="bold" text-anchor="middle" fill="#222" font-family='"Liberation Sans", sans-serif' stroke="#222" stroke-width="0.2">17</text>
<text x="535.46" y="640" font-size="6.8" font-weight="bold" text-anchor="middle" fill="#222" font-family='"Liberation Sans", sans-serif' stroke="#222" stroke-width="0.2">18</text>
<path d="M299.4 629.2H301.4M299.4 619.87H301.4M299.4 610.55H301.4M299.4 601.22H301.4M299.4 591.9H301.4M310.5 631.1V633.1M324.56 631.1V633.1M338.62 631.1V633.1M352.68 631.1V633.1M366.74 631.1V633.1M380.8 631.1V633.1M394.86 631.1V633.1M408.92 631.1V633.1M422.98 631.1V633.1M437.04 631.1V633.1M451.1 631.1V633.1M465.16 631.1V633.1M479.22 631.1V633.1M493.28 631.1V633.1M507.34 631.1V633.1M521.4 631.1V633.1M535.46 631.1V633.1" stroke="#4a4a4a" stroke-width="0.8"/>
<path d="M310.5 626.96V629.2M324.56 624.72V629.2M338.62 603.84V626.22M352.68 595.26V613.91M366.74 594.14V613.16M380.8 593.76V613.16M394.86 594.14V613.91M408.92 594.88V615.03M422.98 596V616.52" stroke="#D9899B" stroke-width="1.1" opacity="0.55"/>
<path d="M310.5 600.85V615.77M324.56 601.47V615.15M338.62 598.37V610.8M352.68 594.14V605.33M366.74 599.24V612.91M380.8 595.75V611.92M394.86 597.12V615.77M408.92 598.05V619.5M422.98 597.12V621.37" stroke="#4A188F" stroke-width="1.1" opacity="0.62"/>
<path d="M310.5 598.24V624.35M324.56 591.9V617.64M338.62 591.9V615.96M352.68 592.65V615.03M366.74 607.94V629.2M380.8 606.45V629.2M394.86 606.07V626.59M408.92 604.21V622.86" stroke="#3260E4" stroke-width="1.1" opacity="0.62"/>
<path d="M310.5 595.26V613.91M324.56 593.02V611.67M338.62 593.21V609.99M352.68 592.65V607.57M366.74 600.11V615.03M380.8 596.38V611.3M394.86 595.63V610.55M408.92 594.88V609.8" stroke="#F05838" stroke-width="1.1" opacity="0.55"/>
<path d="M310.5 594.88V629.2M324.56 596.38V629.2M338.62 593.58V623.05M352.68 596.75V622.86M366.74 591.9V615.96M380.8 591.9V614.28M394.86 591.9V611.48M408.92 593.02V611.67" stroke="#BC2256" stroke-width="1.1" opacity="0.6"/>
<polyline points="310.5,628.83 324.56,627.71 338.62,615.03 352.68,604.58 366.74,602.34 380.8,600.85 394.86,600.11 408.92,599.73 422.98,599.73" fill="none" stroke="#D9899B" stroke-width="1.1" opacity="0.95"/>
<polyline points="310.5,608.31 324.56,608.31 338.62,604.58 352.68,599.73 366.74,606.07 380.8,603.84 394.86,606.45 408.92,608.31 422.98,608.31" fill="none" stroke="#4A188F" stroke-width="1.3" opacity="0.95"/>
<polyline points="310.5,611.3 324.56,604.58 338.62,603.84 352.68,603.84 366.74,618.38 380.8,615.77 394.86,613.53 408.92,611.67" fill="none" stroke="#3260E4" stroke-width="1.1" stroke-dasharray="1.1 2.6" opacity="0.8"/>
<polyline points="310.5,604.58 324.56,602.34 338.62,601.6 352.68,600.11 366.74,607.57 380.8,603.84 394.86,603.09 408.92,602.34" fill="none" stroke="#F05838" stroke-width="1.1" stroke-dasharray="1.1 2.6" opacity="0.8"/>
<polyline points="310.5,609.06 324.56,611.3 338.62,607.57 352.68,609.8 366.74,603.84 380.8,603.09 394.86,601.22 408.92,602.34" fill="none" stroke="#BC2256" stroke-width="1.1" stroke-dasharray="1.1 2.6" opacity="0.8"/>
<rect x="308.6" y="626.93" width="3.8" height="3.8" rx="1" fill="#D9899B" opacity="0.9"/>
<rect x="322.66" y="625.81" width="3.8" height="3.8" rx="1" fill="#D9899B" opacity="0.9"/>
<rect x="336.72" y="613.13" width="3.8" height="3.8" rx="1" fill="#D9899B" opacity="0.9"/>
<rect x="350.78" y="602.68" width="3.8" height="3.8" rx="1" fill="#D9899B" opacity="0.9"/>
<rect x="364.84" y="600.44" width="3.8" height="3.8" rx="1" fill="#D9899B" opacity="0.9"/>
<rect x="378.9" y="598.95" width="3.8" height="3.8" rx="1" fill="#D9899B" opacity="0.9"/>
<rect x="392.96" y="598.21" width="3.8" height="3.8" rx="1" fill="#D9899B" opacity="0.9"/>
<rect x="407.02" y="597.83" width="3.8" height="3.8" rx="1" fill="#D9899B" opacity="0.9"/>
<rect x="421.08" y="597.83" width="3.8" height="3.8" rx="1" fill="#D9899B" opacity="0.9"/>
<rect x="308.6" y="606.41" width="3.8" height="3.8" rx="1" fill="#4A188F" opacity="0.9"/>
<rect x="322.66" y="606.41" width="3.8" height="3.8" rx="1" fill="#4A188F" opacity="0.9"/>
<rect x="336.72" y="602.68" width="3.8" height="3.8" rx="1" fill="#4A188F" opacity="0.9"/>
<rect x="350.78" y="597.83" width="3.8" height="3.8" rx="1" fill="#4A188F" opacity="0.9"/>
<rect x="364.84" y="604.17" width="3.8" height="3.8" rx="1" fill="#4A188F" opacity="0.9"/>
<rect x="378.9" y="601.94" width="3.8" height="3.8" rx="1" fill="#4A188F" opacity="0.9"/>
<rect x="392.96" y="604.55" width="3.8" height="3.8" rx="1" fill="#4A188F" opacity="0.9"/>
<rect x="407.02" y="606.41" width="3.8" height="3.8" rx="1" fill="#4A188F" opacity="0.9"/>
<rect x="421.08" y="606.41" width="3.8" height="3.8" rx="1" fill="#4A188F" opacity="0.9"/>
<circle cx="310.5" cy="611.3" r="1.9" fill="#3260E4" opacity="0.92"/>
<circle cx="324.56" cy="604.58" r="1.9" fill="#3260E4" opacity="0.92"/>
<circle cx="338.62" cy="603.84" r="1.9" fill="#3260E4" opacity="0.92"/>
<circle cx="352.68" cy="603.84" r="1.9" fill="#3260E4" opacity="0.92"/>
<circle cx="366.74" cy="618.38" r="1.9" fill="#3260E4" opacity="0.92"/>
<circle cx="380.8" cy="615.77" r="1.9" fill="#3260E4" opacity="0.92"/>
<circle cx="394.86" cy="613.53" r="1.9" fill="#3260E4" opacity="0.92"/>
<circle cx="408.92" cy="611.67" r="1.9" fill="#3260E4" opacity="0.92"/>
<circle cx="310.5" cy="604.58" r="1.9" fill="#F05838" opacity="0.92"/>
<circle cx="324.56" cy="602.34" r="1.9" fill="#F05838" opacity="0.92"/>
<circle cx="338.62" cy="601.6" r="1.9" fill="#F05838" opacity="0.92"/>
<circle cx="352.68" cy="600.11" r="1.9" fill="#F05838" opacity="0.92"/>
<circle cx="366.74" cy="607.57" r="1.9" fill="#F05838" opacity="0.92"/>
<circle cx="380.8" cy="603.84" r="1.9" fill="#F05838" opacity="0.92"/>
<circle cx="394.86" cy="603.09" r="1.9" fill="#F05838" opacity="0.92"/>
<circle cx="408.92" cy="602.34" r="1.9" fill="#F05838" opacity="0.92"/>
<circle cx="310.5" cy="609.06" r="1.9" fill="#BC2256" opacity="0.92"/>
<circle cx="324.56" cy="611.3" r="1.9" fill="#BC2256" opacity="0.92"/>
<circle cx="338.62" cy="607.57" r="1.9" fill="#BC2256" opacity="0.92"/>
<circle cx="352.68" cy="609.8" r="1.9" fill="#BC2256" opacity="0.92"/>
<circle cx="366.74" cy="603.84" r="1.9" fill="#BC2256" opacity="0.92"/>
<circle cx="380.8" cy="603.09" r="1.9" fill="#BC2256" opacity="0.92"/>
<circle cx="394.86" cy="601.22" r="1.9" fill="#BC2256" opacity="0.92"/>
<circle cx="408.92" cy="602.34" r="1.9" fill="#BC2256" opacity="0.92"/>
<text x="315.8" y="587.4" font-size="7.2" font-weight="bold" text-anchor="start" fill="#111" font-family='"Liberation Sans", sans-serif' stroke="#222" stroke-width="0.2" textLength="9.6" lengthAdjust="spacingAndGlyphs">Up</text>
<text x="147" y="656.6" font-size="8.8" font-weight="bold" text-anchor="middle" fill="#111" font-family='"Liberation Sans", sans-serif' stroke="#111" stroke-width="0.18" textLength="106" lengthAdjust="spacingAndGlyphs">Accumulated Repetitions</text>
<text x="417" y="651.8" font-size="8.8" font-weight="bold" text-anchor="middle" fill="#111" font-family='"Liberation Sans", sans-serif' stroke="#111" stroke-width="0.18" textLength="106" lengthAdjust="spacingAndGlyphs">Accumulated Repetitions</text>
</svg>
</body></html>
